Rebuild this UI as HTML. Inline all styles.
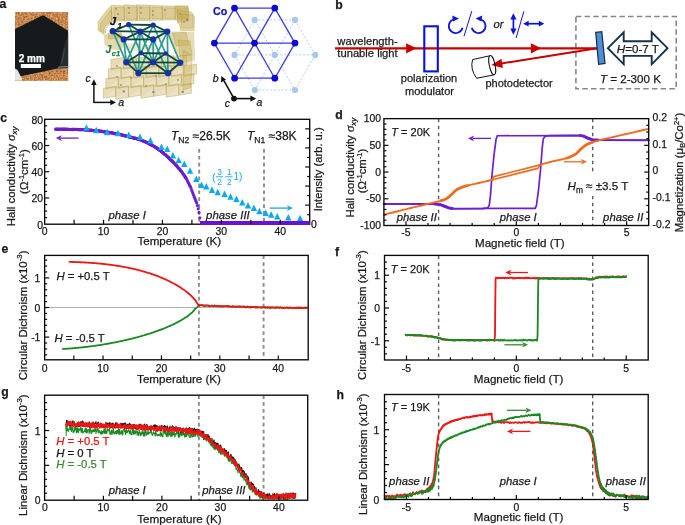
<!DOCTYPE html>
<html><head><meta charset="utf-8"><style>
html,body{margin:0;padding:0;background:#fff;}
svg{display:block;font-family:"Liberation Sans",sans-serif;will-change:transform;}
</style></head><body>
<svg width="685" height="525" viewBox="0 0 685 525">
<rect width="685" height="525" fill="#fff"/>
<text x="-0.60" y="8.40" font-size="12.2" text-anchor="start" font-weight="bold" font-style="normal" fill="#1a1a1a" stroke="#1a1a1a" stroke-width="0.25" >a</text>
<text x="335.30" y="8.80" font-size="12.2" text-anchor="start" font-weight="bold" font-style="normal" fill="#1a1a1a" stroke="#1a1a1a" stroke-width="0.25" >b</text>
<text x="0.20" y="121.70" font-size="12.2" text-anchor="start" font-weight="bold" font-style="normal" fill="#1a1a1a" stroke="#1a1a1a" stroke-width="0.25" >c</text>
<text x="335.20" y="118.60" font-size="12.2" text-anchor="start" font-weight="bold" font-style="normal" fill="#1a1a1a" stroke="#1a1a1a" stroke-width="0.25" >d</text>
<text x="1.60" y="253.20" font-size="12.2" text-anchor="start" font-weight="bold" font-style="normal" fill="#1a1a1a" stroke="#1a1a1a" stroke-width="0.25" >e</text>
<text x="334.90" y="255.60" font-size="12.2" text-anchor="start" font-weight="bold" font-style="normal" fill="#1a1a1a" stroke="#1a1a1a" stroke-width="0.25" >f</text>
<text x="1.20" y="396.10" font-size="12.2" text-anchor="start" font-weight="bold" font-style="normal" fill="#1a1a1a" stroke="#1a1a1a" stroke-width="0.25" >g</text>
<text x="336.50" y="398.80" font-size="12.2" text-anchor="start" font-weight="bold" font-style="normal" fill="#1a1a1a" stroke="#1a1a1a" stroke-width="0.25" >h</text>
<line x1="199.20" y1="149.00" x2="199.20" y2="224.20" stroke="#8c8c8c" stroke-width="1.9" stroke-dasharray="3.7,3.2"/>
<line x1="264.00" y1="149.00" x2="264.00" y2="224.20" stroke="#8c8c8c" stroke-width="1.9" stroke-dasharray="3.7,3.2"/>
<polyline points="55.80,129.30 56.19,129.30 56.64,129.30 57.16,129.31 57.73,129.31 58.35,129.31 59.01,129.31 59.71,129.32 60.45,129.32 61.21,129.32 62.00,129.33 62.81,129.33 63.62,129.33 64.45,129.34 65.28,129.34 66.10,129.35 66.92,129.36 67.72,129.37 68.51,129.38 69.27,129.39 70.00,129.40 70.72,129.41 71.44,129.42 72.16,129.44 72.88,129.45 73.60,129.46 74.33,129.48 75.06,129.49 75.78,129.50 76.51,129.52 77.24,129.54 77.96,129.56 78.69,129.58 79.41,129.60 80.13,129.62 80.85,129.64 81.57,129.67 82.28,129.70 82.99,129.73 83.70,129.76 84.40,129.80 85.10,129.84 85.80,129.88 86.50,129.92 87.20,129.97 87.89,130.01 88.59,130.06 89.28,130.11 89.97,130.16 90.66,130.21 91.35,130.27 92.03,130.33 92.71,130.38 93.39,130.44 94.06,130.50 94.73,130.57 95.40,130.63 96.05,130.70 96.71,130.76 97.36,130.83 98.00,130.90 98.64,130.97 99.28,131.04 99.91,131.12 100.54,131.20 101.17,131.28 101.80,131.36 102.42,131.44 103.04,131.53 103.65,131.61 104.26,131.70 104.86,131.79 105.46,131.88 106.05,131.97 106.63,132.06 107.21,132.15 107.79,132.24 108.35,132.33 108.91,132.42 109.46,132.51 110.00,132.60 110.53,132.69 111.05,132.78 111.56,132.87 112.06,132.96 112.55,133.05 113.03,133.14 113.51,133.23 113.98,133.33 114.45,133.42 114.91,133.51 115.36,133.61 115.82,133.70 116.27,133.80 116.73,133.89 117.18,133.99 117.64,134.09 118.10,134.19 118.56,134.29 119.03,134.40 119.50,134.50 119.97,134.61 120.45,134.71 120.92,134.82 121.40,134.93 121.87,135.04 122.35,135.15 122.82,135.27 123.30,135.38 123.77,135.50 124.24,135.61 124.72,135.73 125.19,135.85 125.67,135.96 126.14,136.08 126.62,136.20 127.09,136.32 127.57,136.44 128.05,136.56 128.52,136.68 129.00,136.80 129.48,136.92 129.96,137.04 130.44,137.15 130.92,137.27 131.40,137.38 131.88,137.49 132.36,137.61 132.84,137.72 133.32,137.84 133.80,137.96 134.28,138.08 134.76,138.20 135.24,138.32 135.72,138.45 136.20,138.58 136.68,138.71 137.16,138.85 137.64,139.00 138.12,139.15 138.60,139.30 139.08,139.46 139.55,139.62 140.03,139.78 140.51,139.95 140.98,140.11 141.46,140.28 141.93,140.46 142.41,140.64 142.88,140.82 143.36,141.00 143.83,141.19 144.30,141.38 144.78,141.58 145.25,141.78 145.73,141.99 146.20,142.20 146.68,142.41 147.15,142.64 147.63,142.87 148.10,143.10 148.57,143.34 149.05,143.58 149.53,143.83 150.00,144.09 150.47,144.35 150.95,144.61 151.42,144.88 151.90,145.15 152.38,145.43 152.85,145.71 153.32,146.00 153.80,146.29 154.28,146.59 154.75,146.89 155.22,147.20 155.70,147.51 156.17,147.82 156.65,148.14 157.12,148.47 157.60,148.80 158.07,149.13 158.55,149.47 159.02,149.82 159.50,150.17 159.97,150.52 160.45,150.88 160.92,151.24 161.40,151.61 161.87,151.98 162.34,152.36 162.82,152.74 163.29,153.12 163.77,153.52 164.24,153.91 164.72,154.31 165.19,154.72 165.67,155.13 166.15,155.55 166.62,155.97 167.10,156.40 167.58,156.83 168.06,157.28 168.55,157.73 169.05,158.19 169.54,158.66 170.04,159.14 170.53,159.62 171.03,160.10 171.52,160.59 172.02,161.08 172.51,161.58 173.00,162.07 173.48,162.57 173.96,163.06 174.44,163.56 174.91,164.05 175.37,164.55 175.82,165.04 176.27,165.52 176.70,166.00 177.13,166.48 177.55,166.95 177.97,167.42 178.38,167.89 178.79,168.36 179.19,168.83 179.58,169.29 179.98,169.76 180.36,170.23 180.74,170.69 181.12,171.16 181.49,171.63 181.86,172.11 182.22,172.58 182.58,173.06 182.93,173.54 183.28,174.02 183.63,174.51 183.97,175.00 184.30,175.50 184.63,176.00 184.96,176.51 185.28,177.03 185.59,177.55 185.90,178.08" fill="none" stroke="#6a1fd0" stroke-width="3.0" stroke-linejoin="round" stroke-linecap="round" />
<circle cx="55.80" cy="129.21" r="1.6" fill="#6a1fd0"/>
<circle cx="56.60" cy="129.13" r="1.6" fill="#6a1fd0"/>
<circle cx="57.40" cy="129.38" r="1.6" fill="#6a1fd0"/>
<circle cx="58.20" cy="129.10" r="1.6" fill="#6a1fd0"/>
<circle cx="59.00" cy="129.33" r="1.6" fill="#6a1fd0"/>
<circle cx="59.80" cy="129.25" r="1.6" fill="#6a1fd0"/>
<circle cx="60.60" cy="129.10" r="1.6" fill="#6a1fd0"/>
<circle cx="61.40" cy="129.33" r="1.6" fill="#6a1fd0"/>
<circle cx="62.20" cy="129.09" r="1.6" fill="#6a1fd0"/>
<circle cx="63.00" cy="129.30" r="1.6" fill="#6a1fd0"/>
<circle cx="63.80" cy="129.12" r="1.6" fill="#6a1fd0"/>
<circle cx="64.60" cy="129.14" r="1.6" fill="#6a1fd0"/>
<circle cx="65.40" cy="129.31" r="1.6" fill="#6a1fd0"/>
<circle cx="66.20" cy="129.52" r="1.6" fill="#6a1fd0"/>
<circle cx="67.00" cy="129.17" r="1.6" fill="#6a1fd0"/>
<circle cx="67.80" cy="129.23" r="1.6" fill="#6a1fd0"/>
<circle cx="68.60" cy="129.44" r="1.6" fill="#6a1fd0"/>
<circle cx="69.40" cy="129.61" r="1.6" fill="#6a1fd0"/>
<circle cx="70.20" cy="129.44" r="1.6" fill="#6a1fd0"/>
<circle cx="71.00" cy="129.37" r="1.6" fill="#6a1fd0"/>
<circle cx="71.80" cy="129.67" r="1.6" fill="#6a1fd0"/>
<circle cx="72.60" cy="129.22" r="1.6" fill="#6a1fd0"/>
<circle cx="73.40" cy="129.64" r="1.6" fill="#6a1fd0"/>
<circle cx="74.20" cy="129.37" r="1.6" fill="#6a1fd0"/>
<circle cx="75.00" cy="129.31" r="1.6" fill="#6a1fd0"/>
<circle cx="75.80" cy="129.31" r="1.6" fill="#6a1fd0"/>
<circle cx="76.60" cy="129.43" r="1.6" fill="#6a1fd0"/>
<circle cx="77.40" cy="129.70" r="1.6" fill="#6a1fd0"/>
<circle cx="78.20" cy="129.40" r="1.6" fill="#6a1fd0"/>
<circle cx="79.00" cy="129.63" r="1.6" fill="#6a1fd0"/>
<circle cx="79.80" cy="129.68" r="1.6" fill="#6a1fd0"/>
<circle cx="80.60" cy="129.57" r="1.6" fill="#6a1fd0"/>
<circle cx="81.40" cy="129.69" r="1.6" fill="#6a1fd0"/>
<circle cx="82.20" cy="129.48" r="1.6" fill="#6a1fd0"/>
<circle cx="83.00" cy="129.51" r="1.6" fill="#6a1fd0"/>
<circle cx="83.80" cy="129.62" r="1.6" fill="#6a1fd0"/>
<circle cx="84.60" cy="129.90" r="1.6" fill="#6a1fd0"/>
<circle cx="85.40" cy="129.82" r="1.6" fill="#6a1fd0"/>
<circle cx="86.20" cy="129.81" r="1.6" fill="#6a1fd0"/>
<circle cx="87.00" cy="130.00" r="1.6" fill="#6a1fd0"/>
<circle cx="87.80" cy="129.98" r="1.6" fill="#6a1fd0"/>
<circle cx="88.60" cy="129.96" r="1.6" fill="#6a1fd0"/>
<circle cx="89.40" cy="130.27" r="1.6" fill="#6a1fd0"/>
<circle cx="90.20" cy="130.28" r="1.6" fill="#6a1fd0"/>
<circle cx="91.00" cy="130.11" r="1.6" fill="#6a1fd0"/>
<circle cx="91.80" cy="130.34" r="1.6" fill="#6a1fd0"/>
<circle cx="92.60" cy="130.39" r="1.6" fill="#6a1fd0"/>
<circle cx="93.40" cy="130.63" r="1.6" fill="#6a1fd0"/>
<circle cx="94.20" cy="130.63" r="1.6" fill="#6a1fd0"/>
<circle cx="95.00" cy="130.49" r="1.6" fill="#6a1fd0"/>
<circle cx="95.80" cy="130.91" r="1.6" fill="#6a1fd0"/>
<circle cx="96.60" cy="130.56" r="1.6" fill="#6a1fd0"/>
<circle cx="97.40" cy="130.79" r="1.6" fill="#6a1fd0"/>
<circle cx="98.20" cy="131.05" r="1.6" fill="#6a1fd0"/>
<circle cx="99.00" cy="130.84" r="1.6" fill="#6a1fd0"/>
<circle cx="99.80" cy="131.10" r="1.6" fill="#6a1fd0"/>
<circle cx="100.60" cy="130.98" r="1.6" fill="#6a1fd0"/>
<circle cx="101.40" cy="131.39" r="1.6" fill="#6a1fd0"/>
<circle cx="102.20" cy="131.55" r="1.6" fill="#6a1fd0"/>
<circle cx="103.00" cy="131.56" r="1.6" fill="#6a1fd0"/>
<circle cx="103.80" cy="131.82" r="1.6" fill="#6a1fd0"/>
<circle cx="104.60" cy="131.66" r="1.6" fill="#6a1fd0"/>
<circle cx="105.40" cy="131.97" r="1.6" fill="#6a1fd0"/>
<circle cx="106.20" cy="132.04" r="1.6" fill="#6a1fd0"/>
<circle cx="107.00" cy="132.15" r="1.6" fill="#6a1fd0"/>
<circle cx="107.80" cy="132.22" r="1.6" fill="#6a1fd0"/>
<circle cx="108.60" cy="132.54" r="1.6" fill="#6a1fd0"/>
<circle cx="109.40" cy="132.72" r="1.6" fill="#6a1fd0"/>
<circle cx="110.20" cy="132.62" r="1.6" fill="#6a1fd0"/>
<circle cx="111.00" cy="132.85" r="1.6" fill="#6a1fd0"/>
<circle cx="111.80" cy="132.69" r="1.6" fill="#6a1fd0"/>
<circle cx="112.60" cy="133.16" r="1.6" fill="#6a1fd0"/>
<circle cx="113.40" cy="133.29" r="1.6" fill="#6a1fd0"/>
<circle cx="114.20" cy="133.62" r="1.6" fill="#6a1fd0"/>
<circle cx="115.00" cy="133.69" r="1.6" fill="#6a1fd0"/>
<circle cx="115.80" cy="133.59" r="1.6" fill="#6a1fd0"/>
<circle cx="116.60" cy="133.81" r="1.6" fill="#6a1fd0"/>
<circle cx="117.40" cy="134.12" r="1.6" fill="#6a1fd0"/>
<circle cx="118.20" cy="133.97" r="1.6" fill="#6a1fd0"/>
<circle cx="119.00" cy="134.37" r="1.6" fill="#6a1fd0"/>
<circle cx="119.80" cy="134.40" r="1.6" fill="#6a1fd0"/>
<circle cx="120.60" cy="134.56" r="1.6" fill="#6a1fd0"/>
<circle cx="121.40" cy="134.71" r="1.6" fill="#6a1fd0"/>
<circle cx="122.20" cy="135.25" r="1.6" fill="#6a1fd0"/>
<circle cx="123.00" cy="135.13" r="1.6" fill="#6a1fd0"/>
<circle cx="123.80" cy="135.38" r="1.6" fill="#6a1fd0"/>
<circle cx="124.60" cy="135.65" r="1.6" fill="#6a1fd0"/>
<circle cx="125.40" cy="136.08" r="1.6" fill="#6a1fd0"/>
<circle cx="126.20" cy="135.89" r="1.6" fill="#6a1fd0"/>
<circle cx="127.00" cy="136.27" r="1.6" fill="#6a1fd0"/>
<circle cx="127.80" cy="136.52" r="1.6" fill="#6a1fd0"/>
<circle cx="128.60" cy="136.89" r="1.6" fill="#6a1fd0"/>
<circle cx="129.40" cy="137.06" r="1.6" fill="#6a1fd0"/>
<circle cx="130.20" cy="137.28" r="1.6" fill="#6a1fd0"/>
<circle cx="131.00" cy="137.18" r="1.6" fill="#6a1fd0"/>
<circle cx="131.80" cy="137.43" r="1.6" fill="#6a1fd0"/>
<circle cx="132.60" cy="137.60" r="1.6" fill="#6a1fd0"/>
<circle cx="133.40" cy="138.05" r="1.6" fill="#6a1fd0"/>
<circle cx="134.20" cy="138.28" r="1.6" fill="#6a1fd0"/>
<circle cx="135.00" cy="138.08" r="1.6" fill="#6a1fd0"/>
<circle cx="135.80" cy="138.31" r="1.6" fill="#6a1fd0"/>
<circle cx="136.60" cy="138.56" r="1.6" fill="#6a1fd0"/>
<circle cx="137.40" cy="138.79" r="1.6" fill="#6a1fd0"/>
<circle cx="138.20" cy="139.16" r="1.6" fill="#6a1fd0"/>
<circle cx="139.00" cy="139.48" r="1.6" fill="#6a1fd0"/>
<circle cx="139.80" cy="139.58" r="1.6" fill="#6a1fd0"/>
<circle cx="140.60" cy="139.73" r="1.6" fill="#6a1fd0"/>
<circle cx="141.40" cy="140.22" r="1.6" fill="#6a1fd0"/>
<circle cx="142.20" cy="140.49" r="1.6" fill="#6a1fd0"/>
<circle cx="143.00" cy="140.89" r="1.6" fill="#6a1fd0"/>
<circle cx="143.80" cy="141.40" r="1.6" fill="#6a1fd0"/>
<circle cx="144.60" cy="141.60" r="1.6" fill="#6a1fd0"/>
<circle cx="145.40" cy="141.85" r="1.6" fill="#6a1fd0"/>
<circle cx="146.20" cy="142.26" r="1.6" fill="#6a1fd0"/>
<circle cx="147.00" cy="142.65" r="1.6" fill="#6a1fd0"/>
<circle cx="147.80" cy="142.73" r="1.6" fill="#6a1fd0"/>
<circle cx="148.60" cy="143.55" r="1.6" fill="#6a1fd0"/>
<circle cx="149.40" cy="143.91" r="1.6" fill="#6a1fd0"/>
<circle cx="150.20" cy="144.38" r="1.6" fill="#6a1fd0"/>
<circle cx="151.00" cy="144.79" r="1.6" fill="#6a1fd0"/>
<circle cx="151.80" cy="145.04" r="1.6" fill="#6a1fd0"/>
<circle cx="152.60" cy="145.51" r="1.6" fill="#6a1fd0"/>
<circle cx="153.40" cy="145.85" r="1.6" fill="#6a1fd0"/>
<circle cx="154.20" cy="146.61" r="1.6" fill="#6a1fd0"/>
<circle cx="155.00" cy="146.83" r="1.6" fill="#6a1fd0"/>
<circle cx="155.80" cy="147.36" r="1.6" fill="#6a1fd0"/>
<circle cx="156.60" cy="147.97" r="1.6" fill="#6a1fd0"/>
<circle cx="157.40" cy="148.49" r="1.6" fill="#6a1fd0"/>
<circle cx="158.20" cy="149.14" r="1.6" fill="#6a1fd0"/>
<circle cx="159.00" cy="149.58" r="1.6" fill="#6a1fd0"/>
<circle cx="159.80" cy="150.14" r="1.6" fill="#6a1fd0"/>
<circle cx="160.60" cy="150.82" r="1.6" fill="#6a1fd0"/>
<circle cx="161.40" cy="151.41" r="1.6" fill="#6a1fd0"/>
<circle cx="162.20" cy="152.17" r="1.6" fill="#6a1fd0"/>
<circle cx="163.00" cy="152.65" r="1.6" fill="#6a1fd0"/>
<circle cx="163.80" cy="153.73" r="1.6" fill="#6a1fd0"/>
<circle cx="164.60" cy="154.27" r="1.6" fill="#6a1fd0"/>
<circle cx="165.40" cy="154.72" r="1.6" fill="#6a1fd0"/>
<circle cx="166.20" cy="155.47" r="1.6" fill="#6a1fd0"/>
<circle cx="167.00" cy="156.23" r="1.6" fill="#6a1fd0"/>
<circle cx="167.80" cy="156.97" r="1.6" fill="#6a1fd0"/>
<circle cx="168.60" cy="157.59" r="1.6" fill="#6a1fd0"/>
<circle cx="169.40" cy="158.70" r="1.6" fill="#6a1fd0"/>
<circle cx="170.20" cy="159.54" r="1.6" fill="#6a1fd0"/>
<circle cx="171.00" cy="160.06" r="1.6" fill="#6a1fd0"/>
<circle cx="171.80" cy="160.86" r="1.6" fill="#6a1fd0"/>
<circle cx="172.60" cy="161.46" r="1.6" fill="#6a1fd0"/>
<circle cx="173.40" cy="162.28" r="1.6" fill="#6a1fd0"/>
<circle cx="174.20" cy="163.23" r="1.6" fill="#6a1fd0"/>
<circle cx="175.00" cy="164.04" r="1.6" fill="#6a1fd0"/>
<circle cx="175.80" cy="165.18" r="1.6" fill="#6a1fd0"/>
<circle cx="176.60" cy="165.72" r="1.6" fill="#6a1fd0"/>
<circle cx="177.40" cy="166.54" r="1.6" fill="#6a1fd0"/>
<circle cx="178.20" cy="167.91" r="1.6" fill="#6a1fd0"/>
<circle cx="179.00" cy="168.62" r="1.6" fill="#6a1fd0"/>
<circle cx="179.80" cy="169.37" r="1.6" fill="#6a1fd0"/>
<circle cx="180.60" cy="170.54" r="1.6" fill="#6a1fd0"/>
<circle cx="181.40" cy="171.28" r="1.6" fill="#6a1fd0"/>
<circle cx="182.20" cy="172.56" r="1.6" fill="#6a1fd0"/>
<circle cx="183.00" cy="173.87" r="1.6" fill="#6a1fd0"/>
<circle cx="183.80" cy="174.94" r="1.6" fill="#6a1fd0"/>
<circle cx="184.60" cy="176.06" r="1.6" fill="#6a1fd0"/>
<circle cx="185.40" cy="177.12" r="1.6" fill="#6a1fd0"/>
<circle cx="186.20" cy="178.52" r="1.6" fill="#6a1fd0"/>
<circle cx="187.00" cy="179.86" r="1.6" fill="#6a1fd0"/>
<circle cx="187.80" cy="181.67" r="1.6" fill="#6a1fd0"/>
<circle cx="188.60" cy="183.13" r="1.6" fill="#6a1fd0"/>
<circle cx="189.40" cy="184.89" r="1.6" fill="#6a1fd0"/>
<circle cx="190.20" cy="186.34" r="1.6" fill="#6a1fd0"/>
<circle cx="191.00" cy="188.10" r="1.6" fill="#6a1fd0"/>
<circle cx="191.80" cy="190.38" r="1.6" fill="#6a1fd0"/>
<circle cx="192.60" cy="192.57" r="1.6" fill="#6a1fd0"/>
<circle cx="193.40" cy="194.64" r="1.6" fill="#6a1fd0"/>
<circle cx="194.20" cy="196.66" r="1.6" fill="#6a1fd0"/>
<circle cx="195.00" cy="198.66" r="1.6" fill="#6a1fd0"/>
<circle cx="195.80" cy="200.65" r="1.6" fill="#6a1fd0"/>
<circle cx="196.60" cy="202.65" r="1.6" fill="#6a1fd0"/>
<circle cx="197.40" cy="205.54" r="1.6" fill="#6a1fd0"/>
<circle cx="198.20" cy="208.78" r="1.6" fill="#6a1fd0"/>
<circle cx="199.00" cy="212.72" r="1.6" fill="#6a1fd0"/>
<circle cx="199.80" cy="217.80" r="1.6" fill="#6a1fd0"/>
<polygon points="86.40,124.20 89.60,130.70 83.20,130.70" fill="#10a8ea" stroke="none" stroke-width="1.0" />
<polygon points="96.20,126.70 99.40,133.20 93.00,133.20" fill="#10a8ea" stroke="none" stroke-width="1.0" />
<polygon points="107.10,128.70 110.30,135.20 103.90,135.20" fill="#10a8ea" stroke="none" stroke-width="1.0" />
<polygon points="117.90,129.70 121.10,136.20 114.70,136.20" fill="#10a8ea" stroke="none" stroke-width="1.0" />
<polygon points="128.80,131.60 132.00,138.10 125.60,138.10" fill="#10a8ea" stroke="none" stroke-width="1.0" />
<polygon points="140.00,133.60 143.20,140.10 136.80,140.10" fill="#10a8ea" stroke="none" stroke-width="1.0" />
<polygon points="150.40,137.00 153.60,143.50 147.20,143.50" fill="#10a8ea" stroke="none" stroke-width="1.0" />
<polygon points="161.40,143.50 164.60,150.00 158.20,150.00" fill="#10a8ea" stroke="none" stroke-width="1.0" />
<polygon points="167.20,145.60 170.40,152.10 164.00,152.10" fill="#10a8ea" stroke="none" stroke-width="1.0" />
<polygon points="172.90,152.00 176.10,158.50 169.70,158.50" fill="#10a8ea" stroke="none" stroke-width="1.0" />
<polygon points="178.60,156.80 181.80,163.30 175.40,163.30" fill="#10a8ea" stroke="none" stroke-width="1.0" />
<polygon points="184.30,160.60 187.50,167.10 181.10,167.10" fill="#10a8ea" stroke="none" stroke-width="1.0" />
<polygon points="190.00,167.30 193.20,173.80 186.80,173.80" fill="#10a8ea" stroke="none" stroke-width="1.0" />
<polygon points="196.30,175.50 199.50,182.00 193.10,182.00" fill="#10a8ea" stroke="none" stroke-width="1.0" />
<polygon points="201.50,181.60 204.70,188.10 198.30,188.10" fill="#10a8ea" stroke="none" stroke-width="1.0" />
<polygon points="206.30,183.10 209.50,189.60 203.10,189.60" fill="#10a8ea" stroke="none" stroke-width="1.0" />
<polygon points="212.00,186.40 215.20,192.90 208.80,192.90" fill="#10a8ea" stroke="none" stroke-width="1.0" />
<polygon points="217.70,188.80 220.90,195.30 214.50,195.30" fill="#10a8ea" stroke="none" stroke-width="1.0" />
<polygon points="224.60,190.60 227.80,197.10 221.40,197.10" fill="#10a8ea" stroke="none" stroke-width="1.0" />
<polygon points="230.50,193.20 233.70,199.70 227.30,199.70" fill="#10a8ea" stroke="none" stroke-width="1.0" />
<polygon points="236.40,195.50 239.60,202.00 233.20,202.00" fill="#10a8ea" stroke="none" stroke-width="1.0" />
<polygon points="242.30,198.90 245.50,205.40 239.10,205.40" fill="#10a8ea" stroke="none" stroke-width="1.0" />
<polygon points="248.00,202.00 251.20,208.50 244.80,208.50" fill="#10a8ea" stroke="none" stroke-width="1.0" />
<polygon points="253.90,204.40 257.10,210.90 250.70,210.90" fill="#10a8ea" stroke="none" stroke-width="1.0" />
<polygon points="259.40,207.70 262.60,214.20 256.20,214.20" fill="#10a8ea" stroke="none" stroke-width="1.0" />
<polygon points="265.70,209.40 268.90,215.90 262.50,215.90" fill="#10a8ea" stroke="none" stroke-width="1.0" />
<polygon points="271.20,211.20 274.40,217.70 268.00,217.70" fill="#10a8ea" stroke="none" stroke-width="1.0" />
<polygon points="277.20,212.90 280.40,219.40 274.00,219.40" fill="#10a8ea" stroke="none" stroke-width="1.0" />
<polygon points="288.30,213.90 291.50,220.40 285.10,220.40" fill="#10a8ea" stroke="none" stroke-width="1.0" />
<polygon points="300.10,214.70 303.30,221.20 296.90,221.20" fill="#10a8ea" stroke="none" stroke-width="1.0" />
<rect x="44.65" y="119.30" width="265.05" height="104.90" fill="none" stroke="#0a0a0a" stroke-width="1.35"/>
<rect x="200.0" y="221.0" width="109.70" height="4.0" fill="#6a12d2"/>
<line x1="44.65" y1="197.97" x2="49.15" y2="197.97" stroke="#0a0a0a" stroke-width="1.2" />
<line x1="44.65" y1="171.75" x2="49.15" y2="171.75" stroke="#0a0a0a" stroke-width="1.2" />
<line x1="44.65" y1="145.53" x2="49.15" y2="145.53" stroke="#0a0a0a" stroke-width="1.2" />
<line x1="44.65" y1="217.64" x2="47.15" y2="217.64" stroke="#0a0a0a" stroke-width="1.2" />
<line x1="44.65" y1="211.09" x2="47.15" y2="211.09" stroke="#0a0a0a" stroke-width="1.2" />
<line x1="44.65" y1="204.53" x2="47.15" y2="204.53" stroke="#0a0a0a" stroke-width="1.2" />
<line x1="44.65" y1="191.42" x2="47.15" y2="191.42" stroke="#0a0a0a" stroke-width="1.2" />
<line x1="44.65" y1="184.86" x2="47.15" y2="184.86" stroke="#0a0a0a" stroke-width="1.2" />
<line x1="44.65" y1="178.31" x2="47.15" y2="178.31" stroke="#0a0a0a" stroke-width="1.2" />
<line x1="44.65" y1="165.19" x2="47.15" y2="165.19" stroke="#0a0a0a" stroke-width="1.2" />
<line x1="44.65" y1="158.64" x2="47.15" y2="158.64" stroke="#0a0a0a" stroke-width="1.2" />
<line x1="44.65" y1="152.08" x2="47.15" y2="152.08" stroke="#0a0a0a" stroke-width="1.2" />
<line x1="44.65" y1="138.97" x2="47.15" y2="138.97" stroke="#0a0a0a" stroke-width="1.2" />
<line x1="44.65" y1="132.41" x2="47.15" y2="132.41" stroke="#0a0a0a" stroke-width="1.2" />
<line x1="44.65" y1="125.86" x2="47.15" y2="125.86" stroke="#0a0a0a" stroke-width="1.2" />
<line x1="103.55" y1="224.20" x2="103.55" y2="219.80" stroke="#0a0a0a" stroke-width="1.2" />
<line x1="162.45" y1="224.20" x2="162.45" y2="219.80" stroke="#0a0a0a" stroke-width="1.2" />
<line x1="221.35" y1="224.20" x2="221.35" y2="219.80" stroke="#0a0a0a" stroke-width="1.2" />
<line x1="280.25" y1="224.20" x2="280.25" y2="219.80" stroke="#0a0a0a" stroke-width="1.2" />
<line x1="74.10" y1="224.20" x2="74.10" y2="219.80" stroke="#0a0a0a" stroke-width="1.2" />
<line x1="133.00" y1="224.20" x2="133.00" y2="219.80" stroke="#0a0a0a" stroke-width="1.2" />
<line x1="191.90" y1="224.20" x2="191.90" y2="219.80" stroke="#0a0a0a" stroke-width="1.2" />
<line x1="250.80" y1="224.20" x2="250.80" y2="219.80" stroke="#0a0a0a" stroke-width="1.2" />
<line x1="309.70" y1="205.13" x2="305.20" y2="205.13" stroke="#0a0a0a" stroke-width="1.2" />
<line x1="309.70" y1="186.05" x2="305.20" y2="186.05" stroke="#0a0a0a" stroke-width="1.2" />
<line x1="309.70" y1="166.98" x2="305.20" y2="166.98" stroke="#0a0a0a" stroke-width="1.2" />
<line x1="309.70" y1="147.91" x2="305.20" y2="147.91" stroke="#0a0a0a" stroke-width="1.2" />
<line x1="309.70" y1="128.84" x2="305.20" y2="128.84" stroke="#0a0a0a" stroke-width="1.2" />
<line x1="309.70" y1="214.66" x2="307.20" y2="214.66" stroke="#0a0a0a" stroke-width="1.2" />
<line x1="309.70" y1="195.59" x2="307.20" y2="195.59" stroke="#0a0a0a" stroke-width="1.2" />
<line x1="309.70" y1="176.52" x2="307.20" y2="176.52" stroke="#0a0a0a" stroke-width="1.2" />
<line x1="309.70" y1="157.45" x2="307.20" y2="157.45" stroke="#0a0a0a" stroke-width="1.2" />
<line x1="309.70" y1="138.37" x2="307.20" y2="138.37" stroke="#0a0a0a" stroke-width="1.2" />
<text x="43.00" y="228.50" font-size="10.4" text-anchor="end" font-weight="normal" font-style="normal" fill="#1a1a1a" stroke="#1a1a1a" stroke-width="0.25" >0</text>
<text x="43.00" y="202.28" font-size="10.4" text-anchor="end" font-weight="normal" font-style="normal" fill="#1a1a1a" stroke="#1a1a1a" stroke-width="0.25" >20</text>
<text x="43.00" y="176.05" font-size="10.4" text-anchor="end" font-weight="normal" font-style="normal" fill="#1a1a1a" stroke="#1a1a1a" stroke-width="0.25" >40</text>
<text x="43.00" y="149.83" font-size="10.4" text-anchor="end" font-weight="normal" font-style="normal" fill="#1a1a1a" stroke="#1a1a1a" stroke-width="0.25" >60</text>
<text x="43.00" y="123.60" font-size="10.4" text-anchor="end" font-weight="normal" font-style="normal" fill="#1a1a1a" stroke="#1a1a1a" stroke-width="0.25" >80</text>
<text x="44.65" y="234.60" font-size="10.4" text-anchor="middle" font-weight="normal" font-style="normal" fill="#1a1a1a" stroke="#1a1a1a" stroke-width="0.25" >0</text>
<text x="103.55" y="234.60" font-size="10.4" text-anchor="middle" font-weight="normal" font-style="normal" fill="#1a1a1a" stroke="#1a1a1a" stroke-width="0.25" >10</text>
<text x="162.45" y="234.60" font-size="10.4" text-anchor="middle" font-weight="normal" font-style="normal" fill="#1a1a1a" stroke="#1a1a1a" stroke-width="0.25" >20</text>
<text x="221.35" y="234.60" font-size="10.4" text-anchor="middle" font-weight="normal" font-style="normal" fill="#1a1a1a" stroke="#1a1a1a" stroke-width="0.25" >30</text>
<text x="280.25" y="234.60" font-size="10.4" text-anchor="middle" font-weight="normal" font-style="normal" fill="#1a1a1a" stroke="#1a1a1a" stroke-width="0.25" >40</text>
<text x="311.00" y="227.70" font-size="10.4" text-anchor="start" font-weight="normal" font-style="normal" fill="#1a1a1a" stroke="#1a1a1a" stroke-width="0.25" >0</text>
<text x="179.30" y="245.40" font-size="11.6" text-anchor="middle" font-weight="normal" font-style="normal" fill="#1a1a1a" stroke="#1a1a1a" stroke-width="0.25" >Temperature (K)</text>
<text transform="translate(14.70,176.40) rotate(-90)" font-size="11.4" text-anchor="middle" fill="#1a1a1a" stroke="#1a1a1a" stroke-width="0.25">Hall conductivity <tspan font-style="italic" font-family="Liberation Serif" font-size="13">σ</tspan><tspan font-style="italic" font-size="8" dy="2.5">xy</tspan></text>
<text transform="translate(27.50,171.60) rotate(-90)" font-size="11.4" text-anchor="middle" fill="#1a1a1a" stroke="#1a1a1a" stroke-width="0.25">(Ω<tspan font-size="7.5" dy="-4">-1</tspan><tspan dy="4">cm</tspan><tspan font-size="7.5" dy="-4">-1</tspan><tspan dy="4">)</tspan></text>
<text transform="translate(321.80,169.30) rotate(-90)" font-size="11.2" text-anchor="middle" fill="#1a1a1a" stroke="#1a1a1a" stroke-width="0.25">Intensity (arb. u.)</text>
<text x="127.20" y="218.60" font-size="11.4" text-anchor="middle" font-weight="normal" font-style="italic" fill="#1a1a1a" stroke="#1a1a1a" stroke-width="0.25" >phase I</text>
<text x="227.90" y="218.60" font-size="11.4" text-anchor="middle" font-weight="normal" font-style="italic" fill="#1a1a1a" stroke="#1a1a1a" stroke-width="0.25" >phase III</text>
<text x="171.00" y="140.20" font-size="12.0" text-anchor="start" font-weight="normal" font-style="normal" fill="#1a1a1a" stroke="#1a1a1a" stroke-width="0.25" ><tspan font-style="italic">T</tspan><tspan font-size="8.6" dy="2.6">N2</tspan><tspan dy="-2.6"> ≈26.5K</tspan></text>
<text x="247.00" y="140.20" font-size="12.0" text-anchor="start" font-weight="normal" font-style="normal" fill="#1a1a1a" stroke="#1a1a1a" stroke-width="0.25" ><tspan font-style="italic">T</tspan><tspan font-size="8.6" dy="2.6">N1</tspan><tspan dy="-2.6"> ≈38K</tspan></text>
<line x1="78.50" y1="138.10" x2="60.60" y2="138.10" stroke="#6a1fd0" stroke-width="1.3" />
<polygon points="55.80,138.10 61.80,135.30 60.30,138.10 61.80,140.90" fill="#6a1fd0" stroke="none" stroke-width="1.0" />
<line x1="269.70" y1="208.10" x2="288.10" y2="208.10" stroke="#1aa7e6" stroke-width="1.3" />
<polygon points="292.90,208.10 286.90,205.30 288.40,208.10 286.90,210.90" fill="#1aa7e6" stroke="none" stroke-width="1.0" />
<g fill="#1aa7e6" font-size="10"><text x="212.2" y="180.6">(</text><text x="217.2" y="175.3" font-size="8.4">3</text><text x="217.2" y="184.8" font-size="8.4">2</text><text x="226.9" y="175.3" font-size="8.4">1</text><text x="226.9" y="184.8" font-size="8.4">2</text><text x="233.4" y="180.4">1)</text></g>
<line x1="216.00" y1="176.80" x2="223.20" y2="176.80" stroke="#1aa7e6" stroke-width="0.9" />
<line x1="225.20" y1="176.80" x2="232.60" y2="176.80" stroke="#1aa7e6" stroke-width="0.9" />
<line x1="438.60" y1="118.65" x2="438.60" y2="225.50" stroke="#5c5c5c" stroke-width="1.4" stroke-dasharray="3.7,3.3"/>
<line x1="592.70" y1="118.65" x2="592.70" y2="225.50" stroke="#5c5c5c" stroke-width="1.4" stroke-dasharray="3.7,3.3"/>
<polyline points="384.00,203.80 436.00,203.90 440.00,204.60 444.00,206.40 448.00,207.80 452.00,208.40 460.00,208.50 535.30,208.40 536.50,205.00 538.50,190.00 540.50,170.00 542.20,148.00 543.30,139.00 545.00,136.20 550.00,135.60 578.00,135.30 583.00,136.30 587.00,138.40 591.50,139.60 600.00,140.00 648.70,140.20" fill="none" stroke="#6a1fd0" stroke-width="1.7" stroke-linejoin="round" stroke-linecap="round" />
<polyline points="648.60,140.34 596.60,140.24 592.60,139.54 588.60,137.74 584.60,136.34 580.60,135.74 572.60,135.64 497.30,135.74 496.10,139.14 494.10,154.14 492.10,174.14 490.40,196.14 489.30,205.14 487.60,207.94 482.60,208.54 454.60,208.84 449.60,207.84 445.60,205.74 441.10,204.54 432.60,204.14 383.90,203.94" fill="none" stroke="#6a1fd0" stroke-width="1.7" stroke-linejoin="round" stroke-linecap="round" />
<polyline points="434.00,203.90 440.00,204.50 444.00,206.30 448.00,207.80 452.00,208.50" fill="none" stroke="#6a1fd0" stroke-width="2.8" stroke-linejoin="round" stroke-linecap="round" />
<polyline points="580.00,135.30 584.00,136.20 588.00,138.30 592.00,139.60 598.00,140.00" fill="none" stroke="#6a1fd0" stroke-width="2.8" stroke-linejoin="round" stroke-linecap="round" />
<polyline points="384.00,214.70 385.69,214.28 388.00,213.70 390.75,213.01 393.78,212.25 396.92,211.47 400.00,210.70 403.12,209.93 406.43,209.12 409.84,208.28 413.30,207.44 416.71,206.60 420.00,205.80 423.30,205.00 426.70,204.19 430.05,203.39 433.23,202.62 436.09,201.92 438.50,201.30 440.38,200.81 441.81,200.43 442.92,200.12 443.86,199.81 444.74,199.46 445.70,199.00 446.70,198.44 447.62,197.82 448.49,197.16 449.33,196.46 450.16,195.73 451.00,195.00 451.85,194.22 452.69,193.38 453.52,192.51 454.34,191.67 455.17,190.88 456.00,190.20 456.83,189.63 457.66,189.14 458.48,188.71 459.31,188.32 460.15,187.96 461.00,187.60 461.77,187.28 462.43,187.02 463.11,186.79 463.90,186.54 464.93,186.26 466.30,185.90 468.11,185.45 470.29,184.94 472.69,184.38 475.20,183.81 477.68,183.24 480.00,182.70 482.31,182.15 484.75,181.57 487.16,181.00 489.37,180.47 491.24,180.02 492.60,179.70" fill="none" stroke="#f26b1d" stroke-width="1.9" stroke-linejoin="round" stroke-linecap="round" />
<polyline points="492.60,179.70 537.90,168.40 540.00,164.90" fill="none" stroke="#f26b1d" stroke-width="1.6" stroke-linejoin="round" stroke-linecap="round" />
<polyline points="492.60,179.70 493.70,176.60 540.00,164.90" fill="none" stroke="#f26b1d" stroke-width="1.6" stroke-linejoin="round" stroke-linecap="round" />
<polyline points="540.00,164.90 541.01,164.59 542.36,164.18 543.98,163.69 545.82,163.14 547.85,162.57 550.00,162.00 552.46,161.42 555.29,160.79 558.31,160.14 561.30,159.49 564.06,158.83 566.40,158.20 568.30,157.58 569.93,156.97 571.34,156.36 572.57,155.76 573.67,155.17 574.70,154.60 575.60,154.05 576.33,153.53 576.93,153.01 577.46,152.51 577.97,152.01 578.50,151.50 579.03,151.00 579.50,150.51 579.96,150.03 580.42,149.53 580.92,149.03 581.50,148.50 582.16,147.93 582.86,147.33 583.61,146.71 584.39,146.10 585.19,145.52 586.00,145.00 586.82,144.54 587.66,144.13 588.52,143.74 589.40,143.39 590.29,143.04 591.20,142.70 592.12,142.37 593.06,142.06 594.02,141.76 594.99,141.47 595.99,141.19 597.00,140.90 597.87,140.65 598.56,140.44 599.27,140.24 600.20,140.00 601.54,139.67 603.50,139.20 606.19,138.58 609.47,137.83 613.18,136.99 617.11,136.10 621.12,135.19 625.00,134.30 629.10,133.35 633.61,132.31 638.19,131.24 642.47,130.25 646.10,129.41 648.70,128.80" fill="none" stroke="#f26b1d" stroke-width="1.9" stroke-linejoin="round" stroke-linecap="round" />
<polyline points="441.14,200.61 442.11,200.35 442.92,200.12 443.64,199.89 444.30,199.64 444.97,199.35 445.70,199.00 446.46,198.59 447.17,198.14 447.84,197.66 448.49,197.16 449.12,196.63 449.74,196.10 450.36,195.55 451.00,195.00 451.64,194.42 452.27,193.80 452.90,193.16 453.52,192.51 454.14,191.87 454.76,191.26 455.38,190.70 456.00,190.20 456.62,189.76 457.24,189.37 457.86,189.02 458.48,188.71 459.10,188.41 459.73,188.14 460.36,187.87 461.00,187.60 461.59,187.35 462.11,187.15 462.60,186.96 463.11,186.79 463.68,186.61 464.38,186.41 465.23,186.18 466.30,185.90 467.62,185.57" fill="none" stroke="#f26b1d" stroke-width="2.7" stroke-linejoin="round" stroke-linecap="round" />
<polyline points="566.40,158.20 567.86,157.74 569.15,157.27 570.30,156.81 571.34,156.36 572.27,155.90 573.13,155.46 573.93,155.02 574.70,154.60 575.40,154.19 575.99,153.79 576.49,153.40 576.93,153.01 577.33,152.63 577.71,152.26 578.09,151.88 578.50,151.50 578.90,151.12 579.27,150.75 579.62,150.39 579.96,150.03 580.30,149.66 580.66,149.28 581.06,148.90 581.50,148.50 581.99,148.08 582.50,147.63 583.05,147.17 583.61,146.71 584.20,146.25 584.79,145.80 585.39,145.38 586.00,145.00 586.61,144.65 587.24,144.33 587.87,144.03 588.52,143.74 589.18,143.47 589.84,143.21 590.52,142.96 591.20,142.70 591.89,142.45 592.59,142.21" fill="none" stroke="#f26b1d" stroke-width="2.7" stroke-linejoin="round" stroke-linecap="round" />
<rect x="383.90" y="118.65" width="264.80" height="106.85" fill="none" stroke="#0a0a0a" stroke-width="1.35"/>
<line x1="383.90" y1="198.79" x2="388.40" y2="198.79" stroke="#0a0a0a" stroke-width="1.2" />
<line x1="383.90" y1="172.07" x2="388.40" y2="172.07" stroke="#0a0a0a" stroke-width="1.2" />
<line x1="383.90" y1="145.36" x2="388.40" y2="145.36" stroke="#0a0a0a" stroke-width="1.2" />
<line x1="383.90" y1="220.16" x2="386.40" y2="220.16" stroke="#0a0a0a" stroke-width="1.2" />
<line x1="383.90" y1="214.81" x2="386.40" y2="214.81" stroke="#0a0a0a" stroke-width="1.2" />
<line x1="383.90" y1="209.47" x2="386.40" y2="209.47" stroke="#0a0a0a" stroke-width="1.2" />
<line x1="383.90" y1="204.13" x2="386.40" y2="204.13" stroke="#0a0a0a" stroke-width="1.2" />
<line x1="383.90" y1="193.44" x2="386.40" y2="193.44" stroke="#0a0a0a" stroke-width="1.2" />
<line x1="383.90" y1="188.10" x2="386.40" y2="188.10" stroke="#0a0a0a" stroke-width="1.2" />
<line x1="383.90" y1="182.76" x2="386.40" y2="182.76" stroke="#0a0a0a" stroke-width="1.2" />
<line x1="383.90" y1="177.42" x2="386.40" y2="177.42" stroke="#0a0a0a" stroke-width="1.2" />
<line x1="383.90" y1="166.73" x2="386.40" y2="166.73" stroke="#0a0a0a" stroke-width="1.2" />
<line x1="383.90" y1="161.39" x2="386.40" y2="161.39" stroke="#0a0a0a" stroke-width="1.2" />
<line x1="383.90" y1="156.05" x2="386.40" y2="156.05" stroke="#0a0a0a" stroke-width="1.2" />
<line x1="383.90" y1="150.70" x2="386.40" y2="150.70" stroke="#0a0a0a" stroke-width="1.2" />
<line x1="383.90" y1="140.02" x2="386.40" y2="140.02" stroke="#0a0a0a" stroke-width="1.2" />
<line x1="383.90" y1="134.68" x2="386.40" y2="134.68" stroke="#0a0a0a" stroke-width="1.2" />
<line x1="383.90" y1="129.33" x2="386.40" y2="129.33" stroke="#0a0a0a" stroke-width="1.2" />
<line x1="383.90" y1="123.99" x2="386.40" y2="123.99" stroke="#0a0a0a" stroke-width="1.2" />
<line x1="648.70" y1="198.79" x2="644.20" y2="198.79" stroke="#0a0a0a" stroke-width="1.2" />
<line x1="648.70" y1="172.07" x2="644.20" y2="172.07" stroke="#0a0a0a" stroke-width="1.2" />
<line x1="648.70" y1="145.36" x2="644.20" y2="145.36" stroke="#0a0a0a" stroke-width="1.2" />
<line x1="648.70" y1="218.82" x2="646.20" y2="218.82" stroke="#0a0a0a" stroke-width="1.2" />
<line x1="648.70" y1="125.33" x2="646.20" y2="125.33" stroke="#0a0a0a" stroke-width="1.2" />
<line x1="648.70" y1="212.14" x2="646.20" y2="212.14" stroke="#0a0a0a" stroke-width="1.2" />
<line x1="648.70" y1="132.01" x2="646.20" y2="132.01" stroke="#0a0a0a" stroke-width="1.2" />
<line x1="648.70" y1="205.47" x2="646.20" y2="205.47" stroke="#0a0a0a" stroke-width="1.2" />
<line x1="648.70" y1="138.68" x2="646.20" y2="138.68" stroke="#0a0a0a" stroke-width="1.2" />
<line x1="648.70" y1="192.11" x2="646.20" y2="192.11" stroke="#0a0a0a" stroke-width="1.2" />
<line x1="648.70" y1="152.04" x2="646.20" y2="152.04" stroke="#0a0a0a" stroke-width="1.2" />
<line x1="648.70" y1="185.43" x2="646.20" y2="185.43" stroke="#0a0a0a" stroke-width="1.2" />
<line x1="648.70" y1="158.72" x2="646.20" y2="158.72" stroke="#0a0a0a" stroke-width="1.2" />
<line x1="648.70" y1="178.75" x2="646.20" y2="178.75" stroke="#0a0a0a" stroke-width="1.2" />
<line x1="648.70" y1="165.40" x2="646.20" y2="165.40" stroke="#0a0a0a" stroke-width="1.2" />
<line x1="405.97" y1="225.50" x2="405.97" y2="221.30" stroke="#0a0a0a" stroke-width="1.2" />
<line x1="516.30" y1="225.50" x2="516.30" y2="221.30" stroke="#0a0a0a" stroke-width="1.2" />
<line x1="626.63" y1="225.50" x2="626.63" y2="221.30" stroke="#0a0a0a" stroke-width="1.2" />
<line x1="428.03" y1="225.50" x2="428.03" y2="222.90" stroke="#0a0a0a" stroke-width="1.2" />
<line x1="450.10" y1="225.50" x2="450.10" y2="222.90" stroke="#0a0a0a" stroke-width="1.2" />
<line x1="472.17" y1="225.50" x2="472.17" y2="222.90" stroke="#0a0a0a" stroke-width="1.2" />
<line x1="494.23" y1="225.50" x2="494.23" y2="222.90" stroke="#0a0a0a" stroke-width="1.2" />
<line x1="538.37" y1="225.50" x2="538.37" y2="222.90" stroke="#0a0a0a" stroke-width="1.2" />
<line x1="560.43" y1="225.50" x2="560.43" y2="222.90" stroke="#0a0a0a" stroke-width="1.2" />
<line x1="582.50" y1="225.50" x2="582.50" y2="222.90" stroke="#0a0a0a" stroke-width="1.2" />
<line x1="604.57" y1="225.50" x2="604.57" y2="222.90" stroke="#0a0a0a" stroke-width="1.2" />
<text x="381.00" y="229.10" font-size="10.4" text-anchor="end" font-weight="normal" font-style="normal" fill="#1a1a1a" stroke="#1a1a1a" stroke-width="0.25" >-100</text>
<text x="381.00" y="202.39" font-size="10.4" text-anchor="end" font-weight="normal" font-style="normal" fill="#1a1a1a" stroke="#1a1a1a" stroke-width="0.25" >-50</text>
<text x="381.00" y="175.67" font-size="10.4" text-anchor="end" font-weight="normal" font-style="normal" fill="#1a1a1a" stroke="#1a1a1a" stroke-width="0.25" >0</text>
<text x="381.00" y="148.96" font-size="10.4" text-anchor="end" font-weight="normal" font-style="normal" fill="#1a1a1a" stroke="#1a1a1a" stroke-width="0.25" >50</text>
<text x="381.00" y="122.25" font-size="10.4" text-anchor="end" font-weight="normal" font-style="normal" fill="#1a1a1a" stroke="#1a1a1a" stroke-width="0.25" >100</text>
<text x="405.97" y="236.30" font-size="10.4" text-anchor="middle" font-weight="normal" font-style="normal" fill="#1a1a1a" stroke="#1a1a1a" stroke-width="0.25" >-5</text>
<text x="516.30" y="236.30" font-size="10.4" text-anchor="middle" font-weight="normal" font-style="normal" fill="#1a1a1a" stroke="#1a1a1a" stroke-width="0.25" >0</text>
<text x="626.63" y="236.30" font-size="10.4" text-anchor="middle" font-weight="normal" font-style="normal" fill="#1a1a1a" stroke="#1a1a1a" stroke-width="0.25" >5</text>
<text x="652.60" y="120.85" font-size="10.4" text-anchor="start" font-weight="normal" font-style="normal" fill="#1a1a1a" stroke="#1a1a1a" stroke-width="0.25" >0.2</text>
<text x="652.60" y="147.56" font-size="10.4" text-anchor="start" font-weight="normal" font-style="normal" fill="#1a1a1a" stroke="#1a1a1a" stroke-width="0.25" >0.1</text>
<text x="652.60" y="174.27" font-size="10.4" text-anchor="start" font-weight="normal" font-style="normal" fill="#1a1a1a" stroke="#1a1a1a" stroke-width="0.25" >0</text>
<text x="652.60" y="200.99" font-size="10.4" text-anchor="start" font-weight="normal" font-style="normal" fill="#1a1a1a" stroke="#1a1a1a" stroke-width="0.25" >-0.1</text>
<text x="652.60" y="227.70" font-size="10.4" text-anchor="start" font-weight="normal" font-style="normal" fill="#1a1a1a" stroke="#1a1a1a" stroke-width="0.25" >-0.2</text>
<text x="519.80" y="246.50" font-size="11.6" text-anchor="middle" font-weight="normal" font-style="normal" fill="#1a1a1a" stroke="#1a1a1a" stroke-width="0.25" >Magnetic field (T)</text>
<text transform="translate(353.90,167.60) rotate(-90)" font-size="11.4" text-anchor="middle" fill="#1a1a1a" stroke="#1a1a1a" stroke-width="0.25">Hall conductivity <tspan font-style="italic" font-family="Liberation Serif" font-size="13">σ</tspan><tspan font-style="italic" font-size="8" dy="2.5">xy</tspan></text>
<text transform="translate(366.00,171.00) rotate(-90)" font-size="11.4" text-anchor="middle" fill="#1a1a1a" stroke="#1a1a1a" stroke-width="0.25">(Ω<tspan font-size="7.5" dy="-4">-1</tspan><tspan dy="4">cm</tspan><tspan font-size="7.5" dy="-4">-1</tspan><tspan dy="4">)</tspan></text>
<text transform="translate(682.80,172.50) rotate(-90)" font-size="11.4" text-anchor="middle" fill="#1a1a1a" stroke="#1a1a1a" stroke-width="0.25">Magnetization (μ<tspan font-size="7.5" dy="2.5">B</tspan><tspan dy="-2.5">/Co</tspan><tspan font-size="7.5" dy="-4">2+</tspan><tspan dy="4">)</tspan></text>
<text x="391.30" y="135.80" font-size="11.0" text-anchor="start" font-weight="normal" font-style="normal" fill="#1a1a1a" stroke="#1a1a1a" stroke-width="0.25" ><tspan font-style="italic">T</tspan> = 20K</text>
<rect x="566" y="174" width="62" height="22" fill="#fff"/>
<text x="567.50" y="190.00" font-size="11.6" text-anchor="start" font-weight="normal" font-style="normal" fill="#1a1a1a" stroke="#1a1a1a" stroke-width="0.25" ><tspan font-style="italic">H</tspan><tspan font-size="8.4" dy="2.6">m</tspan><tspan dy="-2.6"> ≈ ±3.5 T</tspan></text>
<text x="416.80" y="220.90" font-size="11.3" text-anchor="middle" font-weight="normal" font-style="italic" fill="#1a1a1a" stroke="#1a1a1a" stroke-width="0.25" >phase II</text>
<text x="518.20" y="220.90" font-size="11.3" text-anchor="middle" font-weight="normal" font-style="italic" fill="#1a1a1a" stroke="#1a1a1a" stroke-width="0.25" >phase I</text>
<text x="623.20" y="220.90" font-size="11.3" text-anchor="middle" font-weight="normal" font-style="italic" fill="#1a1a1a" stroke="#1a1a1a" stroke-width="0.25" >phase II</text>
<line x1="491.00" y1="138.40" x2="472.80" y2="138.40" stroke="#6a1fd0" stroke-width="1.3" />
<polygon points="468.00,138.40 474.00,135.60 472.50,138.40 474.00,141.20" fill="#6a1fd0" stroke="none" stroke-width="1.0" />
<line x1="564.00" y1="161.80" x2="582.20" y2="161.80" stroke="#f26b1d" stroke-width="1.3" />
<polygon points="587.00,161.80 581.00,159.00 582.50,161.80 581.00,164.60" fill="#f26b1d" stroke="none" stroke-width="1.0" />
<line x1="44.65" y1="307.50" x2="308.20" y2="307.50" stroke="#9a9a9a" stroke-width="0.8" />
<line x1="198.90" y1="255.40" x2="198.90" y2="359.80" stroke="#8c8c8c" stroke-width="1.9" stroke-dasharray="3.7,3.2"/>
<line x1="263.60" y1="255.40" x2="263.60" y2="359.80" stroke="#8c8c8c" stroke-width="1.9" stroke-dasharray="3.7,3.2"/>
<polyline points="199.60,305.09 200.20,305.47 200.80,305.28 201.40,305.58 202.00,305.63 202.60,304.98 203.20,304.93 203.80,305.94 204.40,305.27 205.00,305.26 205.60,306.19 206.20,305.58 206.80,306.04 207.40,305.63 208.00,305.84 208.60,305.28 209.20,305.88 209.80,306.18 210.40,305.78 211.00,306.06 211.60,306.00 212.20,305.29 212.80,306.14 213.40,305.96 214.00,305.63 214.60,305.33 215.20,306.35 215.80,305.90 216.40,306.21 217.00,306.43 217.60,306.25 218.20,306.52 218.80,305.90 219.40,306.41 220.00,306.00 220.60,306.61 221.20,306.56 221.80,305.65 222.40,305.71 223.00,305.83 223.60,306.75 224.20,306.13 224.80,306.38 225.40,306.01 226.00,306.27 226.60,306.15 227.20,306.13 227.80,306.43 228.40,306.45 229.00,306.85 229.60,306.60 230.20,306.92 230.80,306.85 231.40,307.03 232.00,306.67 232.60,306.08 233.20,306.94 233.80,307.08 234.40,307.03 235.00,306.64 235.60,306.84 236.20,306.25 236.80,307.02 237.40,306.73 238.00,306.40 238.60,306.16 239.20,307.12 239.80,307.31 240.40,306.24 241.00,307.12 241.60,306.67 242.20,306.38 242.80,306.57 243.40,307.16 244.00,307.30 244.60,306.33 245.20,307.03 245.80,306.37 246.40,307.20 247.00,306.75 247.60,307.43 248.20,307.57 248.80,307.02 249.40,307.63 250.00,306.83 250.60,306.57 251.20,307.21 251.80,306.55 252.40,306.77 253.00,307.04 253.60,307.30 254.20,306.78 254.80,306.66 255.40,307.67 256.00,307.03 256.60,307.82 257.20,307.77 257.80,307.16 258.40,307.28 259.00,307.37 259.60,307.54 260.20,307.50 260.80,307.48 261.40,307.57 262.00,307.98 262.60,307.48 263.20,307.40 263.80,307.77 264.40,307.19 265.00,307.27 265.60,308.09 266.20,307.55 266.80,307.59 267.40,306.95 268.00,307.44 268.60,307.64 269.20,306.97 269.80,307.70 270.40,307.72 271.00,307.04 271.60,307.73 272.20,307.54 272.80,307.80 273.40,307.41 274.00,307.84 274.60,307.89 275.20,307.03 275.80,307.08 276.40,307.83 277.00,308.18 277.60,307.33 278.20,307.58 278.80,307.75 279.40,307.43 280.00,307.49 280.60,307.43 281.20,307.50 281.80,307.78 282.40,307.43 283.00,307.53 283.60,308.01 284.20,307.12 284.80,307.78 285.40,307.98 286.00,307.48 286.60,307.38 287.20,308.08 287.80,307.41 288.40,307.35 289.00,307.65 289.60,307.97 290.20,307.26 290.80,307.53 291.40,307.55 292.00,308.16 292.60,307.69 293.20,308.20 293.80,307.38 294.40,307.58 295.00,307.97 295.60,308.25 296.20,307.74 296.80,307.47 297.40,307.35 298.00,307.85 298.60,307.45 299.20,308.19 299.80,308.24 300.40,307.45 301.00,307.57 301.60,308.21 302.20,308.02 302.80,308.22 303.40,307.68 304.00,307.42 304.60,307.62 305.20,308.23 305.80,307.61 306.40,307.70 307.00,307.79" fill="none" stroke="#178a22" stroke-width="1.4" stroke-linejoin="round" stroke-linecap="round" />
<polyline points="62.90,348.96 63.60,348.92 64.30,348.88 65.00,348.83 65.70,348.79 66.40,348.74 67.10,348.69 67.80,348.64 68.50,348.59 69.20,348.54 69.90,348.49 70.60,348.44 71.30,348.38 72.00,348.32 72.70,348.27 73.40,348.21 74.10,348.15 74.80,348.08 75.50,348.02 76.20,347.96 76.90,347.89 77.60,347.83 78.30,347.76 79.00,347.69 79.70,347.62 80.40,347.55 81.10,347.47 81.80,347.40 82.50,347.32 83.20,347.25 83.90,347.17 84.60,347.09 85.30,347.01 86.00,346.93 86.70,346.84 87.40,346.76 88.10,346.67 88.80,346.59 89.50,346.50 90.20,346.41 90.90,346.32 91.60,346.22 92.30,346.13 93.00,346.04 93.70,345.94 94.40,345.84 95.10,345.74 95.80,345.64 96.50,345.54 97.20,345.44 97.90,345.34 98.60,345.23 99.30,345.13 100.00,345.02 100.70,344.91 101.40,344.80 102.10,344.69 102.80,344.57 103.50,344.46 104.20,344.34 104.90,344.23 105.60,344.11 106.30,343.99 107.00,343.87 107.70,343.75 108.40,343.62 109.10,343.50 109.80,343.37 110.50,343.24 111.20,343.11 111.90,342.98 112.60,342.85 113.30,342.72 114.00,342.58 114.70,342.45 115.40,342.31 116.10,342.17 116.80,342.03 117.50,341.89 118.20,341.74 118.90,341.60 119.60,341.45 120.30,341.30 121.00,341.15 121.70,341.00 122.40,340.85 123.10,340.69 123.80,340.54 124.50,340.38 125.20,340.22 125.90,340.06 126.60,339.90 127.30,339.74 128.00,339.57 128.70,339.40 129.40,339.23 130.10,339.06 130.80,338.89 131.50,338.72 132.20,338.54 132.90,338.37 133.60,338.19 134.30,338.01 135.00,337.82 135.70,337.64 136.40,337.45 137.10,337.27 137.80,337.08 138.50,336.89 139.20,336.69 139.90,336.50 140.60,336.30 141.30,336.10 142.00,335.90 142.70,335.70 143.40,335.49 144.10,335.29 144.80,335.08 145.50,334.87 146.20,334.65 146.90,334.44 147.60,334.22 148.30,334.00 149.00,333.78 149.70,333.55 150.40,333.33 151.10,333.10 151.80,332.87 152.50,332.63 153.20,332.40 153.90,332.16 154.60,331.92 155.30,331.67 156.00,331.43 156.70,331.18 157.40,330.93 158.10,330.67 158.80,330.42 159.50,330.16 160.20,329.90 160.90,329.63 161.60,329.36 162.30,329.09 163.00,328.81 163.70,328.54 164.40,328.25 165.10,327.97 165.80,327.68 166.50,327.39 167.20,327.09 167.90,326.79 168.60,326.49 169.30,326.18 170.00,325.87 170.70,325.56 171.40,325.24 172.10,324.91 172.80,324.58 173.50,324.25 174.20,323.91 174.90,323.57 175.60,323.22 176.30,322.87 177.00,322.51 177.70,322.14 178.40,321.77 179.10,321.39 179.80,321.00 180.50,320.61 181.20,320.21 181.90,319.80 182.60,319.38 183.30,318.95 184.00,318.52 184.70,318.07 185.40,317.61 186.10,317.14 186.80,316.66 187.50,316.16 188.20,315.65 188.90,315.12 189.60,314.57 190.30,314.00 191.00,313.41 191.70,312.78 192.40,312.12 193.10,311.42 193.80,310.66 194.50,309.83 195.20,308.90 197.00,307.30 198.20,306.00 199.50,305.50" fill="none" stroke="#178a22" stroke-width="1.8" stroke-linejoin="round" stroke-linecap="round" />
<polyline points="69.50,261.89 70.20,261.91 70.90,261.93 71.60,261.95 72.30,261.97 73.00,261.99 73.70,262.01 74.40,262.03 75.10,262.05 75.80,262.08 76.50,262.10 77.20,262.13 77.90,262.15 78.60,262.18 79.30,262.21 80.00,262.24 80.70,262.27 81.40,262.30 82.10,262.34 82.80,262.37 83.50,262.41 84.20,262.44 84.90,262.48 85.60,262.52 86.30,262.56 87.00,262.60 87.70,262.64 88.40,262.69 89.10,262.73 89.80,262.78 90.50,262.83 91.20,262.87 91.90,262.92 92.60,262.98 93.30,263.03 94.00,263.08 94.70,263.14 95.40,263.19 96.10,263.25 96.80,263.31 97.50,263.37 98.20,263.44 98.90,263.50 99.60,263.57 100.30,263.63 101.00,263.70 101.70,263.77 102.40,263.84 103.10,263.92 103.80,263.99 104.50,264.07 105.20,264.15 105.90,264.23 106.60,264.31 107.30,264.39 108.00,264.47 108.70,264.56 109.40,264.65 110.10,264.74 110.80,264.83 111.50,264.92 112.20,265.02 112.90,265.12 113.60,265.22 114.30,265.32 115.00,265.42 115.70,265.52 116.40,265.63 117.10,265.74 117.80,265.85 118.50,265.96 119.20,266.08 119.90,266.19 120.60,266.31 121.30,266.43 122.00,266.55 122.70,266.68 123.40,266.81 124.10,266.93 124.80,267.07 125.50,267.20 126.20,267.33 126.90,267.47 127.60,267.61 128.30,267.75 129.00,267.90 129.70,268.05 130.40,268.20 131.10,268.35 131.80,268.50 132.50,268.66 133.20,268.82 133.90,268.98 134.60,269.14 135.30,269.31 136.00,269.48 136.70,269.65 137.40,269.82 138.10,270.00 138.80,270.18 139.50,270.36 140.20,270.55 140.90,270.74 141.60,270.93 142.30,271.12 143.00,271.32 143.70,271.52 144.40,271.72 145.10,271.93 145.80,272.13 146.50,272.35 147.20,272.56 147.90,272.78 148.60,273.00 149.30,273.22 150.00,273.45 150.70,273.68 151.40,273.91 152.10,274.15 152.80,274.39 153.50,274.64 154.20,274.89 154.90,275.14 155.60,275.39 156.30,275.65 157.00,275.91 157.70,276.18 158.40,276.45 159.10,276.73 159.80,277.01 160.50,277.29 161.20,277.58 161.90,277.87 162.60,278.16 163.30,278.46 164.00,278.77 164.70,279.07 165.40,279.39 166.10,279.71 166.80,280.03 167.50,280.36 168.20,280.69 168.90,281.03 169.60,281.37 170.30,281.72 171.00,282.08 171.70,282.44 172.40,282.80 173.10,283.18 173.80,283.56 174.50,283.94 175.20,284.33 175.90,284.73 176.60,285.13 177.30,285.55 178.00,285.97 178.70,286.39 179.40,286.83 180.10,287.27 180.80,287.72 181.50,288.19 182.20,288.66 182.90,289.14 183.60,289.63 184.30,290.13 185.00,290.64 185.70,291.16 186.40,291.70 187.10,292.25 187.80,292.82 188.50,293.40 189.20,294.00 189.90,294.61 190.60,295.25 191.30,295.91 192.00,296.59 192.70,297.30 193.40,298.05 194.10,298.83 194.80,299.66 195.50,300.55 197.20,303.20 198.40,304.90 199.60,305.40" fill="none" stroke="#f01414" stroke-width="1.8" stroke-linejoin="round" stroke-linecap="round" />
<polyline points="199.60,305.11 200.20,304.98 200.80,305.33 201.40,305.08 202.00,305.00 202.60,305.39 203.20,305.98 203.80,305.87 204.40,305.85 205.00,305.27 205.60,305.64 206.20,305.37 206.80,305.28 207.40,305.22 208.00,305.36 208.60,306.17 209.20,306.08 209.80,306.07 210.40,306.08 211.00,305.44 211.60,305.58 212.20,305.95 212.80,306.09 213.40,306.24 214.00,306.29 214.60,305.44 215.20,306.03 215.80,306.12 216.40,305.96 217.00,305.62 217.60,305.96 218.20,305.56 218.80,306.51 219.40,306.45 220.00,306.12 220.60,305.87 221.20,306.56 221.80,306.21 222.40,306.57 223.00,306.55 223.60,306.20 224.20,306.11 224.80,306.34 225.40,306.17 226.00,305.89 226.60,306.07 227.20,306.65 227.80,305.82 228.40,305.85 229.00,306.50 229.60,306.14 230.20,306.44 230.80,306.39 231.40,306.27 232.00,307.01 232.60,306.15 233.20,306.41 233.80,306.20 234.40,306.69 235.00,306.32 235.60,306.42 236.20,306.87 236.80,306.42 237.40,306.70 238.00,307.10 238.60,306.24 239.20,306.22 239.80,306.42 240.40,307.03 241.00,306.89 241.60,306.49 242.20,306.61 242.80,306.46 243.40,306.79 244.00,306.35 244.60,307.09 245.20,307.33 245.80,307.42 246.40,307.19 247.00,307.46 247.60,306.45 248.20,306.76 248.80,307.53 249.40,307.34 250.00,306.96 250.60,307.56 251.20,307.23 251.80,307.46 252.40,306.91 253.00,306.81 253.60,307.11 254.20,306.79 254.80,307.08 255.40,307.74 256.00,307.07 256.60,306.73 257.20,306.79 257.80,306.95 258.40,307.64 259.00,307.20 259.60,307.14 260.20,306.95 260.80,307.94 261.40,307.34 262.00,307.13 262.60,306.98 263.20,307.00 263.80,307.14 264.40,307.70 265.00,307.13 265.60,307.01 266.20,307.51 266.80,307.25 267.40,308.08 268.00,307.12 268.60,307.58 269.20,307.85 269.80,307.46 270.40,308.10 271.00,307.54 271.60,307.29 272.20,307.48 272.80,307.07 273.40,307.50 274.00,307.32 274.60,308.03 275.20,307.97 275.80,307.61 276.40,307.10 277.00,307.35 277.60,307.34 278.20,307.31 278.80,307.34 279.40,308.05 280.00,307.25 280.60,307.16 281.20,308.13 281.80,307.74 282.40,308.21 283.00,307.57 283.60,308.12 284.20,307.86 284.80,308.01 285.40,307.97 286.00,307.70 286.60,307.26 287.20,307.40 287.80,308.13 288.40,308.17 289.00,308.20 289.60,307.56 290.20,307.91 290.80,308.08 291.40,307.91 292.00,308.10 292.60,307.79 293.20,307.94 293.80,307.98 294.40,307.53 295.00,308.25 295.60,308.29 296.20,307.33 296.80,308.32 297.40,308.32 298.00,308.00 298.60,307.32 299.20,308.26 299.80,307.42 300.40,308.35 301.00,308.02 301.60,307.36 302.20,307.48 302.80,308.01 303.40,307.94 304.00,308.14 304.60,308.34 305.20,307.57 305.80,307.34 306.40,308.35 307.00,307.36" fill="none" stroke="#f01414" stroke-width="1.6" stroke-linejoin="round" stroke-linecap="round" />
<rect x="44.65" y="255.40" width="263.55" height="104.40" fill="none" stroke="#0a0a0a" stroke-width="1.35"/>
<line x1="44.65" y1="337.10" x2="49.15" y2="337.10" stroke="#0a0a0a" stroke-width="1.2" />
<line x1="44.65" y1="307.50" x2="49.15" y2="307.50" stroke="#0a0a0a" stroke-width="1.2" />
<line x1="44.65" y1="277.90" x2="49.15" y2="277.90" stroke="#0a0a0a" stroke-width="1.2" />
<line x1="44.65" y1="354.86" x2="47.15" y2="354.86" stroke="#0a0a0a" stroke-width="1.2" />
<line x1="44.65" y1="348.94" x2="47.15" y2="348.94" stroke="#0a0a0a" stroke-width="1.2" />
<line x1="44.65" y1="343.02" x2="47.15" y2="343.02" stroke="#0a0a0a" stroke-width="1.2" />
<line x1="44.65" y1="331.18" x2="47.15" y2="331.18" stroke="#0a0a0a" stroke-width="1.2" />
<line x1="44.65" y1="325.26" x2="47.15" y2="325.26" stroke="#0a0a0a" stroke-width="1.2" />
<line x1="44.65" y1="319.34" x2="47.15" y2="319.34" stroke="#0a0a0a" stroke-width="1.2" />
<line x1="44.65" y1="313.42" x2="47.15" y2="313.42" stroke="#0a0a0a" stroke-width="1.2" />
<line x1="44.65" y1="301.58" x2="47.15" y2="301.58" stroke="#0a0a0a" stroke-width="1.2" />
<line x1="44.65" y1="295.66" x2="47.15" y2="295.66" stroke="#0a0a0a" stroke-width="1.2" />
<line x1="44.65" y1="289.74" x2="47.15" y2="289.74" stroke="#0a0a0a" stroke-width="1.2" />
<line x1="44.65" y1="283.82" x2="47.15" y2="283.82" stroke="#0a0a0a" stroke-width="1.2" />
<line x1="44.65" y1="271.98" x2="47.15" y2="271.98" stroke="#0a0a0a" stroke-width="1.2" />
<line x1="44.65" y1="266.06" x2="47.15" y2="266.06" stroke="#0a0a0a" stroke-width="1.2" />
<line x1="44.65" y1="260.14" x2="47.15" y2="260.14" stroke="#0a0a0a" stroke-width="1.2" />
<line x1="103.05" y1="359.80" x2="103.05" y2="355.40" stroke="#0a0a0a" stroke-width="1.2" />
<line x1="161.45" y1="359.80" x2="161.45" y2="355.40" stroke="#0a0a0a" stroke-width="1.2" />
<line x1="219.85" y1="359.80" x2="219.85" y2="355.40" stroke="#0a0a0a" stroke-width="1.2" />
<line x1="278.25" y1="359.80" x2="278.25" y2="355.40" stroke="#0a0a0a" stroke-width="1.2" />
<line x1="73.85" y1="359.80" x2="73.85" y2="355.40" stroke="#0a0a0a" stroke-width="1.2" />
<line x1="132.25" y1="359.80" x2="132.25" y2="355.40" stroke="#0a0a0a" stroke-width="1.2" />
<line x1="190.65" y1="359.80" x2="190.65" y2="355.40" stroke="#0a0a0a" stroke-width="1.2" />
<line x1="249.05" y1="359.80" x2="249.05" y2="355.40" stroke="#0a0a0a" stroke-width="1.2" />
<text x="40.40" y="282.00" font-size="10.4" text-anchor="end" font-weight="normal" font-style="normal" fill="#1a1a1a" stroke="#1a1a1a" stroke-width="0.25" >1</text>
<text x="40.40" y="311.60" font-size="10.4" text-anchor="end" font-weight="normal" font-style="normal" fill="#1a1a1a" stroke="#1a1a1a" stroke-width="0.25" >0</text>
<text x="40.40" y="341.20" font-size="10.4" text-anchor="end" font-weight="normal" font-style="normal" fill="#1a1a1a" stroke="#1a1a1a" stroke-width="0.25" >-1</text>
<text x="44.65" y="371.60" font-size="10.4" text-anchor="middle" font-weight="normal" font-style="normal" fill="#1a1a1a" stroke="#1a1a1a" stroke-width="0.25" >0</text>
<text x="103.05" y="371.60" font-size="10.4" text-anchor="middle" font-weight="normal" font-style="normal" fill="#1a1a1a" stroke="#1a1a1a" stroke-width="0.25" >10</text>
<text x="161.45" y="371.60" font-size="10.4" text-anchor="middle" font-weight="normal" font-style="normal" fill="#1a1a1a" stroke="#1a1a1a" stroke-width="0.25" >20</text>
<text x="219.85" y="371.60" font-size="10.4" text-anchor="middle" font-weight="normal" font-style="normal" fill="#1a1a1a" stroke="#1a1a1a" stroke-width="0.25" >30</text>
<text x="278.25" y="371.60" font-size="10.4" text-anchor="middle" font-weight="normal" font-style="normal" fill="#1a1a1a" stroke="#1a1a1a" stroke-width="0.25" >40</text>
<text x="179.00" y="382.70" font-size="11.6" text-anchor="middle" font-weight="normal" font-style="normal" fill="#1a1a1a" stroke="#1a1a1a" stroke-width="0.25" >Temperature (K)</text>
<text transform="translate(26.90,315.35) rotate(-90)" font-size="11.45" text-anchor="middle" fill="#1a1a1a" stroke="#1a1a1a" stroke-width="0.25">Circular Dichroism (x10<tspan font-size="7.8" dy="-5.4">-3</tspan><tspan dy="5.4">)</tspan></text>
<text x="56.40" y="279.90" font-size="11.3" text-anchor="start" font-weight="normal" font-style="normal" fill="#1a1a1a" stroke="#1a1a1a" stroke-width="0.25" ><tspan font-style="italic">H</tspan> = +0.5 T</text>
<text x="54.40" y="342.40" font-size="11.3" text-anchor="start" font-weight="normal" font-style="normal" fill="#1a1a1a" stroke="#1a1a1a" stroke-width="0.25" ><tspan font-style="italic">H</tspan> = -0.5 T</text>
<line x1="438.60" y1="255.40" x2="438.60" y2="360.00" stroke="#5c5c5c" stroke-width="1.4" stroke-dasharray="3.7,3.3"/>
<line x1="592.70" y1="255.40" x2="592.70" y2="360.00" stroke="#5c5c5c" stroke-width="1.4" stroke-dasharray="3.7,3.3"/>
<polyline points="405.70,334.78 406.30,335.18 406.90,335.20 407.50,335.36 408.10,334.78 408.70,334.84 409.30,334.78 409.90,334.87 410.50,335.34 411.10,334.82 411.70,335.20 412.30,334.93 412.90,335.02 413.50,335.16 414.10,335.54 414.70,335.35 415.30,334.83 415.90,335.08 416.50,334.98 417.10,335.65 417.70,335.61 418.30,335.63 418.90,335.66 419.50,335.61 420.10,335.81 420.70,335.72 421.30,335.29 421.90,335.87 422.50,335.59 423.10,335.88 423.70,335.76 424.30,335.69 424.90,335.68 425.50,335.79 426.10,335.73 426.70,335.61 427.30,336.29 427.90,336.32 428.50,336.54 429.10,336.37 429.70,336.35 430.30,336.62 430.90,336.16 431.50,336.75 432.10,336.64 432.70,336.50 433.30,336.62 433.90,337.00 434.50,336.88 435.10,337.18 435.70,337.43 436.30,337.37 436.90,337.25 437.50,337.69 438.10,337.59 438.70,337.77 439.30,337.92 439.90,338.25 440.50,338.17 441.10,338.87 441.70,339.32 442.30,338.96 442.90,339.38 443.50,339.69 444.10,339.01 444.70,339.22 445.30,339.94 445.90,340.03 446.50,339.89 447.10,339.49 447.70,339.76 448.30,340.20 448.90,340.26 449.50,340.22 450.10,339.72 450.70,340.34 451.30,339.94 451.90,340.29 452.50,339.78 453.10,340.53 453.70,340.20 454.30,340.31 454.90,339.85 455.50,340.22 456.10,340.19 456.70,340.20 457.30,340.00 457.90,340.33 458.50,339.98 459.10,339.95 459.70,339.83 460.30,340.30 460.90,339.79 461.50,339.89 462.10,339.75 462.70,340.27 463.30,340.20 463.90,340.19 464.50,339.74 465.10,340.10 465.70,340.02 466.30,339.79 466.90,339.71 467.50,340.61 468.10,339.83 468.70,339.99 469.30,339.96 469.90,340.26 470.50,339.80 471.10,340.15 471.70,340.06 472.30,340.49 472.90,339.74 473.50,340.04 474.10,340.19 474.70,340.62 475.30,340.21 475.90,340.18 476.50,340.35 477.10,340.02 477.70,339.78 478.30,340.20 478.90,340.57 479.50,340.41 480.10,339.98 480.70,340.37 481.30,340.51 481.90,339.98 482.50,340.28 483.10,340.07 483.70,339.97 484.30,340.01 484.90,339.93 485.50,340.07 486.10,339.78 486.70,340.11 487.30,339.83 487.90,340.43 488.50,340.29 489.10,339.75 489.70,340.45 490.30,339.92 490.90,340.18 491.50,340.25 492.10,340.05 492.70,340.01 493.30,340.14 493.90,339.87 494.50,340.53 495.00,335.00 495.30,300.00 495.60,278.50 496.00,277.55 496.60,278.09 497.20,278.05 497.80,278.31 498.40,277.71 499.00,277.70 499.60,278.14 500.20,278.07 500.80,277.76 501.40,278.11 502.00,277.85 502.60,278.20 503.20,277.61 503.80,277.71 504.40,278.32 505.00,277.84 505.60,277.75 506.20,278.25 506.80,278.09 507.40,277.66 508.00,278.03 508.60,278.14 509.20,277.69 509.80,278.13 510.40,277.66 511.00,277.86 511.60,277.63 512.20,277.75 512.80,278.45 513.40,277.93 514.00,278.47 514.60,277.97 515.20,278.13 515.80,278.37 516.40,278.21 517.00,277.70 517.60,278.13 518.20,278.17 518.80,277.77 519.40,277.70 520.00,278.40 520.60,278.08 521.20,277.80 521.80,278.03 522.40,277.83 523.00,278.35 523.60,278.09 524.20,277.74 524.80,278.38 525.40,277.73 526.00,277.91 526.60,277.68 527.20,278.33 527.80,277.77 528.40,278.14 529.00,277.76 529.60,278.11 530.20,278.30 530.80,278.17 531.40,278.10 532.00,278.13 532.60,278.09 533.20,278.24 533.80,277.79 534.40,278.14 535.00,277.93 535.60,278.50 536.20,278.57 536.80,277.79 537.40,277.86 538.00,278.37 538.60,278.25 539.20,277.76 539.80,278.38 540.40,278.60 541.00,278.14 541.60,278.07 542.20,278.28 542.80,278.61 543.40,278.01 544.00,278.05 544.60,277.95 545.20,278.35 545.80,278.21 546.40,278.02 547.00,278.15 547.60,277.83 548.20,278.09 548.80,278.69 549.40,278.34 550.00,278.07 550.60,278.66 551.20,278.15 551.80,278.06 552.40,277.86 553.00,277.97 553.60,278.02 554.20,278.05 554.80,278.63 555.40,278.09 556.00,278.08 556.60,278.40 557.20,278.69 557.80,278.13 558.40,278.56 559.00,278.21 559.60,278.39 560.20,278.42 560.80,278.74 561.40,278.57 562.00,278.35 562.60,278.66 563.20,278.23 563.80,278.25 564.40,278.78 565.00,278.41 565.60,278.62 566.20,278.21 566.80,278.75 567.40,278.48 568.00,278.16 568.60,278.78 569.20,278.37 569.80,278.25 570.40,278.19 571.00,278.05 571.60,278.14 572.20,278.59 572.80,278.10 573.40,278.21 574.00,278.38 574.60,278.47 575.20,278.33 575.80,278.70 576.40,278.22 577.00,278.33 577.60,278.38 578.20,278.12 578.80,278.21 579.40,278.14 580.00,278.67 580.60,278.15 581.20,278.63 581.80,278.23 582.40,278.61 583.00,278.63 583.60,278.36 584.20,278.88 584.80,278.64 585.40,278.59 586.00,278.19 586.60,278.58 587.20,278.51 587.80,278.75 588.40,279.23 589.00,279.23 589.60,278.57 590.20,279.16 590.80,279.39 591.40,279.04 592.00,278.64 592.60,279.33 593.20,278.85 593.80,279.09 594.40,278.73 595.00,278.43 595.60,278.26 596.20,277.27 596.80,277.80 597.40,277.24 598.00,276.97 598.60,277.07 599.20,277.14 599.80,276.49 600.40,276.85 601.00,277.14 601.60,276.86 602.20,276.88 602.80,276.66 603.40,277.26 604.00,276.59 604.60,276.97 605.20,276.93 605.80,276.33 606.40,277.22 607.00,276.52 607.60,277.19 608.20,277.12 608.80,277.08 609.40,277.03 610.00,276.61 610.60,276.65 611.20,276.55 611.80,277.08 612.40,276.26 613.00,276.36 613.60,277.09 614.20,276.95 614.80,276.86 615.40,277.09 616.00,276.69 616.60,276.96 617.20,276.61 617.80,277.01 618.40,276.26 619.00,276.59 619.60,276.71 620.20,276.90 620.80,276.57 621.40,276.79 622.00,277.05 622.60,276.55 623.20,276.35 623.80,276.19 624.40,276.94 625.00,276.59 625.60,276.51 626.20,276.62" fill="none" stroke="#f01414" stroke-width="1.8" stroke-linejoin="round" stroke-linecap="round" />
<polyline points="405.70,334.96 406.30,335.07 406.90,335.42 407.50,335.02 408.10,335.07 408.70,335.16 409.30,334.82 409.90,335.13 410.50,335.25 411.10,335.41 411.70,334.80 412.30,335.01 412.90,334.83 413.50,335.50 414.10,335.41 414.70,334.84 415.30,335.70 415.90,335.70 416.50,335.44 417.10,335.42 417.70,335.03 418.30,334.92 418.90,335.39 419.50,334.99 420.10,335.13 420.70,335.23 421.30,335.08 421.90,335.52 422.50,335.55 423.10,335.96 423.70,335.72 424.30,335.88 424.90,335.80 425.50,336.00 426.10,335.86 426.70,335.75 427.30,336.45 427.90,336.50 428.50,336.41 429.10,336.39 429.70,336.13 430.30,336.15 430.90,336.30 431.50,336.20 432.10,336.93 432.70,336.70 433.30,337.20 433.90,336.88 434.50,337.51 435.10,337.53 435.70,336.89 436.30,337.20 436.90,337.95 437.50,337.67 438.10,338.26 438.70,337.92 439.30,337.81 439.90,338.49 440.50,338.80 441.10,338.52 441.70,338.54 442.30,338.91 442.90,339.60 443.50,339.53 444.10,339.08 444.70,339.31 445.30,339.30 445.90,339.33 446.50,340.03 447.10,339.51 447.70,339.89 448.30,339.82 448.90,339.63 449.50,340.15 450.10,339.65 450.70,340.15 451.30,339.71 451.90,340.02 452.50,339.84 453.10,339.90 453.70,340.53 454.30,340.38 454.90,339.94 455.50,340.46 456.10,339.86 456.70,340.02 457.30,340.44 457.90,340.25 458.50,339.77 459.10,340.57 459.70,339.87 460.30,339.92 460.90,340.38 461.50,339.99 462.10,339.96 462.70,339.76 463.30,339.78 463.90,340.22 464.50,339.92 465.10,340.25 465.70,340.04 466.30,340.12 466.90,340.58 467.50,340.15 468.10,340.23 468.70,340.50 469.30,339.89 469.90,339.86 470.50,340.54 471.10,340.47 471.70,339.96 472.30,339.91 472.90,340.40 473.50,340.59 474.10,339.92 474.70,340.60 475.30,340.54 475.90,340.29 476.50,340.13 477.10,339.84 477.70,339.78 478.30,340.62 478.90,339.96 479.50,340.38 480.10,339.98 480.70,340.49 481.30,340.29 481.90,340.01 482.50,339.91 483.10,340.40 483.70,339.81 484.30,339.96 484.90,340.25 485.50,340.52 486.10,340.30 486.70,340.00 487.30,340.58 487.90,339.93 488.50,339.76 489.10,339.99 489.70,340.15 490.30,339.80 490.90,339.91 491.50,340.08 492.10,340.26 492.70,339.87 493.30,340.08 493.90,340.55 494.50,340.63 495.10,340.34 495.70,340.37 496.30,340.28 496.90,339.88 497.50,339.78 498.10,339.77 498.70,340.57 499.30,340.38 499.90,340.62 500.50,339.77 501.10,340.32 501.70,340.18 502.30,340.41 502.90,340.04 503.50,340.65 504.10,339.82 504.70,340.24 505.30,340.41 505.90,340.56 506.50,340.41 507.10,340.38 507.70,340.46 508.30,340.57 508.90,340.07 509.50,340.37 510.10,340.56 510.70,340.53 511.30,340.13 511.90,340.46 512.50,340.53 513.10,340.27 513.70,340.31 514.30,340.09 514.90,340.27 515.50,340.30 516.10,339.82 516.70,340.33 517.30,340.64 517.90,340.54 518.50,340.41 519.10,340.10 519.70,340.41 520.30,340.27 520.90,340.15 521.50,340.50 522.10,339.83 522.70,340.43 523.30,339.78 523.90,340.29 524.50,340.18 525.10,339.96 525.70,340.38 526.30,340.20 526.90,340.30 527.50,340.58 528.10,339.98 528.70,339.76 529.30,340.02 529.90,340.36 530.50,339.93 531.10,339.90 531.70,340.57 532.30,340.34 532.90,340.15 533.50,340.55 534.10,340.04 534.70,340.35 535.30,339.93 535.90,340.14 536.50,340.48 537.10,340.57 537.60,335.00 538.00,300.00 538.30,279.00 538.60,278.57 539.20,278.74 539.80,278.75 540.40,278.28 541.00,278.17 541.60,278.50 542.20,278.41 542.80,278.90 543.40,278.79 544.00,278.72 544.60,278.68 545.20,278.78 545.80,278.32 546.40,278.59 547.00,278.34 547.60,279.02 548.20,278.26 548.80,278.95 549.40,278.28 550.00,278.83 550.60,278.52 551.20,278.59 551.80,278.99 552.40,278.25 553.00,278.29 553.60,279.06 554.20,278.70 554.80,278.33 555.40,279.14 556.00,279.11 556.60,278.36 557.20,278.65 557.80,278.39 558.40,278.55 559.00,278.84 559.60,278.43 560.20,278.91 560.80,278.33 561.40,278.45 562.00,279.03 562.60,278.66 563.20,278.68 563.80,278.85 564.40,278.74 565.00,278.66 565.60,278.35 566.20,278.98 566.80,279.20 567.40,279.21 568.00,278.93 568.60,278.66 569.20,278.67 569.80,278.97 570.40,278.96 571.00,278.46 571.60,278.57 572.20,278.69 572.80,278.83 573.40,279.10 574.00,278.83 574.60,278.41 575.20,279.12 575.80,278.78 576.40,278.86 577.00,278.60 577.60,278.79 578.20,278.75 578.80,279.10 579.40,278.51 580.00,278.91 580.60,278.58 581.20,279.05 581.80,278.46 582.40,278.68 583.00,278.75 583.60,279.01 584.20,278.49 584.80,278.86 585.40,278.68 586.00,278.80 586.60,279.04 587.20,279.53 587.80,279.16 588.40,279.65 589.00,279.00 589.60,279.74 590.20,279.28 590.80,279.12 591.40,279.62 592.00,279.77 592.60,278.96 593.20,279.10 593.80,279.30 594.40,278.65 595.00,278.30 595.60,277.83 596.20,277.65 596.80,278.05 597.40,278.26 598.00,278.15 598.60,277.58 599.20,277.03 599.80,277.18 600.40,277.55 601.00,277.58 601.60,277.39 602.20,277.01 602.80,277.27 603.40,277.21 604.00,277.33 604.60,276.99 605.20,277.60 605.80,277.54 606.40,276.87 607.00,276.97 607.60,277.48 608.20,276.94 608.80,277.52 609.40,277.13 610.00,277.28 610.60,277.28 611.20,276.84 611.80,276.90 612.40,276.87 613.00,277.25 613.60,277.25 614.20,276.74 614.80,277.42 615.40,277.00 616.00,276.83 616.60,277.00 617.20,277.49 617.80,277.11 618.40,277.16 619.00,277.42 619.60,277.46 620.20,277.27 620.80,276.96 621.40,277.11 622.00,277.39 622.60,277.28 623.20,277.09 623.80,276.88 624.40,276.90 625.00,277.22 625.60,277.06 626.20,276.57" fill="none" stroke="#178a22" stroke-width="1.8" stroke-linejoin="round" stroke-linecap="round" />
<rect x="384.50" y="255.40" width="263.70" height="104.60" fill="none" stroke="#0a0a0a" stroke-width="1.35"/>
<line x1="384.50" y1="340.75" x2="389.00" y2="340.75" stroke="#0a0a0a" stroke-width="1.2" />
<line x1="384.50" y1="308.00" x2="389.00" y2="308.00" stroke="#0a0a0a" stroke-width="1.2" />
<line x1="384.50" y1="275.25" x2="389.00" y2="275.25" stroke="#0a0a0a" stroke-width="1.2" />
<line x1="384.50" y1="353.85" x2="387.00" y2="353.85" stroke="#0a0a0a" stroke-width="1.2" />
<line x1="384.50" y1="347.30" x2="387.00" y2="347.30" stroke="#0a0a0a" stroke-width="1.2" />
<line x1="384.50" y1="334.20" x2="387.00" y2="334.20" stroke="#0a0a0a" stroke-width="1.2" />
<line x1="384.50" y1="327.65" x2="387.00" y2="327.65" stroke="#0a0a0a" stroke-width="1.2" />
<line x1="384.50" y1="321.10" x2="387.00" y2="321.10" stroke="#0a0a0a" stroke-width="1.2" />
<line x1="384.50" y1="314.55" x2="387.00" y2="314.55" stroke="#0a0a0a" stroke-width="1.2" />
<line x1="384.50" y1="301.45" x2="387.00" y2="301.45" stroke="#0a0a0a" stroke-width="1.2" />
<line x1="384.50" y1="294.90" x2="387.00" y2="294.90" stroke="#0a0a0a" stroke-width="1.2" />
<line x1="384.50" y1="288.35" x2="387.00" y2="288.35" stroke="#0a0a0a" stroke-width="1.2" />
<line x1="384.50" y1="281.80" x2="387.00" y2="281.80" stroke="#0a0a0a" stroke-width="1.2" />
<line x1="384.50" y1="268.70" x2="387.00" y2="268.70" stroke="#0a0a0a" stroke-width="1.2" />
<line x1="384.50" y1="262.15" x2="387.00" y2="262.15" stroke="#0a0a0a" stroke-width="1.2" />
<line x1="406.48" y1="360.00" x2="406.48" y2="355.60" stroke="#0a0a0a" stroke-width="1.2" />
<line x1="516.35" y1="360.00" x2="516.35" y2="355.60" stroke="#0a0a0a" stroke-width="1.2" />
<line x1="626.23" y1="360.00" x2="626.23" y2="355.60" stroke="#0a0a0a" stroke-width="1.2" />
<line x1="428.45" y1="360.00" x2="428.45" y2="357.40" stroke="#0a0a0a" stroke-width="1.2" />
<line x1="450.43" y1="360.00" x2="450.43" y2="357.40" stroke="#0a0a0a" stroke-width="1.2" />
<line x1="472.40" y1="360.00" x2="472.40" y2="357.40" stroke="#0a0a0a" stroke-width="1.2" />
<line x1="494.38" y1="360.00" x2="494.38" y2="357.40" stroke="#0a0a0a" stroke-width="1.2" />
<line x1="538.33" y1="360.00" x2="538.33" y2="357.40" stroke="#0a0a0a" stroke-width="1.2" />
<line x1="560.30" y1="360.00" x2="560.30" y2="357.40" stroke="#0a0a0a" stroke-width="1.2" />
<line x1="582.28" y1="360.00" x2="582.28" y2="357.40" stroke="#0a0a0a" stroke-width="1.2" />
<line x1="604.25" y1="360.00" x2="604.25" y2="357.40" stroke="#0a0a0a" stroke-width="1.2" />
<text x="380.00" y="279.35" font-size="10.4" text-anchor="end" font-weight="normal" font-style="normal" fill="#1a1a1a" stroke="#1a1a1a" stroke-width="0.25" >1</text>
<text x="380.00" y="312.10" font-size="10.4" text-anchor="end" font-weight="normal" font-style="normal" fill="#1a1a1a" stroke="#1a1a1a" stroke-width="0.25" >0</text>
<text x="380.00" y="344.85" font-size="10.4" text-anchor="end" font-weight="normal" font-style="normal" fill="#1a1a1a" stroke="#1a1a1a" stroke-width="0.25" >-1</text>
<text x="406.48" y="371.60" font-size="10.4" text-anchor="middle" font-weight="normal" font-style="normal" fill="#1a1a1a" stroke="#1a1a1a" stroke-width="0.25" >-5</text>
<text x="516.35" y="371.60" font-size="10.4" text-anchor="middle" font-weight="normal" font-style="normal" fill="#1a1a1a" stroke="#1a1a1a" stroke-width="0.25" >0</text>
<text x="626.23" y="371.60" font-size="10.4" text-anchor="middle" font-weight="normal" font-style="normal" fill="#1a1a1a" stroke="#1a1a1a" stroke-width="0.25" >5</text>
<text x="518.60" y="382.70" font-size="11.6" text-anchor="middle" font-weight="normal" font-style="normal" fill="#1a1a1a" stroke="#1a1a1a" stroke-width="0.25" >Magnetic field (T)</text>
<text transform="translate(366.40,315.10) rotate(-90)" font-size="11.45" text-anchor="middle" fill="#1a1a1a" stroke="#1a1a1a" stroke-width="0.25">Circular Dichroism (x10<tspan font-size="7.8" dy="-5.4">-3</tspan><tspan dy="5.4">)</tspan></text>
<text x="390.80" y="272.90" font-size="11.0" text-anchor="start" font-weight="normal" font-style="normal" fill="#1a1a1a" stroke="#1a1a1a" stroke-width="0.25" ><tspan font-style="italic">T</tspan> = 20K</text>
<line x1="528.10" y1="272.50" x2="510.10" y2="272.50" stroke="#f01414" stroke-width="1.3" />
<polygon points="505.30,272.50 511.30,269.70 509.80,272.50 511.30,275.30" fill="#f01414" stroke="none" stroke-width="1.0" />
<line x1="504.40" y1="344.80" x2="523.30" y2="344.80" stroke="#3d8a30" stroke-width="1.3" />
<polygon points="528.10,344.80 522.10,342.00 523.60,344.80 522.10,347.60" fill="#3d8a30" stroke="none" stroke-width="1.0" />
<line x1="198.90" y1="395.20" x2="198.90" y2="500.20" stroke="#8c8c8c" stroke-width="1.9" stroke-dasharray="3.7,3.2"/>
<line x1="263.60" y1="395.20" x2="263.60" y2="500.20" stroke="#8c8c8c" stroke-width="1.9" stroke-dasharray="3.7,3.2"/>
<polyline points="66.00,427.39 66.40,430.56 66.80,430.25 67.20,429.33 67.60,427.77 68.00,431.25 68.40,431.36 68.80,429.61 69.20,429.58 69.60,427.99 70.00,426.61 70.40,428.83 70.80,430.14 71.20,427.06 71.60,431.43 72.00,428.08 72.40,428.10 72.80,426.97 73.20,432.72 73.60,431.19 74.00,432.03 74.40,430.49 74.80,427.02 75.20,428.81 75.60,429.84 76.00,427.57 76.40,432.60 76.80,429.12 77.20,427.86 77.60,431.85 78.00,427.71 78.40,432.55 78.80,429.72 79.20,430.33 79.60,429.10 80.00,429.97 80.40,428.20 80.80,427.32 81.20,432.31 81.60,428.54 82.00,431.83 82.40,428.42 82.80,433.00 83.20,432.57 83.60,431.76 84.00,431.82 84.40,430.75 84.80,431.66 85.20,428.04 85.60,430.18 86.00,432.30 86.40,428.57 86.80,432.92 87.20,432.72 87.60,429.87 88.00,429.63 88.40,430.16 88.80,429.79 89.20,433.46 89.60,429.83 90.00,427.69 90.40,428.11 90.80,431.88 91.20,433.54 91.60,430.58 92.00,430.57 92.40,430.94 92.80,432.15 93.20,429.01 93.60,431.35 94.00,431.06 94.40,431.47 94.80,428.84 95.20,428.79 95.60,429.88 96.00,433.37 96.40,429.91 96.80,431.43 97.20,429.71 97.60,428.51 98.00,428.30 98.40,432.81 98.80,432.61 99.20,430.21 99.60,432.08 100.00,432.06 100.40,433.41 100.80,433.79 101.20,430.50 101.60,434.01 102.00,433.87 102.40,431.66 102.80,433.43 103.20,431.10 103.60,430.43 104.00,429.68 104.40,433.47 104.80,429.21 105.20,428.67 105.60,433.10 106.00,432.93 106.40,431.21 106.80,433.35 107.20,428.66 107.60,429.91 108.00,430.13 108.40,430.92 108.80,429.45 109.20,428.86 109.60,430.49 110.00,433.88 110.40,434.40 110.80,433.00 111.20,431.41 111.60,430.07 112.00,434.33 112.40,431.75 112.80,432.99 113.20,428.81 113.60,429.93 114.00,433.71 114.40,433.47 114.80,434.00 115.20,432.34 115.60,431.31 116.00,432.26 116.40,433.89 116.80,430.66 117.20,432.04 117.60,430.51 118.00,433.48 118.40,428.95 118.80,433.02 119.20,434.65 119.60,429.09 120.00,432.53 120.40,432.85 120.80,434.11 121.20,432.53 121.60,430.59 122.00,431.50 122.40,434.83 122.80,434.53 123.20,429.92 123.60,429.71 124.00,429.72 124.40,429.33 124.80,431.88 125.20,430.06 125.60,434.44 126.00,433.19 126.40,430.03 126.80,432.53 127.20,431.26 127.60,432.30 128.00,430.67 128.40,430.37 128.80,430.49 129.20,431.68 129.60,433.69 130.00,432.75 130.40,429.74 130.80,433.75 131.20,434.75 131.60,434.17 132.00,434.29 132.40,429.61 132.80,432.37 133.20,429.98 133.60,434.21 134.00,430.69 134.40,433.93 134.80,431.20 135.20,433.88 135.60,431.60 136.00,429.99 136.40,432.09 136.80,431.63 137.20,435.20 137.60,431.59 138.00,432.85 138.40,433.15 138.80,435.56 139.20,430.48 139.60,433.52 140.00,432.98 140.40,434.36 140.80,435.77 141.20,431.85 141.60,434.20 142.00,433.18 142.40,433.41 142.80,430.45 143.20,434.97 143.60,435.95 144.00,432.23 144.40,432.02 144.80,436.09 145.20,430.79 145.60,430.61 146.00,430.61 146.40,435.07 146.80,434.75 147.20,432.90 147.60,433.95 148.00,430.35 148.40,434.12 148.80,432.92 149.20,433.38 149.60,432.63 150.00,432.71 150.40,431.67 150.80,430.62 151.20,432.95 151.60,431.84 152.00,434.60 152.40,435.29 152.80,434.74 153.20,433.15 153.60,431.84 154.00,432.75 154.40,433.37 154.80,434.26 155.20,436.26 155.60,431.01 156.00,433.38 156.40,433.47 156.80,434.84 157.20,435.89 157.60,435.24 158.00,434.34 158.40,435.14 158.80,434.61 159.20,435.77 159.60,434.82 160.00,434.74 160.40,432.13 160.80,436.17 161.20,433.00 161.60,434.38 162.00,435.66 162.40,436.51 162.80,436.67 163.20,430.79 163.60,432.64 164.00,432.65 164.40,433.14 164.80,431.68 165.20,434.14 165.60,431.31 166.00,432.66 166.40,436.52 166.80,435.33 167.20,433.66 167.60,431.55 168.00,436.65 168.40,435.15 168.80,432.18 169.20,432.97 169.60,434.82 170.00,435.07 170.40,432.57 170.80,436.73 171.20,432.97 171.60,432.59 172.00,436.15 172.40,432.02 172.80,435.21 173.20,432.34 173.60,434.75 174.00,432.85 174.40,433.48 174.80,436.87 175.20,434.05 175.60,433.89 176.00,434.99 176.40,432.99 176.80,432.37 177.20,433.66 177.60,433.00 178.00,432.52 178.40,437.17 178.80,431.64 179.20,436.31 179.60,437.08 180.00,435.72 180.40,431.62 180.80,434.54 181.20,431.79 181.60,435.22 182.00,435.79 182.40,433.05 182.80,431.68 183.20,434.92 183.60,432.24 184.00,433.55 184.40,434.44 184.80,437.10 185.20,433.98 185.60,432.59 186.00,436.55 186.40,436.75 186.80,435.01 187.20,432.15 187.60,433.00 188.00,434.32 188.40,435.23 188.80,433.29 189.20,436.77 189.60,437.04 190.00,437.55 190.40,437.26 190.80,432.03 191.20,435.38 191.60,432.34 192.00,437.22 192.40,436.26 192.80,436.30 193.20,432.84 193.60,432.03 194.00,436.53 194.40,435.24 194.80,435.29 195.20,434.35 195.60,436.29 196.00,433.48 196.40,433.04 196.80,433.50 197.20,433.13 197.60,435.07 198.00,436.61 198.40,431.66 198.80,431.61 199.20,434.42 199.60,435.56 200.00,433.08 200.40,433.81 200.80,432.79 201.20,432.91 201.60,435.90 202.00,437.26 202.40,437.35 202.80,434.62 203.20,434.55 203.60,439.76 204.00,437.65 204.40,437.12 204.80,439.06 205.20,439.53 205.60,438.56 206.00,436.16 206.40,441.01 206.80,437.69 207.20,437.01 207.60,439.24 208.00,440.68 208.40,441.61 208.80,439.25 209.20,442.82 209.60,441.88 210.00,440.25 210.40,444.75 210.80,444.84 211.20,445.80 211.60,444.79 212.00,442.38 212.40,446.10 212.80,447.21 213.20,445.35 213.60,447.96 214.00,448.69 214.40,445.57 214.80,449.23 215.20,449.52 215.60,448.99 216.00,444.61 216.40,446.98 216.80,448.87 217.20,449.15 217.60,450.37 218.00,450.04 218.40,447.45 218.80,452.38 219.20,450.34 219.60,452.73 220.00,449.01 220.40,454.07 220.80,451.74 221.20,453.38 221.60,453.49 222.00,454.67 222.40,451.87 222.80,450.51 223.20,452.77 223.60,451.77 224.00,454.33 224.40,456.38 224.80,454.06 225.20,453.07 225.60,452.84 226.00,455.61 226.40,456.95 226.80,454.02 227.20,458.25 227.60,455.92 228.00,455.69 228.40,461.01 228.80,458.98 229.20,461.60 229.60,459.71 230.00,457.76 230.40,458.86 230.80,460.36 231.20,462.06 231.60,463.23 232.00,463.51 232.40,463.36 232.80,461.49 233.20,463.08 233.60,463.28 234.00,464.47 234.40,463.64 234.80,465.80 235.20,465.84 235.60,463.82 236.00,469.06 236.40,468.16 236.80,469.98 237.20,470.10 237.60,470.58 238.00,472.67 238.40,469.49 238.80,470.11 239.20,468.29 239.60,472.77 240.00,472.79 240.40,473.28 240.80,476.33 241.20,472.09 241.60,472.87 242.00,476.52 242.40,477.60 242.80,476.23 243.20,474.27 243.60,476.77 244.00,480.11 244.40,478.76 244.80,479.13 245.20,479.31 245.60,481.35 246.00,481.78 246.40,482.95 246.80,484.59 247.20,484.51 247.60,482.86 248.00,482.72 248.40,486.52 248.80,487.19 249.20,488.61 249.60,484.84 250.00,489.23 250.40,489.94 250.80,485.52 251.20,487.36 251.60,489.77 252.00,487.30 252.40,491.87 252.80,488.92 253.20,491.89 253.60,490.02 254.00,490.01 254.40,490.40 254.80,492.60 255.20,494.35 255.60,491.73 256.00,494.78 256.40,492.91 256.80,495.04 257.20,493.59 257.60,492.78 258.00,492.71 258.40,492.45 258.80,496.52 259.20,495.06 259.60,493.56 260.00,498.34 260.40,497.23 260.80,493.52 261.20,497.83 261.60,497.14 262.00,496.32 262.40,496.75 262.80,499.61 263.20,496.17 263.60,497.84 264.00,497.92 264.40,496.39 264.80,496.28 265.20,498.73 265.60,498.01 266.00,496.94 266.40,497.28 266.80,495.54 267.20,498.94 267.60,494.32 268.00,498.06 268.40,496.93 268.80,495.53 269.20,497.72 269.60,497.70 270.00,494.72 270.40,497.14 270.80,495.19 271.20,498.99 271.60,496.16 272.00,496.17 272.40,495.49 272.80,494.49 273.20,495.32 273.60,495.11 274.00,497.95 274.40,499.28 274.80,495.53 275.20,494.87 275.60,497.41 276.00,494.89 276.40,496.63 276.80,498.77 277.20,495.42 277.60,498.40 278.00,497.43 278.40,494.71 278.80,495.65 279.20,497.78 279.60,494.75 280.00,495.38 280.40,497.61 280.80,499.05 281.20,497.25 281.60,498.10 282.00,494.16 282.40,495.92 282.80,496.00 283.20,499.56 283.60,496.22 284.00,498.77 284.40,494.26 284.80,497.03 285.20,499.38 285.60,498.65 286.00,497.49 286.40,495.09 286.80,499.55 287.20,494.46 287.60,499.76 288.00,498.62 288.40,498.27 288.80,497.12 289.20,494.91 289.60,495.97 290.00,497.89 290.40,497.84 290.80,496.23 291.20,498.69 291.60,494.19 292.00,495.58 292.40,494.39 292.80,495.79 293.20,498.59 293.60,498.34 294.00,494.71 294.40,495.65 294.80,494.47 295.20,497.77 295.60,496.46" fill="none" stroke="#178a22" stroke-width="1.15" stroke-linejoin="round" stroke-linecap="round" />
<polyline points="66.00,425.95 66.40,421.06 66.80,420.38 67.20,426.25 67.60,421.38 68.00,421.02 68.40,424.22 68.80,422.41 69.20,425.69 69.60,421.76 70.00,426.15 70.40,422.32 70.80,424.03 71.20,426.04 71.60,424.58 72.00,426.03 72.40,424.75 72.80,420.81 73.20,425.83 73.60,424.09 74.00,422.44 74.40,421.74 74.80,425.71 75.20,424.13 75.60,426.28 76.00,425.31 76.40,426.46 76.80,424.11 77.20,424.92 77.60,424.42 78.00,422.32 78.40,426.52 78.80,422.68 79.20,425.51 79.60,426.57 80.00,424.76 80.40,421.73 80.80,425.85 81.20,424.92 81.60,422.04 82.00,421.25 82.40,424.16 82.80,421.18 83.20,426.56 83.60,424.07 84.00,424.15 84.40,423.52 84.80,425.05 85.20,426.60 85.60,422.97 86.00,423.38 86.40,424.66 86.80,422.96 87.20,424.77 87.60,424.48 88.00,423.84 88.40,425.29 88.80,424.44 89.20,421.82 89.60,427.29 90.00,423.46 90.40,423.94 90.80,423.78 91.20,426.96 91.60,427.12 92.00,424.50 92.40,423.85 92.80,422.04 93.20,426.85 93.60,422.53 94.00,424.80 94.40,423.63 94.80,423.53 95.20,423.72 95.60,422.74 96.00,421.83 96.40,424.84 96.80,426.42 97.20,425.55 97.60,422.90 98.00,425.87 98.40,422.04 98.80,424.21 99.20,426.73 99.60,427.31 100.00,424.56 100.40,426.90 100.80,424.83 101.20,425.00 101.60,425.38 102.00,427.84 102.40,426.38 102.80,424.77 103.20,426.32 103.60,425.83 104.00,424.12 104.40,426.72 104.80,426.95 105.20,425.70 105.60,427.73 106.00,422.20 106.40,425.11 106.80,425.94 107.20,424.19 107.60,423.20 108.00,426.34 108.40,424.81 108.80,423.84 109.20,422.50 109.60,428.07 110.00,424.40 110.40,423.01 110.80,423.62 111.20,423.87 111.60,427.56 112.00,423.46 112.40,424.06 112.80,423.00 113.20,425.26 113.60,423.70 114.00,424.54 114.40,426.90 114.80,428.06 115.20,427.54 115.60,422.78 116.00,424.84 116.40,427.69 116.80,422.81 117.20,423.85 117.60,425.59 118.00,424.96 118.40,427.19 118.80,427.02 119.20,425.51 119.60,424.24 120.00,424.15 120.40,424.38 120.80,423.20 121.20,426.82 121.60,423.79 122.00,428.20 122.40,426.76 122.80,423.24 123.20,425.91 123.60,426.56 124.00,423.21 124.40,425.90 124.80,423.18 125.20,427.61 125.60,423.06 126.00,426.85 126.40,428.99 126.80,428.17 127.20,424.51 127.60,426.34 128.00,423.99 128.40,425.22 128.80,428.37 129.20,428.12 129.60,423.28 130.00,425.53 130.40,427.11 130.80,424.34 131.20,428.12 131.60,428.68 132.00,426.65 132.40,425.54 132.80,428.47 133.20,426.48 133.60,424.55 134.00,425.11 134.40,424.42 134.80,428.51 135.20,426.56 135.60,427.70 136.00,428.44 136.40,429.40 136.80,424.72 137.20,426.03 137.60,428.86 138.00,428.20 138.40,425.97 138.80,427.61 139.20,424.86 139.60,424.68 140.00,424.03 140.40,426.03 140.80,425.19 141.20,426.90 141.60,429.63 142.00,424.74 142.40,427.19 142.80,429.05 143.20,427.48 143.60,427.07 144.00,428.54 144.40,424.09 144.80,429.68 145.20,428.13 145.60,428.88 146.00,429.02 146.40,424.69 146.80,424.52 147.20,425.22 147.60,427.21 148.00,429.84 148.40,429.69 148.80,426.73 149.20,428.02 149.60,428.75 150.00,426.34 150.40,430.19 150.80,430.05 151.20,428.78 151.60,429.86 152.00,429.28 152.40,428.42 152.80,426.46 153.20,426.25 153.60,426.02 154.00,424.96 154.40,430.20 154.80,426.46 155.20,424.84 155.60,426.62 156.00,425.37 156.40,427.45 156.80,426.80 157.20,425.88 157.60,427.72 158.00,427.37 158.40,427.04 158.80,429.82 159.20,426.81 159.60,428.24 160.00,430.29 160.40,430.80 160.80,427.32 161.20,425.35 161.60,430.83 162.00,428.24 162.40,426.49 162.80,425.98 163.20,426.67 163.60,427.13 164.00,426.12 164.40,425.61 164.80,431.31 165.20,430.30 165.60,426.08 166.00,428.31 166.40,430.26 166.80,428.51 167.20,425.93 167.60,427.57 168.00,427.85 168.40,431.08 168.80,429.12 169.20,428.40 169.60,429.46 170.00,425.99 170.40,429.85 170.80,430.62 171.20,429.83 171.60,428.00 172.00,427.59 172.40,425.96 172.80,426.43 173.20,426.90 173.60,428.73 174.00,430.71 174.40,427.38 174.80,428.94 175.20,429.96 175.60,429.95 176.00,426.33 176.40,431.77 176.80,429.79 177.20,428.13 177.60,427.78 178.00,430.51 178.40,432.01 178.80,428.47 179.20,428.87 179.60,429.86 180.00,427.60 180.40,429.02 180.80,432.12 181.20,429.99 181.60,431.62 182.00,428.29 182.40,431.97 182.80,431.48 183.20,428.17 183.60,430.04 184.00,430.98 184.40,430.36 184.80,430.57 185.20,428.43 185.60,430.35 186.00,429.19 186.40,431.88 186.80,429.36 187.20,433.04 187.60,430.68 188.00,428.60 188.40,429.76 188.80,428.07 189.20,431.75 189.60,427.64 190.00,431.03 190.40,429.31 190.80,432.19 191.20,428.35 191.60,431.74 192.00,432.00 192.40,429.18 192.80,428.63 193.20,430.14 193.60,431.87 194.00,429.60 194.40,428.15 194.80,430.81 195.20,433.08 195.60,429.24 196.00,434.00 196.40,431.47 196.80,429.45 197.20,429.15 197.60,430.83 198.00,431.53 198.40,429.79 198.80,429.30 199.20,432.06 199.60,430.82 200.00,431.91 200.40,432.20 200.80,433.93 201.20,433.46 201.60,431.61 202.00,431.57 202.40,435.89 202.80,431.29 203.20,431.97 203.60,431.90 204.00,436.69 204.40,435.23 204.80,437.77 205.20,436.23 205.60,434.74 206.00,435.56 206.40,437.61 206.80,434.86 207.20,438.54 207.60,436.41 208.00,434.47 208.40,436.55 208.80,438.21 209.20,436.09 209.60,441.00 210.00,441.48 210.40,439.35 210.80,442.07 211.20,441.14 211.60,440.59 212.00,438.67 212.40,443.80 212.80,443.96 213.20,441.51 213.60,441.47 214.00,439.96 214.40,443.59 214.80,445.36 215.20,442.93 215.60,442.69 216.00,444.99 216.40,446.43 216.80,443.05 217.20,444.07 217.60,446.56 218.00,443.27 218.40,448.25 218.80,445.56 219.20,448.98 219.60,447.04 220.00,445.63 220.40,445.07 220.80,445.96 221.20,447.16 221.60,450.47 222.00,451.01 222.40,450.35 222.80,448.73 223.20,451.19 223.60,451.92 224.00,450.06 224.40,448.66 224.80,451.31 225.20,450.15 225.60,450.27 226.00,451.84 226.40,450.34 226.80,455.68 227.20,452.37 227.60,456.47 228.00,455.90 228.40,451.94 228.80,457.66 229.20,457.52 229.60,456.21 230.00,458.76 230.40,456.72 230.80,454.39 231.20,455.54 231.60,456.90 232.00,460.58 232.40,460.80 232.80,456.93 233.20,458.72 233.60,457.68 234.00,458.78 234.40,459.92 234.80,460.75 235.20,459.68 235.60,463.24 236.00,461.27 236.40,465.67 236.80,463.74 237.20,463.95 237.60,466.48 238.00,464.47 238.40,464.46 238.80,464.18 239.20,465.73 239.60,465.88 240.00,469.41 240.40,467.64 240.80,470.27 241.20,468.20 241.60,467.49 242.00,469.42 242.40,470.46 242.80,474.08 243.20,470.34 243.60,470.97 244.00,471.25 244.40,472.44 244.80,477.29 245.20,477.72 245.60,474.10 246.00,473.64 246.40,476.87 246.80,478.07 247.20,475.84 247.60,478.28 248.00,480.99 248.40,476.99 248.80,481.90 249.20,482.31 249.60,483.53 250.00,482.33 250.40,482.80 250.80,483.74 251.20,482.05 251.60,484.92 252.00,483.89 252.40,484.87 252.80,483.67 253.20,484.81 253.60,484.64 254.00,488.01 254.40,486.64 254.80,489.01 255.20,489.16 255.60,487.99 256.00,487.81 256.40,491.08 256.80,492.02 257.20,492.56 257.60,491.92 258.00,492.70 258.40,489.61 258.80,491.54 259.20,494.74 259.60,492.44 260.00,491.04 260.40,493.19 260.80,495.90 261.20,491.73 261.60,492.05 262.00,494.61 262.40,497.09 262.80,494.44 263.20,493.68 263.60,496.89 264.00,492.94 264.40,494.23 264.80,496.14 265.20,497.74 265.60,497.90 266.00,494.77 266.40,494.51 266.80,495.18 267.20,493.73 267.60,494.64 268.00,497.60 268.40,498.87 268.80,494.62 269.20,493.43 269.60,497.44 270.00,498.80 270.40,497.76 270.80,495.48 271.20,497.46 271.60,497.56 272.00,497.46 272.40,495.96 272.80,498.99 273.20,497.68 273.60,494.41 274.00,495.58 274.40,493.53 274.80,495.25 275.20,497.90 275.60,495.92 276.00,496.15 276.40,497.67 276.80,493.52 277.20,495.12 277.60,495.90 278.00,495.96 278.40,497.11 278.80,498.62 279.20,497.81 279.60,496.27 280.00,497.10 280.40,496.23 280.80,498.92 281.20,496.57 281.60,496.54 282.00,495.35 282.40,495.48 282.80,497.53 283.20,495.18 283.60,498.35 284.00,497.29 284.40,498.64 284.80,497.14 285.20,496.31 285.60,495.08 286.00,492.98 286.40,496.83 286.80,497.36 287.20,497.18 287.60,497.38 288.00,493.03 288.40,496.91 288.80,494.48 289.20,495.12 289.60,497.99 290.00,495.20 290.40,495.56 290.80,493.05 291.20,493.83 291.60,493.99 292.00,494.01 292.40,495.85 292.80,492.99 293.20,493.22 293.60,493.20 294.00,497.07 294.40,498.48 294.80,497.15 295.20,495.73 295.60,493.41" fill="none" stroke="#151515" stroke-width="1.15" stroke-linejoin="round" stroke-linecap="round" />
<polyline points="66.00,426.35 66.40,426.51 66.80,426.19 67.20,421.36 67.60,424.43 68.00,423.44 68.40,424.09 68.80,421.71 69.20,422.10 69.60,423.64 70.00,422.31 70.40,423.74 70.80,421.17 71.20,421.56 71.60,425.32 72.00,423.61 72.40,424.18 72.80,425.53 73.20,423.29 73.60,421.50 74.00,425.88 74.40,424.73 74.80,425.16 75.20,424.96 75.60,427.08 76.00,423.45 76.40,425.85 76.80,423.52 77.20,424.76 77.60,425.31 78.00,423.25 78.40,421.90 78.80,424.25 79.20,425.73 79.60,424.98 80.00,424.14 80.40,425.33 80.80,422.59 81.20,422.59 81.60,423.47 82.00,426.45 82.40,422.75 82.80,422.28 83.20,422.20 83.60,421.86 84.00,423.30 84.40,425.10 84.80,426.61 85.20,423.69 85.60,423.94 86.00,423.47 86.40,423.59 86.80,426.44 87.20,425.09 87.60,423.37 88.00,422.48 88.40,426.56 88.80,426.12 89.20,426.86 89.60,423.34 90.00,425.20 90.40,427.46 90.80,425.52 91.20,427.66 91.60,423.01 92.00,427.87 92.40,422.38 92.80,424.56 93.20,422.22 93.60,426.96 94.00,426.24 94.40,427.98 94.80,426.99 95.20,427.87 95.60,425.42 96.00,428.14 96.40,426.72 96.80,424.33 97.20,428.11 97.60,424.55 98.00,423.47 98.40,422.78 98.80,425.14 99.20,423.54 99.60,427.98 100.00,428.10 100.40,423.72 100.80,423.06 101.20,425.63 101.60,423.50 102.00,425.76 102.40,427.39 102.80,424.05 103.20,425.08 103.60,427.98 104.00,425.26 104.40,424.67 104.80,427.99 105.20,427.53 105.60,428.04 106.00,426.82 106.40,425.18 106.80,426.89 107.20,427.73 107.60,426.60 108.00,424.22 108.40,424.58 108.80,425.28 109.20,427.47 109.60,426.21 110.00,426.18 110.40,427.86 110.80,423.57 111.20,426.73 111.60,424.96 112.00,426.34 112.40,428.01 112.80,424.51 113.20,428.75 113.60,423.53 114.00,426.45 114.40,426.35 114.80,424.52 115.20,426.50 115.60,425.98 116.00,425.87 116.40,427.50 116.80,423.23 117.20,425.49 117.60,427.96 118.00,424.12 118.40,428.49 118.80,424.53 119.20,427.41 119.60,424.39 120.00,426.06 120.40,425.92 120.80,423.89 121.20,427.62 121.60,426.32 122.00,427.60 122.40,426.72 122.80,426.84 123.20,426.68 123.60,425.33 124.00,428.95 124.40,424.10 124.80,428.86 125.20,428.80 125.60,426.62 126.00,428.32 126.40,427.71 126.80,427.32 127.20,425.46 127.60,425.65 128.00,425.85 128.40,425.58 128.80,429.55 129.20,425.86 129.60,426.15 130.00,426.37 130.40,428.77 130.80,426.75 131.20,427.23 131.60,425.46 132.00,425.61 132.40,424.50 132.80,425.29 133.20,425.59 133.60,429.14 134.00,427.06 134.40,424.72 134.80,426.86 135.20,424.82 135.60,427.51 136.00,426.79 136.40,429.31 136.80,425.73 137.20,429.30 137.60,425.70 138.00,430.13 138.40,428.06 138.80,424.53 139.20,429.14 139.60,425.97 140.00,426.50 140.40,425.23 140.80,429.39 141.20,424.93 141.60,428.84 142.00,426.80 142.40,428.52 142.80,426.22 143.20,424.96 143.60,430.00 144.00,428.46 144.40,425.58 144.80,430.45 145.20,430.09 145.60,425.74 146.00,424.78 146.40,428.36 146.80,425.56 147.20,429.14 147.60,427.59 148.00,429.06 148.40,428.25 148.80,429.48 149.20,429.82 149.60,428.53 150.00,428.49 150.40,426.93 150.80,425.80 151.20,425.58 151.60,430.19 152.00,426.31 152.40,427.66 152.80,427.03 153.20,428.88 153.60,428.39 154.00,430.37 154.40,427.86 154.80,427.44 155.20,429.20 155.60,429.79 156.00,430.90 156.40,427.25 156.80,430.72 157.20,431.32 157.60,431.35 158.00,426.26 158.40,427.79 158.80,430.18 159.20,430.55 159.60,425.83 160.00,427.99 160.40,429.99 160.80,430.22 161.20,428.91 161.60,426.99 162.00,428.20 162.40,426.14 162.80,427.71 163.20,428.40 163.60,430.80 164.00,429.43 164.40,428.41 164.80,427.42 165.20,427.87 165.60,430.03 166.00,428.70 166.40,427.09 166.80,431.01 167.20,429.56 167.60,431.94 168.00,429.38 168.40,429.93 168.80,428.78 169.20,429.90 169.60,431.79 170.00,432.19 170.40,430.30 170.80,428.95 171.20,426.78 171.60,431.48 172.00,428.82 172.40,428.80 172.80,426.88 173.20,426.78 173.60,428.95 174.00,432.49 174.40,431.12 174.80,430.96 175.20,430.75 175.60,428.41 176.00,427.82 176.40,430.46 176.80,427.26 177.20,430.44 177.60,430.03 178.00,430.23 178.40,427.74 178.80,427.45 179.20,429.92 179.60,427.99 180.00,431.00 180.40,429.04 180.80,430.94 181.20,431.75 181.60,430.92 182.00,430.51 182.40,428.54 182.80,429.47 183.20,433.29 183.60,429.07 184.00,429.20 184.40,430.48 184.80,430.83 185.20,432.34 185.60,429.40 186.00,433.44 186.40,427.83 186.80,432.47 187.20,431.18 187.60,433.20 188.00,428.75 188.40,432.00 188.80,433.58 189.20,431.93 189.60,428.64 190.00,433.53 190.40,433.88 190.80,428.79 191.20,433.15 191.60,428.73 192.00,428.81 192.40,433.15 192.80,432.76 193.20,434.25 193.60,432.36 194.00,431.71 194.40,430.33 194.80,432.20 195.20,434.78 195.60,432.77 196.00,434.21 196.40,430.20 196.80,433.49 197.20,433.54 197.60,429.63 198.00,434.19 198.40,430.39 198.80,430.70 199.20,430.02 199.60,433.87 200.00,431.00 200.40,436.25 200.80,430.64 201.20,435.75 201.60,435.69 202.00,434.80 202.40,435.07 202.80,436.67 203.20,435.95 203.60,433.22 204.00,437.41 204.40,435.00 204.80,436.63 205.20,436.45 205.60,439.04 206.00,436.36 206.40,439.24 206.80,434.86 207.20,436.57 207.60,438.91 208.00,438.92 208.40,440.60 208.80,437.21 209.20,441.15 209.60,441.46 210.00,437.90 210.40,438.24 210.80,441.26 211.20,443.98 211.60,442.16 212.00,441.41 212.40,442.24 212.80,444.42 213.20,443.05 213.60,443.50 214.00,444.19 214.40,446.59 214.80,446.16 215.20,446.75 215.60,443.67 216.00,446.03 216.40,447.72 216.80,447.41 217.20,449.14 217.60,449.24 218.00,444.83 218.40,447.44 218.80,446.86 219.20,446.26 219.60,448.36 220.00,451.58 220.40,450.61 220.80,446.92 221.20,448.13 221.60,449.18 222.00,452.60 222.40,450.37 222.80,448.89 223.20,451.55 223.60,450.06 224.00,449.13 224.40,452.77 224.80,455.48 225.20,454.55 225.60,454.71 226.00,451.60 226.40,454.45 226.80,455.30 227.20,456.43 227.60,454.95 228.00,452.99 228.40,458.63 228.80,455.05 229.20,458.28 229.60,457.03 230.00,459.32 230.40,457.07 230.80,455.99 231.20,458.40 231.60,459.11 232.00,461.38 232.40,459.44 232.80,461.41 233.20,460.06 233.60,462.60 234.00,459.70 234.40,464.46 234.80,465.36 235.20,460.36 235.60,465.88 236.00,465.92 236.40,465.93 236.80,462.92 237.20,467.20 237.60,467.95 238.00,467.60 238.40,470.14 238.80,470.56 239.20,469.20 239.60,471.46 240.00,467.29 240.40,468.74 240.80,470.65 241.20,471.12 241.60,474.22 242.00,472.84 242.40,473.27 242.80,473.83 243.20,476.38 243.60,473.72 244.00,476.36 244.40,476.13 244.80,475.55 245.20,475.78 245.60,475.27 246.00,475.02 246.40,477.58 246.80,477.97 247.20,477.27 247.60,480.30 248.00,480.10 248.40,484.16 248.80,483.89 249.20,483.80 249.60,485.50 250.00,482.68 250.40,482.33 250.80,485.90 251.20,484.21 251.60,489.25 252.00,486.35 252.40,489.57 252.80,486.19 253.20,485.73 253.60,489.38 254.00,490.24 254.40,488.07 254.80,492.55 255.20,493.29 255.60,492.03 256.00,494.25 256.40,494.71 256.80,490.16 257.20,494.00 257.60,494.34 258.00,494.49 258.40,492.38 258.80,493.84 259.20,494.35 259.60,496.16 260.00,491.61 260.40,493.79 260.80,493.67 261.20,496.77 261.60,492.96 262.00,492.87 262.40,493.28 262.80,493.38 263.20,495.38 263.60,498.05 264.00,495.08 264.40,493.65 264.80,497.15 265.20,495.22 265.60,496.74 266.00,497.89 266.40,496.14 266.80,497.80 267.20,497.12 267.60,498.51 268.00,497.97 268.40,498.81 268.80,497.88 269.20,495.09 269.60,496.43 270.00,498.03 270.40,498.11 270.80,497.78 271.20,498.46 271.60,498.35 272.00,496.65 272.40,497.24 272.80,493.66 273.20,496.26 273.60,497.76 274.00,498.88 274.40,498.49 274.80,496.04 275.20,494.78 275.60,498.71 276.00,497.34 276.40,494.55 276.80,493.63 277.20,498.67 277.60,496.86 278.00,494.06 278.40,499.34 278.80,496.92 279.20,497.95 279.60,498.24 280.00,494.94 280.40,496.52 280.80,494.41 281.20,497.04 281.60,495.97 282.00,498.09 282.40,494.03 282.80,494.56 283.20,495.64 283.60,493.32 284.00,495.74 284.40,499.07 284.80,498.47 285.20,494.35 285.60,498.25 286.00,494.60 286.40,494.68 286.80,497.06 287.20,494.98 287.60,494.42 288.00,493.71 288.40,494.25 288.80,494.33 289.20,498.64 289.60,493.41 290.00,496.39 290.40,494.41 290.80,497.45 291.20,493.14 291.60,495.34 292.00,497.53 292.40,493.25 292.80,495.55 293.20,495.03 293.60,495.97 294.00,496.82 294.40,493.52 294.80,498.23 295.20,494.64 295.60,497.64" fill="none" stroke="#f01414" stroke-width="1.15" stroke-linejoin="round" stroke-linecap="round" />
<polyline points="66.00,424.73 66.55,425.32 67.10,422.46 67.65,426.07 68.20,422.56 68.75,424.68 69.30,422.16 69.85,425.12 70.40,422.47 70.95,424.94 71.50,425.05 72.05,425.25 72.60,423.85 73.15,425.75 73.70,426.31 74.25,422.50 74.80,424.29 75.35,426.26 75.90,425.32 76.45,424.05 77.00,423.46 77.55,426.34 78.10,422.54 78.65,425.54 79.20,425.93 79.75,422.94 80.30,423.71 80.85,423.64 81.40,424.71 81.95,423.97 82.50,426.31 83.05,426.47 83.60,423.82 84.15,426.39 84.70,422.79 85.25,422.93 85.80,425.46 86.35,426.07 86.90,426.19 87.45,426.97 88.00,426.42 88.55,423.83 89.10,425.96 89.65,426.78 90.20,423.15 90.75,424.94 91.30,423.47 91.85,423.45 92.40,424.95 92.95,425.82 93.50,427.18 94.05,423.50 94.60,425.17 95.15,427.36 95.70,426.36 96.25,425.36 96.80,424.12 97.35,425.85 97.90,424.25 98.45,425.96 99.00,426.01 99.55,424.90 100.10,426.70 100.65,425.01 101.20,425.32 101.75,426.94 102.30,424.41 102.85,424.15 103.40,425.89 103.95,425.30 104.50,427.26 105.05,424.54 105.60,425.10 106.15,423.75 106.70,425.51 107.25,424.93 107.80,425.55 108.35,426.96 108.90,423.79 109.45,428.01 110.00,426.81 110.55,427.28 111.10,426.11 111.65,426.30 112.20,425.59 112.75,425.56 113.30,424.81 113.85,425.20 114.40,425.19 114.95,425.40 115.50,427.94 116.05,427.49 116.60,426.82 117.15,424.10 117.70,425.21 118.25,426.47 118.80,427.15 119.35,425.98 119.90,426.94 120.45,428.17 121.00,425.39 121.55,425.92 122.10,427.61 122.65,425.70 123.20,427.49 123.75,426.09 124.30,424.46 124.85,426.44 125.40,424.73 125.95,427.91 126.50,428.20 127.05,426.84 127.60,428.49 128.15,425.50 128.70,426.55 129.25,425.38 129.80,424.85 130.35,428.29 130.90,424.92 131.45,428.83 132.00,427.19 132.55,427.85 133.10,425.02 133.65,428.82 134.20,428.34 134.75,425.33 135.30,425.71 135.85,425.55 136.40,427.18 136.95,425.33 137.50,428.52 138.05,427.22 138.60,428.16 139.15,426.21 139.70,427.99 140.25,427.14 140.80,428.02 141.35,427.00 141.90,429.58 142.45,428.97 143.00,428.94 143.55,426.80 144.10,426.18 144.65,426.05 145.20,425.99 145.75,429.71 146.30,426.73 146.85,429.36 147.40,426.59 147.95,428.33 148.50,426.74 149.05,427.03 149.60,429.00 150.15,428.43 150.70,429.95 151.25,426.87 151.80,427.05 152.35,426.18 152.90,426.88 153.45,430.29 154.00,428.49 154.55,428.14 155.10,427.59 155.65,429.47 156.20,429.20 156.75,426.88 157.30,426.44 157.85,427.04 158.40,429.91 158.95,429.57 159.50,427.38 160.05,427.45 160.60,427.81 161.15,429.49 161.70,429.83 162.25,427.62 162.80,428.06 163.35,427.69 163.90,430.85 164.45,429.15 165.00,430.90 165.55,427.86 166.10,429.62 166.65,429.38 167.20,431.01 167.75,428.55 168.30,427.99 168.85,430.62 169.40,431.25 169.95,429.34 170.50,428.61 171.05,427.56 171.60,429.19 172.15,431.35 172.70,428.90 173.25,429.35 173.80,429.91 174.35,428.52 174.90,427.99 175.45,429.85 176.00,431.87 176.55,431.49 177.10,429.03 177.65,431.20 178.20,431.46 178.75,430.41 179.30,429.47 179.85,428.80 180.40,431.08 180.95,431.05 181.50,429.02 182.05,428.75 182.60,428.67 183.15,431.86 183.70,432.16 184.25,430.59 184.80,431.05 185.35,431.52 185.90,429.14 186.45,430.78 187.00,430.52 187.55,432.42 188.10,429.36 188.65,432.41 189.20,429.36 189.75,431.47 190.30,432.77 190.85,429.27 191.40,431.15 191.95,429.13 192.50,431.44 193.05,431.42 193.60,433.60 194.15,431.60 194.70,433.55 195.25,432.84 195.80,433.43 196.35,431.35 196.90,430.32 197.45,432.79 198.00,430.57 198.55,432.92 199.10,431.17 199.65,433.39 200.20,434.44 200.75,435.64 201.30,432.64 201.85,432.86 202.40,434.29 202.95,437.06 203.50,434.24 204.05,435.55 204.60,435.48 205.15,434.41 205.70,436.86 206.25,436.17 206.80,437.23 207.35,438.76 207.90,438.89 208.45,437.53 209.00,439.80 209.55,439.80 210.10,441.30 210.65,438.44 211.20,440.16 211.75,442.38 212.30,442.36 212.85,442.62 213.40,443.22 213.95,444.11 214.50,445.12 215.05,446.05 215.60,446.30 216.15,447.35 216.70,446.35 217.25,445.02 217.80,446.33 218.35,448.94 218.90,448.99 219.45,448.76 220.00,447.04 220.55,447.63 221.10,450.25 221.65,449.66 222.20,449.07 222.75,452.96 223.30,450.15 223.85,453.65 224.40,452.75 224.95,454.66 225.50,454.40 226.05,452.42 226.60,453.08 227.15,456.42 227.70,455.08 228.25,455.93 228.80,457.55 229.35,457.45 229.90,458.51 230.45,458.18 231.00,457.64 231.55,460.15 232.10,458.08 232.65,461.25 233.20,462.11 233.75,459.78 234.30,459.86 234.85,464.58 235.40,462.09 235.95,464.33 236.50,463.97 237.05,464.01 237.60,465.26 238.15,465.16 238.70,469.27 239.25,469.65 239.80,470.42 240.35,468.33 240.90,469.82 241.45,469.54 242.00,473.56 242.55,474.83 243.10,475.53 243.65,475.90 244.20,475.73 244.75,476.05 245.30,475.20 245.85,475.67 246.40,479.09 246.95,481.43 247.50,482.35 248.05,480.71 248.60,482.00 249.15,484.42 249.70,482.62 250.25,485.44 250.80,485.68 251.35,485.77 251.90,486.20 252.45,485.81 253.00,486.38 253.55,487.67 254.10,491.34 254.65,491.22 255.20,488.29 255.75,492.20 256.30,490.12 256.85,492.66 257.40,494.59 257.95,494.85 258.50,495.10 259.05,495.90 259.60,494.64 260.15,492.33 260.70,493.64 261.25,495.79 261.80,495.80 262.35,497.39 262.90,494.25 263.45,497.53 264.00,496.29 264.55,496.48 265.10,494.53 265.65,495.69 266.20,496.46 266.75,497.52 267.30,497.19 267.85,497.02 268.40,497.33 268.95,495.75 269.50,495.68 270.05,498.50 270.60,497.15 271.15,496.66 271.70,498.45 272.25,498.01 272.80,497.37 273.35,498.51 273.90,495.89 274.45,498.27 275.00,496.74 275.55,496.07 276.10,495.97 276.65,494.42 277.20,498.10 277.75,498.48 278.30,495.86 278.85,498.37 279.40,494.77 279.95,496.23 280.50,498.56 281.05,496.96 281.60,494.85 282.15,496.94 282.70,494.25 283.25,497.29 283.80,496.69 284.35,496.93 284.90,497.05 285.45,494.49 286.00,497.93 286.55,497.40 287.10,497.95 287.65,495.02 288.20,495.00 288.75,497.16 289.30,498.03 289.85,496.46 290.40,495.01 290.95,495.87 291.50,494.97 292.05,496.02 292.60,498.10 293.15,496.86 293.70,494.75 294.25,497.87 294.80,497.69 295.35,495.59 295.90,493.81" fill="none" stroke="#f01414" stroke-width="1.15" stroke-linejoin="round" stroke-linecap="round" />
<line x1="66.20" y1="426.00" x2="66.20" y2="436.00" stroke="#178a22" stroke-width="1.0" />
<rect x="44.60" y="395.20" width="263.10" height="105.00" fill="none" stroke="#0a0a0a" stroke-width="1.35"/>
<line x1="44.60" y1="465.35" x2="49.10" y2="465.35" stroke="#0a0a0a" stroke-width="1.2" />
<line x1="44.60" y1="430.50" x2="49.10" y2="430.50" stroke="#0a0a0a" stroke-width="1.2" />
<line x1="44.60" y1="493.23" x2="47.10" y2="493.23" stroke="#0a0a0a" stroke-width="1.2" />
<line x1="44.60" y1="486.26" x2="47.10" y2="486.26" stroke="#0a0a0a" stroke-width="1.2" />
<line x1="44.60" y1="479.29" x2="47.10" y2="479.29" stroke="#0a0a0a" stroke-width="1.2" />
<line x1="44.60" y1="472.32" x2="47.10" y2="472.32" stroke="#0a0a0a" stroke-width="1.2" />
<line x1="44.60" y1="458.38" x2="47.10" y2="458.38" stroke="#0a0a0a" stroke-width="1.2" />
<line x1="44.60" y1="451.41" x2="47.10" y2="451.41" stroke="#0a0a0a" stroke-width="1.2" />
<line x1="44.60" y1="444.44" x2="47.10" y2="444.44" stroke="#0a0a0a" stroke-width="1.2" />
<line x1="44.60" y1="437.47" x2="47.10" y2="437.47" stroke="#0a0a0a" stroke-width="1.2" />
<line x1="44.60" y1="423.53" x2="47.10" y2="423.53" stroke="#0a0a0a" stroke-width="1.2" />
<line x1="44.60" y1="416.56" x2="47.10" y2="416.56" stroke="#0a0a0a" stroke-width="1.2" />
<line x1="44.60" y1="409.59" x2="47.10" y2="409.59" stroke="#0a0a0a" stroke-width="1.2" />
<line x1="44.60" y1="402.62" x2="47.10" y2="402.62" stroke="#0a0a0a" stroke-width="1.2" />
<line x1="103.40" y1="500.20" x2="103.40" y2="495.80" stroke="#0a0a0a" stroke-width="1.2" />
<line x1="161.90" y1="500.20" x2="161.90" y2="495.80" stroke="#0a0a0a" stroke-width="1.2" />
<line x1="220.40" y1="500.20" x2="220.40" y2="495.80" stroke="#0a0a0a" stroke-width="1.2" />
<line x1="278.90" y1="500.20" x2="278.90" y2="495.80" stroke="#0a0a0a" stroke-width="1.2" />
<line x1="74.15" y1="500.20" x2="74.15" y2="495.80" stroke="#0a0a0a" stroke-width="1.2" />
<line x1="132.65" y1="500.20" x2="132.65" y2="495.80" stroke="#0a0a0a" stroke-width="1.2" />
<line x1="191.15" y1="500.20" x2="191.15" y2="495.80" stroke="#0a0a0a" stroke-width="1.2" />
<line x1="249.65" y1="500.20" x2="249.65" y2="495.80" stroke="#0a0a0a" stroke-width="1.2" />
<text x="40.60" y="434.60" font-size="10.4" text-anchor="end" font-weight="normal" font-style="normal" fill="#1a1a1a" stroke="#1a1a1a" stroke-width="0.25" >1</text>
<text x="40.60" y="504.30" font-size="10.4" text-anchor="end" font-weight="normal" font-style="normal" fill="#1a1a1a" stroke="#1a1a1a" stroke-width="0.25" >0</text>
<text x="44.90" y="511.00" font-size="10.4" text-anchor="middle" font-weight="normal" font-style="normal" fill="#1a1a1a" stroke="#1a1a1a" stroke-width="0.25" >0</text>
<text x="103.40" y="511.00" font-size="10.4" text-anchor="middle" font-weight="normal" font-style="normal" fill="#1a1a1a" stroke="#1a1a1a" stroke-width="0.25" >10</text>
<text x="161.90" y="511.00" font-size="10.4" text-anchor="middle" font-weight="normal" font-style="normal" fill="#1a1a1a" stroke="#1a1a1a" stroke-width="0.25" >20</text>
<text x="220.40" y="511.00" font-size="10.4" text-anchor="middle" font-weight="normal" font-style="normal" fill="#1a1a1a" stroke="#1a1a1a" stroke-width="0.25" >30</text>
<text x="278.90" y="511.00" font-size="10.4" text-anchor="middle" font-weight="normal" font-style="normal" fill="#1a1a1a" stroke="#1a1a1a" stroke-width="0.25" >40</text>
<text x="179.40" y="522.90" font-size="11.7" text-anchor="middle" font-weight="normal" font-style="normal" fill="#1a1a1a" stroke="#1a1a1a" stroke-width="0.25" >Temperature (K)</text>
<text transform="translate(27.40,455.20) rotate(-90)" font-size="11.4" text-anchor="middle" fill="#1a1a1a" stroke="#1a1a1a" stroke-width="0.25">Linear Dichroism (x10<tspan font-size="7.8" dy="-5.4">-3</tspan><tspan dy="5.4">)</tspan></text>
<text x="56.30" y="445.30" font-size="11.3" text-anchor="start" font-weight="normal" font-style="normal" fill="#f01414" stroke="#f01414" stroke-width="0.25" ><tspan font-style="italic">H</tspan> = +0.5 T</text>
<text x="56.30" y="456.60" font-size="11.3" text-anchor="start" font-weight="normal" font-style="normal" fill="#151515" stroke="#151515" stroke-width="0.25" ><tspan font-style="italic">H</tspan> = 0 T</text>
<text x="56.30" y="467.70" font-size="11.3" text-anchor="start" font-weight="normal" font-style="normal" fill="#3d8a30" stroke="#3d8a30" stroke-width="0.25" ><tspan font-style="italic">H</tspan> = -0.5 T</text>
<text x="127.20" y="493.90" font-size="11.3" text-anchor="middle" font-weight="normal" font-style="italic" fill="#1a1a1a" stroke="#1a1a1a" stroke-width="0.25" >phase I</text>
<text x="223.80" y="493.90" font-size="11.3" text-anchor="middle" font-weight="normal" font-style="italic" fill="#1a1a1a" stroke="#1a1a1a" stroke-width="0.25" >phase III</text>
<line x1="438.60" y1="394.50" x2="438.60" y2="499.50" stroke="#5c5c5c" stroke-width="1.4" stroke-dasharray="3.7,3.3"/>
<line x1="592.70" y1="394.50" x2="592.70" y2="499.50" stroke="#5c5c5c" stroke-width="1.4" stroke-dasharray="3.7,3.3"/>
<polyline points="384.50,495.74 384.94,495.99 385.44,496.79 386.00,497.61 386.62,495.92 387.28,495.79 387.99,496.08 388.75,497.60 389.54,495.70 390.36,497.41 391.22,497.10 392.10,495.44 393.00,496.56 393.92,496.21 394.85,496.01 395.79,497.67 396.74,494.87 397.69,494.55 398.63,497.21 399.57,495.49 400.50,494.77 401.41,495.05 402.30,495.04 403.16,496.69 404.00,494.33 404.84,494.22 405.70,495.19 406.58,494.93 407.48,496.00 408.39,495.49 409.32,493.88 410.25,493.25 411.19,494.98 412.12,495.26 413.06,492.20 413.99,494.13 414.91,494.35 415.81,493.51 416.70,492.03 417.58,493.58 418.43,493.20 419.25,491.41 420.04,492.58 420.80,491.14 421.53,490.44 422.21,491.16 422.86,491.00 423.45,491.03 424.00,491.64 424.50,492.07 424.95,492.32 425.36,492.24 425.72,492.18 426.06,491.45 426.35,489.89 426.62,489.40 426.85,490.64 427.06,490.31 427.25,490.60 427.41,488.76 427.56,488.96 427.70,491.05 427.82,489.99 427.93,490.17 428.04,488.27 428.14,489.08 428.24,490.50 428.35,489.61 428.46,490.51 428.57,488.01 428.70,488.65 428.84,489.55 429.00,488.33 429.16,489.22 429.32,488.38 429.48,486.90 429.63,486.69 429.77,489.19 429.91,486.44 430.05,486.51 430.19,486.77 430.32,487.74 430.44,487.99 430.57,486.68 430.69,486.58 430.81,487.27 430.92,485.55 431.04,485.64 431.15,486.16 431.26,486.03 431.37,484.03 431.47,484.03 431.58,483.89 431.69,485.42 431.79,485.08 431.90,485.68 432.00,484.27 432.10,483.49 432.20,483.73 432.30,483.67 432.40,482.75 432.50,482.12 432.59,482.19 432.69,481.80 432.78,481.38 432.87,480.93 432.95,480.69 433.04,481.10 433.12,479.96 433.21,480.18 433.29,479.43 433.37,479.07 433.44,479.34 433.52,478.46 433.59,477.98 433.67,477.88 433.74,477.74 433.80,477.19 433.87,477.14 433.94,476.30 434.00,476.02 434.06,475.82 434.12,475.15 434.17,474.98 434.22,474.30 434.27,473.52 434.32,473.06 434.36,473.26 434.41,472.76 434.45,472.49 434.49,471.77 434.53,471.18 434.56,470.29 434.60,470.50 434.63,469.28 434.67,469.11 434.70,468.34 434.74,468.11 434.77,467.56 434.81,467.20 434.84,467.02 434.88,466.39 434.92,465.63 434.96,465.72 435.00,465.24 435.04,464.89 435.08,463.66 435.12,463.82 435.17,463.67 435.21,462.61 435.25,462.13 435.29,462.32 435.33,461.46 435.38,461.08 435.42,461.08 435.46,460.23 435.50,459.64 435.54,459.24 435.58,458.96 435.62,458.90 435.67,458.16 435.71,458.16 435.75,457.04 435.79,456.82 435.83,456.78 435.88,456.22 435.92,455.83 435.96,455.85 436.00,454.78 436.04,454.26 436.08,453.69 436.12,453.72 436.17,453.11 436.21,452.86 436.25,451.96 436.29,451.52 436.33,451.47 436.38,451.42 436.42,450.53 436.46,450.72 436.50,449.95 436.54,449.35 436.58,449.30 436.62,448.34 436.67,448.29 436.71,448.12 436.75,447.40 436.79,446.77 436.83,446.15 436.88,446.23 436.92,445.45 436.96,445.25 437.00,445.04 437.04,445.07 437.08,444.43 437.12,443.91 437.16,443.88 437.20,442.97 437.24,442.69 437.28,442.62 437.31,442.15 437.35,441.47 437.39,441.31 437.43,441.38 437.47,440.46 437.51,440.59 437.55,439.60 437.59,440.18 437.63,439.59 437.67,438.91 437.71,439.26 437.76,438.77 437.80,437.73 437.85,437.61 437.90,437.56 437.95,437.78 438.00,436.64 438.05,436.27 438.10,436.26 438.16,435.73 438.21,435.83 438.26,435.70 438.32,435.35 438.37,434.81 438.43,434.45 438.48,434.99 438.54,434.40 438.60,434.21 438.66,433.98 438.72,433.96 438.78,433.96 438.84,433.67 438.91,433.36 438.97,432.76 439.04,432.38 439.11,432.09 439.19,432.66 439.26,431.66 439.34,431.97 439.42,432.11 439.50,431.32 439.59,431.19 439.67,431.03 439.77,431.36 439.86,430.91 439.96,430.88 440.07,429.89 440.17,430.40 440.28,429.94 440.39,429.72 440.50,429.96 440.61,429.70 440.72,429.71 440.83,429.37 440.94,429.38 441.06,428.74 441.17,428.71 441.28,428.78 441.39,428.30 441.49,427.83 441.60,428.14 441.70,428.28 441.81,428.14 441.90,427.26 442.00,427.38 442.09,427.10 442.17,427.09 442.25,427.59 442.33,426.94 442.40,426.73 442.46,426.59 442.53,426.66 442.59,426.79 442.65,426.37 442.72,426.13 442.78,426.08 442.84,426.03 442.91,426.59 442.98,425.77 443.05,426.27 443.13,425.54 443.21,426.13 443.30,425.53 443.40,425.96 443.50,425.52 443.61,425.07 443.73,424.99 443.86,425.60 444.00,425.24 444.15,425.08 444.31,424.84 444.48,425.07 444.66,424.75 444.85,424.21 445.04,424.64 445.24,424.23 445.44,424.65 445.66,424.23 445.87,424.34 446.09,423.56 446.31,424.03 446.54,423.82 446.76,423.94 446.99,423.86 447.22,423.41 447.45,423.33 447.68,423.40 447.91,422.78 448.13,422.95 448.35,423.09 448.57,422.79 448.79,422.64 449.00,422.86 449.20,422.88 449.40,422.07 449.59,421.80 449.78,422.26 449.96,421.71 450.13,422.45 450.31,421.88 450.48,421.87 450.66,422.08 450.83,422.06 451.01,421.26 451.19,421.50 451.37,421.15 451.56,421.36 451.76,420.96 451.96,421.63 452.18,421.04 452.40,420.99 452.63,421.43 452.88,421.27 453.14,420.70 453.41,420.78 453.70,420.86 454.00,420.29 454.32,420.14 454.66,420.76 455.01,419.97 455.38,420.41 455.76,420.33 456.15,420.07 456.55,419.71 456.96,420.11 457.38,419.93 457.81,419.10 458.25,419.81 458.69,419.43 459.13,418.97 459.58,418.73 460.03,418.55 460.48,419.14 460.93,419.07 461.38,418.46 461.83,418.18 462.28,417.97 462.72,418.21 463.15,417.99 463.58,417.65 464.00,417.80 464.42,418.23 464.83,417.39 465.25,417.64 465.67,417.66 466.08,417.23 466.50,417.02 466.92,416.98 467.33,416.97 467.75,417.72 468.17,417.53 468.58,417.30 469.00,417.42 469.42,416.78 469.83,416.63 470.25,417.18 470.67,416.85 471.08,417.10 471.50,416.46 471.92,416.45 472.33,416.69 472.75,416.78 473.17,416.00 473.58,416.03 474.00,415.71 474.42,416.19 474.84,416.49 475.27,416.07 475.71,415.59 476.14,416.06 476.58,415.96 477.02,415.35 477.46,416.10 477.90,415.78 478.34,415.55 478.78,415.34 479.22,415.10 479.65,415.35 480.08,415.19 480.51,415.00 480.93,415.35 481.34,415.31 481.75,415.55 482.15,415.51 482.54,414.96 482.92,415.16 483.29,414.77 483.65,414.78 484.00,414.87 484.34,415.24 484.68,414.25 485.02,414.63 485.35,414.46 485.68,414.89 486.00,414.99 486.32,414.47 486.63,414.04 486.94,414.52 487.23,414.47 487.53,414.53 487.81,414.59 488.09,414.24 488.36,414.30 488.62,414.48 488.87,413.71 489.11,413.90 489.34,414.32 489.57,414.58 489.78,414.52 489.97,413.84 490.16,414.51 490.34,413.80 490.50,413.95 490.65,413.64 490.78,414.07 490.90,413.85 491.00,414.14 491.08,414.40 491.16,413.57 491.22,414.10 491.28,414.04 491.32,413.72 491.36,413.48 491.39,414.39 491.41,414.15 491.42,414.08 491.43,413.56 491.44,414.36 491.44,413.87 491.45,413.94 491.45,414.04 491.45,413.93 491.45,414.44 491.46,413.96 491.47,414.17 491.48,414.27 491.50,414.43" fill="none" stroke="#f01414" stroke-width="1.8" stroke-linejoin="round" stroke-linecap="round" />
<polyline points="491.50,414.00 492.50,421.60" fill="none" stroke="#f01414" stroke-width="1.8" stroke-linejoin="round" stroke-linecap="round" />
<polyline points="492.50,421.18 492.76,421.33 493.04,421.45 493.36,422.08 493.70,421.70 494.07,421.96 494.46,421.38 494.88,421.83 495.31,422.21 495.77,421.93 496.25,422.40 496.74,422.38 497.25,421.91 497.77,421.59 498.31,422.39 498.85,421.81 499.41,421.74 499.97,422.50 500.54,422.65 501.11,422.69 501.69,422.84 502.27,422.12 502.85,422.03 503.43,422.10 504.00,422.98 504.58,422.13 505.17,422.20 505.77,422.07 506.38,422.12 506.99,422.12 507.62,422.44 508.26,422.26 508.90,422.41 509.56,423.04 510.22,422.28 510.88,422.93 511.56,422.86 512.24,422.69 512.92,422.70 513.61,422.89 514.31,422.71 515.01,422.35 515.71,422.44 516.42,422.36 517.13,422.51 517.84,423.09 518.56,422.53 519.28,422.17 520.00,422.58 520.73,422.91 521.48,422.54 522.24,422.78 523.02,422.16 523.81,422.12 524.61,422.71 525.42,422.08 526.24,422.32 527.06,422.39 527.88,422.18 528.71,422.01 529.53,421.96 530.35,422.89 531.16,422.62 531.97,422.87 532.77,422.40 533.56,422.85 534.33,422.75 535.09,422.50 535.83,422.40 536.56,422.39 537.26,422.11 537.94,422.27 538.60,422.62 539.23,422.11 539.82,422.78 540.38,422.45 540.92,422.57 541.43,422.80 541.93,422.65 542.40,422.16 542.87,422.30 543.32,422.08 543.76,422.13 544.20,423.08 544.64,422.76 545.08,423.16 545.52,423.01 545.97,422.58 546.43,423.27 546.91,423.27 547.40,422.85 547.92,422.52 548.45,422.80 549.02,422.70 549.61,422.95 550.24,422.73 550.90,423.41 551.60,423.74 552.34,423.03 553.12,423.67 553.92,423.54 554.76,423.51 555.62,424.00 556.50,423.55 557.40,424.07 558.31,423.36 559.24,424.37 560.17,423.67 561.10,423.57 562.03,424.54 562.96,424.46 563.89,424.51 564.80,424.69 565.70,424.39 566.58,424.22 567.44,424.52 568.27,425.25 569.08,425.38 569.86,424.73 570.60,425.04 571.30,425.15 571.97,425.71 572.64,424.92 573.29,425.85 573.92,425.39 574.54,425.80 575.15,425.50 575.75,425.58 576.33,426.50 576.90,426.25 577.45,426.84 577.99,426.86 578.51,426.88 579.02,426.33 579.52,426.97 580.00,427.50 580.46,427.14 580.91,426.83 581.34,427.07 581.76,428.00 582.16,428.11 582.54,427.50 582.91,427.69 583.26,428.20 583.60,428.11 583.91,427.89 584.20,428.80 584.46,428.54 584.69,428.39 584.90,428.14 585.10,428.73 585.27,429.07 585.43,428.59 585.57,428.60 585.69,429.33 585.81,429.62 585.91,429.17 586.01,429.36 586.10,429.62 586.18,429.60 586.26,429.30 586.34,429.55 586.42,429.58 586.50,429.67 586.59,429.66 586.68,430.07 586.78,430.00 586.88,430.74 587.00,430.32 587.12,431.08 587.24,431.03 587.36,430.60 587.47,430.60 587.59,431.12 587.70,431.13 587.81,431.31 587.92,431.00 588.03,431.52 588.13,431.87 588.23,431.67 588.34,431.59 588.44,432.38 588.54,431.87 588.64,432.70 588.74,432.52 588.83,431.96 588.93,432.54 589.03,432.38 589.12,433.16 589.22,432.95 589.31,432.76 589.41,433.79 589.50,433.80 589.59,433.78 589.69,433.91 589.78,433.59 589.87,434.68 589.96,434.19 590.05,434.60 590.13,434.76 590.22,434.94 590.31,434.68 590.39,435.76 590.48,435.56 590.56,435.67 590.65,436.35 590.73,436.57 590.81,436.65 590.89,437.06 590.97,436.72 591.05,436.70 591.12,437.17 591.20,437.66 591.28,438.08 591.35,438.26 591.43,438.39 591.50,438.60 591.57,438.91 591.64,439.05 591.71,438.73 591.78,439.50 591.85,439.47 591.92,439.51 591.98,440.29 592.05,440.77 592.11,440.46 592.18,441.09 592.24,441.30 592.30,441.62 592.36,442.07 592.42,442.16 592.48,441.82 592.54,442.64 592.60,442.65 592.66,443.01 592.72,443.57 592.77,443.37 592.83,444.14 592.89,444.77 592.94,444.24 593.00,445.35 593.06,445.56 593.11,445.61 593.16,446.35 593.22,446.04 593.27,446.52 593.32,447.75 593.37,447.78 593.42,447.74 593.47,448.12 593.52,448.87 593.57,449.39 593.62,450.27 593.67,449.90 593.72,450.79 593.76,451.04 593.81,451.59 593.86,452.42 593.91,452.04 593.96,453.19 594.00,453.52 594.05,453.49 594.10,453.78 594.15,454.83 594.20,455.35 594.25,455.26 594.30,455.47 594.35,456.31 594.40,456.85 594.45,456.96 594.50,457.43 594.55,457.55 594.60,458.01 594.65,458.52 594.70,459.48 594.75,459.26 594.80,459.76 594.85,460.45 594.90,460.61 594.95,461.06 595.00,461.98 595.05,461.89 595.10,462.63 595.15,462.57 595.20,463.41 595.25,464.00 595.30,464.15 595.35,464.29 595.40,464.53 595.45,465.17 595.50,465.70 595.55,465.79 595.59,466.51 595.64,466.99 595.69,466.94 595.73,467.93 595.78,468.61 595.83,468.75 595.87,468.88 595.92,469.65 595.97,470.14 596.02,470.53 596.06,470.91 596.11,471.10 596.16,471.64 596.21,471.83 596.26,471.75 596.32,471.92 596.37,472.63 596.43,473.19 596.48,473.10 596.54,473.53 596.60,473.58 596.66,473.87 596.72,474.41 596.79,475.31 596.85,474.83 596.91,475.23 596.98,475.78 597.04,476.65 597.11,476.19 597.18,476.30 597.25,476.59 597.32,477.17 597.39,477.11 597.46,478.05 597.53,477.72 597.60,478.12 597.68,478.27 597.75,478.73 597.83,478.82 597.90,479.16 597.98,479.45 598.06,479.75 598.14,480.41 598.22,480.41 598.30,480.51 598.38,480.57 598.46,481.69 598.55,481.93 598.63,482.29 598.72,482.31 598.81,482.29 598.90,482.44 598.99,482.56 599.08,483.06 599.17,483.28 599.26,484.05 599.35,483.56 599.44,484.70 599.54,485.03 599.63,485.05 599.73,485.14 599.82,483.66 599.92,484.20 600.01,485.53 600.11,486.00 600.21,487.29 600.30,486.96 600.40,485.46 600.50,485.44 600.60,487.51 600.69,485.40 600.79,488.28 600.88,485.98 600.98,487.68 601.07,488.58 601.16,486.46 601.26,486.66 601.35,488.40 601.44,488.81 601.54,486.82 601.64,488.34 601.74,489.45 601.84,489.53 601.94,488.52 602.04,487.49 602.15,489.45 602.26,489.34 602.38,489.12 602.49,489.77 602.61,489.86 602.74,489.68 602.87,490.02 603.00,490.18 603.14,490.95 603.28,491.13 603.42,488.95 603.57,491.37 603.71,489.87 603.87,490.53 604.02,490.04 604.18,490.44 604.34,490.83 604.50,491.12 604.66,490.19 604.83,490.88 605.00,491.48 605.17,491.38 605.35,491.93 605.52,490.66 605.70,492.24 605.88,493.39 606.06,493.00 606.25,492.56 606.43,493.41 606.62,492.24 606.81,491.73 607.00,493.14 607.18,492.13 607.34,492.32 607.49,493.90 607.62,493.21 607.74,492.30 607.86,492.51 607.97,494.15 608.08,493.98 608.19,494.81 608.31,494.42 608.44,493.14 608.57,494.47 608.73,495.09 608.90,495.17 609.08,495.34 609.30,493.11 609.53,493.50 609.80,493.35 610.10,495.36 610.44,495.07 610.81,494.74 611.23,493.73 611.69,494.46 612.20,495.37 612.76,493.48 613.38,496.13 614.06,495.65 614.78,496.31 615.54,496.55 616.34,495.33 617.18,494.77 618.05,495.09 618.95,495.50 619.87,495.93 620.80,495.02 621.75,495.14 622.71,495.89 623.67,496.65 624.63,494.55 625.59,497.29 626.54,496.60 627.48,496.23 628.40,496.46 629.30,497.33 630.18,496.21 631.02,495.96 631.83,495.32 632.60,496.10 633.35,495.34 634.12,495.97 634.89,497.18 635.66,496.37 636.43,498.08 637.20,496.80 637.97,497.94 638.73,496.09 639.49,498.44 640.23,498.10 640.96,498.29 641.68,498.03 642.37,497.20 643.05,496.14 643.70,498.23 644.33,498.60 644.94,497.13 645.51,498.08 646.05,497.68 646.56,498.14 647.03,498.57 647.46,497.81 647.85,496.32 648.20,497.21" fill="none" stroke="#f01414" stroke-width="1.8" stroke-linejoin="round" stroke-linecap="round" />
<polyline points="384.50,498.81 384.94,498.95 385.44,499.45 386.00,497.77 386.62,498.83 387.28,499.47 387.99,499.45 388.75,497.21 389.54,498.52 390.36,498.33 391.22,497.90 392.10,499.20 393.00,497.78 393.92,497.44 394.85,498.83 395.79,497.79 396.74,496.68 397.69,496.59 398.63,497.04 399.57,495.59 400.50,497.13 401.41,497.39 402.30,496.34 403.16,497.47 404.00,497.58 404.84,496.33 405.69,496.57 406.57,494.72 407.47,494.39 408.37,497.00 409.29,494.74 410.22,494.36 411.15,496.24 412.08,495.62 413.01,493.56 413.93,493.98 414.84,493.56 415.75,493.47 416.63,492.49 417.50,493.86 418.35,493.02 419.18,493.11 419.97,492.31 420.74,491.91 421.47,491.52 422.17,493.87 422.82,493.34 423.43,492.62 424.00,491.17 424.52,491.11 425.00,490.89 425.44,491.35 425.84,490.44 426.22,490.98 426.55,490.64 426.86,490.50 427.15,491.76 427.41,491.07 427.64,491.00 427.86,490.55 428.06,490.99 428.25,491.62 428.42,490.08 428.58,489.26 428.74,490.38 428.89,489.97 429.04,491.06 429.19,488.94 429.34,491.11 429.49,488.42 429.65,489.88 429.82,489.46 430.00,488.95 430.18,490.54 430.36,489.85 430.53,488.10 430.69,488.97 430.84,489.20 430.99,487.33 431.13,487.37 431.27,488.78 431.40,489.04 431.52,488.11 431.64,487.85 431.76,487.97 431.88,487.09 431.99,488.80 432.09,488.91 432.20,487.32 432.30,485.79 432.40,486.76 432.50,487.81 432.60,486.21 432.70,485.38 432.80,485.44 432.90,486.83 433.00,486.37 433.10,485.16 433.19,485.96 433.29,486.17 433.38,486.57 433.46,485.94 433.55,484.52 433.63,485.42 433.71,485.54 433.79,485.13 433.87,484.03 433.94,483.62 434.01,483.29 434.08,483.38 434.15,482.89 434.22,482.73 434.29,481.97 434.36,481.56 434.42,481.47 434.48,481.51 434.55,481.22 434.61,480.56 434.67,480.27 434.74,480.74 434.80,479.57 434.86,480.13 434.92,479.68 434.98,479.18 435.03,479.30 435.09,478.68 435.14,477.69 435.19,478.31 435.24,477.47 435.29,477.65 435.34,477.22 435.39,476.22 435.44,475.79 435.48,475.44 435.53,475.86 435.58,475.53 435.62,474.62 435.67,474.15 435.71,474.05 435.76,474.13 435.81,473.71 435.85,473.48 435.90,473.21 435.95,472.63 436.00,472.34 436.05,471.14 436.10,470.74 436.15,471.20 436.20,470.56 436.25,469.86 436.30,469.25 436.35,469.03 436.40,468.62 436.45,468.35 436.50,467.87 436.55,467.20 436.60,466.64 436.65,466.33 436.70,465.83 436.75,465.36 436.80,465.25 436.85,464.53 436.90,464.78 436.95,464.10 437.00,463.59 437.05,463.35 437.10,462.54 437.15,461.92 437.20,461.58 437.25,461.44 437.30,461.07 437.35,460.56 437.40,460.21 437.44,460.34 437.49,459.12 437.54,459.16 437.59,458.70 437.63,458.20 437.68,458.25 437.73,457.36 437.77,456.79 437.82,456.53 437.87,456.97 437.92,455.96 437.97,455.36 438.02,455.85 438.07,455.16 438.12,455.12 438.18,454.15 438.23,454.28 438.29,453.18 438.34,453.05 438.40,453.29 438.46,452.71 438.52,452.68 438.58,451.98 438.64,452.17 438.70,451.09 438.76,451.35 438.83,450.64 438.89,450.38 438.95,450.80 439.02,450.09 439.08,450.22 439.15,449.44 439.22,449.64 439.28,449.58 439.35,449.06 439.42,448.44 439.49,448.64 439.56,448.70 439.63,448.34 439.71,447.76 439.78,447.51 439.85,447.00 439.93,447.47 440.00,446.66 440.08,446.52 440.15,446.15 440.23,446.10 440.31,446.14 440.39,446.06 440.47,445.59 440.55,445.68 440.64,445.85 440.72,445.04 440.80,444.92 440.89,445.16 440.98,445.40 441.06,445.28 441.15,444.79 441.23,444.18 441.32,444.84 441.40,444.83 441.49,444.61 441.58,444.12 441.66,443.85 441.75,443.94 441.83,444.02 441.92,444.11 442.00,443.49 442.08,443.40 442.16,443.09 442.23,443.23 442.30,443.14 442.37,442.79 442.43,442.88 442.49,443.25 442.56,442.50 442.62,442.44 442.68,442.42 442.75,442.90 442.81,442.27 442.88,442.73 442.95,442.76 443.03,442.63 443.11,442.49 443.20,441.81 443.29,441.99 443.39,442.28 443.49,441.62 443.61,441.89 443.73,442.07 443.86,442.03 444.00,441.35 444.15,441.01 444.31,440.81 444.48,440.98 444.66,441.10 444.85,440.71 445.04,441.13 445.24,440.83 445.44,440.67 445.66,440.74 445.87,440.11 446.09,440.30 446.31,439.87 446.54,439.67 446.76,439.37 446.99,439.91 447.22,439.89 447.45,438.89 447.68,439.44 447.91,438.66 448.13,438.89 448.35,438.66 448.57,439.13 448.79,438.55 449.00,438.51 449.20,438.25 449.40,438.04 449.59,437.93 449.78,437.66 449.96,437.52 450.13,437.97 450.31,438.07 450.48,437.91 450.66,437.42 450.83,438.07 451.01,437.07 451.19,437.34 451.37,437.16 451.56,436.92 451.76,437.62 451.96,437.28 452.18,436.61 452.40,436.56 452.63,437.09 452.88,436.55 453.14,436.37 453.41,436.25 453.70,436.15 454.00,436.29 454.32,435.88 454.66,436.02 455.01,435.34 455.38,435.66 455.76,435.55 456.15,435.13 456.55,435.51 456.96,435.40 457.38,434.96 457.81,434.54 458.25,434.11 458.69,434.39 459.13,433.88 459.58,433.58 460.03,433.76 460.48,433.25 460.93,433.51 461.38,433.46 461.83,432.54 462.28,432.98 462.72,432.37 463.15,432.35 463.58,432.58 464.00,432.67 464.42,431.86 464.83,432.15 465.25,431.59 465.67,432.04 466.08,431.12 466.50,431.47 466.92,430.74 467.33,431.07 467.75,431.12 468.17,431.14 468.58,430.86 469.00,430.50 469.42,430.21 469.83,430.30 470.25,430.18 470.67,430.01 471.08,429.97 471.50,429.87 471.92,429.92 472.33,429.47 472.75,429.59 473.17,429.31 473.58,428.82 474.00,429.10 474.42,428.53 474.83,428.85 475.25,428.77 475.67,428.65 476.08,428.53 476.50,428.17 476.92,427.84 477.33,427.50 477.75,427.72 478.17,427.83 478.58,427.17 479.00,426.89 479.42,427.30 479.83,427.32 480.25,426.48 480.67,426.28 481.08,426.12 481.50,426.43 481.92,426.58 482.33,425.87 482.75,426.28 483.17,425.41 483.58,425.44 484.00,425.65 484.42,425.73 484.83,425.34 485.25,425.40 485.67,424.94 486.08,424.83 486.50,424.85 486.92,424.20 487.33,424.27 487.75,424.29 488.17,424.47 488.58,423.89 489.00,423.81 489.42,424.43 489.83,423.96 490.25,423.60 490.67,423.85 491.08,423.65 491.50,423.63 491.92,423.25 492.33,423.19 492.75,422.55 493.17,422.76 493.58,422.61 494.00,422.36 494.42,422.35 494.83,422.76 495.24,421.98 495.64,421.76 496.05,421.87 496.45,421.60 496.86,421.34 497.26,422.12 497.66,421.65 498.07,421.03 498.47,421.42 498.88,420.96 499.28,421.17 499.69,421.52 500.10,421.45 500.52,420.76 500.94,421.04 501.36,420.65 501.79,420.13 502.22,420.34 502.65,420.64 503.10,420.50 503.55,420.33 504.00,420.49 504.46,419.77 504.92,419.97 505.39,419.97 505.86,419.96 506.33,419.79 506.80,419.67 507.28,419.01 507.76,418.93 508.25,419.05 508.74,418.43 509.23,418.49 509.72,418.43 510.22,418.15 510.73,418.01 511.24,418.35 511.75,417.89 512.26,417.52 512.78,418.15 513.31,418.18 513.84,417.35 514.37,417.70 514.91,416.99 515.45,417.02 516.00,416.86 516.56,417.24 517.14,417.06 517.73,417.22 518.33,416.96 518.95,416.96 519.58,416.99 520.21,416.60 520.85,416.15 521.50,415.99 522.14,416.60 522.79,416.47 523.44,416.21 524.08,416.43 524.72,416.20 525.35,415.72 525.97,415.42 526.58,415.58 527.18,416.00 527.76,415.90 528.33,414.95 528.88,414.88 529.41,415.26 529.92,415.67 530.40,415.58 530.87,415.48 531.32,414.67 531.77,414.76 532.21,415.29 532.64,414.91 533.05,414.76 533.46,415.37 533.86,414.39 534.25,414.83 534.62,415.20 534.98,415.00 535.34,415.16 535.68,414.53 536.01,414.80 536.32,415.20 536.63,414.34 536.92,414.62 537.20,415.17 537.47,414.32 537.72,414.92 537.96,414.89 538.19,414.38 538.40,415.10 538.60,414.88 538.78,414.22 538.94,415.07 539.08,414.95 539.19,414.54 539.30,414.09 539.38,414.84 539.45,414.64 539.50,414.80 539.55,414.14 539.58,414.54 539.60,414.87 539.61,414.79 539.62,414.24 539.62,414.40 539.61,414.53 539.61,414.54 539.60,415.07 539.59,415.02 539.58,414.09 539.57,414.71 539.57,414.23 539.57,414.96 539.58,414.63 539.60,415.00" fill="none" stroke="#178a22" stroke-width="1.8" stroke-linejoin="round" stroke-linecap="round" />
<polyline points="539.60,414.60 540.40,422.40" fill="none" stroke="#178a22" stroke-width="1.8" stroke-linejoin="round" stroke-linecap="round" />
<polyline points="540.40,422.43 540.63,422.50 540.88,422.77 541.14,422.84 541.43,422.83 541.73,422.33 542.05,422.92 542.40,422.41 542.76,422.31 543.13,422.11 543.53,422.55 543.94,422.21 544.37,422.35 544.82,422.71 545.29,422.90 545.78,422.90 546.28,422.26 546.80,422.27 547.33,422.49 547.89,422.83 548.46,423.15 549.04,423.15 549.64,423.33 550.26,423.04 550.90,423.14 551.57,422.85 552.28,422.93 553.03,422.88 553.82,423.28 554.64,423.42 555.49,423.45 556.37,423.35 557.27,423.45 558.18,423.36 559.11,424.00 560.05,423.85 560.99,424.10 561.93,424.25 562.87,423.81 563.81,423.74 564.73,424.00 565.64,424.72 566.54,424.70 567.41,424.41 568.25,424.87 569.07,424.54 569.85,425.16 570.60,424.49 571.30,425.24 571.97,425.58 572.63,425.13 573.28,425.28 573.91,425.07 574.53,425.33 575.13,425.41 575.72,425.59 576.29,425.49 576.85,425.84 577.40,425.77 577.93,426.32 578.45,426.33 578.95,426.28 579.45,427.12 579.92,426.62 580.39,426.97 580.83,427.46 581.27,427.45 581.69,427.78 582.10,427.54 582.50,427.93 582.88,427.24 583.25,428.02 583.60,427.74 583.94,427.83 584.25,428.39 584.54,428.46 584.81,428.17 585.07,428.29 585.30,428.31 585.52,429.06 585.72,428.84 585.91,428.58 586.09,428.95 586.26,428.57 586.41,428.88 586.56,429.21 586.70,429.78 586.84,429.76 586.97,429.54 587.09,429.86 587.22,429.44 587.34,429.98 587.47,430.38 587.59,429.64 587.73,430.52 587.86,430.68 588.00,430.17 588.14,430.72 588.28,431.00 588.41,430.26 588.53,430.68 588.65,430.91 588.77,431.21 588.88,430.78 588.99,431.36 589.10,431.42 589.20,431.67 589.30,431.65 589.40,431.88 589.50,431.73 589.59,431.78 589.68,431.80 589.77,431.86 589.86,432.03 589.95,432.18 590.04,432.21 590.13,432.09 590.22,432.47 590.32,433.16 590.41,432.66 590.50,433.48 590.59,433.48 590.69,433.26 590.78,433.18 590.87,434.00 590.96,434.24 591.05,433.76 591.13,434.29 591.22,434.55 591.31,434.59 591.39,434.27 591.48,434.56 591.56,435.23 591.65,435.34 591.73,435.56 591.81,435.37 591.89,436.16 591.97,436.26 592.05,436.18 592.12,436.76 592.20,436.42 592.28,436.86 592.35,437.07 592.43,437.74 592.50,437.94 592.57,437.57 592.64,438.25 592.71,438.00 592.78,438.83 592.85,439.09 592.92,439.13 592.98,438.74 593.05,439.27 593.11,439.40 593.18,440.00 593.24,439.80 593.30,440.09 593.36,440.41 593.42,441.45 593.48,441.47 593.54,442.01 593.60,442.38 593.66,442.29 593.72,442.86 593.77,442.74 593.83,443.21 593.89,443.07 593.94,443.64 594.00,443.60 594.06,444.27 594.11,445.07 594.16,445.41 594.22,445.48 594.27,445.10 594.32,446.36 594.37,446.22 594.42,446.69 594.47,446.75 594.52,447.45 594.57,447.32 594.62,447.45 594.67,448.14 594.72,448.21 594.76,448.59 594.81,448.90 594.86,449.75 594.91,450.08 594.96,449.96 595.00,450.78 595.05,450.47 595.10,451.74 595.15,451.38 595.20,452.01 595.25,452.23 595.30,453.07 595.35,453.02 595.40,453.11 595.45,454.17 595.50,454.26 595.55,454.32 595.60,455.14 595.65,455.70 595.70,455.92 595.75,456.35 595.80,456.29 595.85,456.55 595.90,456.75 595.95,457.98 596.00,457.70 596.05,458.21 596.10,459.03 596.15,458.72 596.20,459.92 596.25,459.93 596.30,459.92 596.35,460.93 596.40,461.17 596.45,460.94 596.50,461.74 596.55,462.34 596.60,462.28 596.65,462.73 596.70,463.63 596.74,463.30 596.79,463.79 596.84,464.04 596.89,464.79 596.94,465.13 596.99,465.34 597.04,465.54 597.09,465.95 597.14,466.95 597.19,467.15 597.24,467.75 597.29,467.43 597.34,468.64 597.39,468.75 597.44,469.00 597.49,469.61 597.55,469.22 597.60,470.11 597.65,470.16 597.71,470.24 597.76,471.32 597.82,470.95 597.88,472.01 597.93,471.90 597.99,472.83 598.05,472.39 598.11,473.16 598.16,474.01 598.22,473.91 598.28,474.34 598.34,474.58 598.40,474.99 598.46,475.13 598.52,475.32 598.58,475.68 598.64,476.54 598.70,476.34 598.76,477.02 598.82,477.56 598.88,477.85 598.94,478.06 599.00,478.40 599.06,478.43 599.12,478.59 599.18,478.42 599.24,478.65 599.30,479.13 599.36,479.56 599.42,479.81 599.47,479.57 599.53,480.37 599.59,480.37 599.65,480.64 599.71,480.56 599.77,481.47 599.83,481.71 599.90,481.87 599.96,481.45 600.02,481.56 600.09,482.71 600.15,482.58 600.22,483.12 600.29,482.79 600.36,483.38 600.43,482.91 600.50,483.08 600.57,483.89 600.64,484.08 600.72,483.69 600.79,484.42 600.86,484.90 600.93,483.91 601.00,483.43 601.07,485.00 601.15,484.61 601.22,486.87 601.30,484.74 601.38,485.96 601.45,485.22 601.54,486.01 601.62,485.53 601.70,485.78 601.79,487.51 601.88,487.70 601.98,487.62 602.07,488.80 602.17,488.86 602.28,487.73 602.39,488.96 602.50,488.53 602.61,489.00 602.73,487.58 602.85,489.80 602.97,489.24 603.08,487.68 603.21,487.48 603.33,488.72 603.46,489.74 603.58,488.92 603.72,489.21 603.85,490.49 603.99,489.13 604.13,488.65 604.27,489.95 604.42,489.87 604.58,490.92 604.74,489.42 604.90,491.80 605.07,492.34 605.24,491.78 605.42,491.22 605.61,490.44 605.80,490.10 606.00,492.13 606.19,493.07 606.38,491.31 606.55,493.00 606.71,493.56 606.87,493.28 607.03,492.52 607.18,493.23 607.34,492.23 607.50,492.87 607.67,492.17 607.85,494.05 608.04,492.57 608.25,494.46 608.47,494.27 608.72,492.89 608.98,492.63 609.27,494.52 609.59,493.65 609.93,494.58 610.31,495.47 610.73,493.83 611.18,493.53 611.67,494.93 612.20,495.40 612.78,495.06 613.42,493.57 614.10,494.97 614.83,495.57 615.61,496.53 616.41,494.69 617.26,494.96 618.13,495.13 619.02,496.28 619.94,495.06 620.87,496.59 621.81,495.98 622.76,496.26 623.72,494.78 624.68,497.16 625.63,496.03 626.57,496.02 627.50,495.91 628.42,497.59 629.31,497.66 630.18,497.28 631.02,497.91 631.83,496.13 632.60,498.05 633.35,497.40 634.12,497.53 634.89,497.92 635.66,495.87 636.43,495.47 637.20,495.85 637.97,498.31 638.73,497.05 639.49,495.58 640.23,497.60 640.96,498.08 641.68,496.41 642.37,497.25 643.05,496.54 643.70,497.38 644.33,496.76 644.94,496.90 645.51,497.83 646.05,498.18 646.56,499.00 647.03,496.81 647.46,498.99 647.85,497.15 648.20,497.38" fill="none" stroke="#178a22" stroke-width="1.8" stroke-linejoin="round" stroke-linecap="round" />
<rect x="384.50" y="394.50" width="263.70" height="105.00" fill="none" stroke="#0a0a0a" stroke-width="1.35"/>
<line x1="384.50" y1="464.60" x2="389.00" y2="464.60" stroke="#0a0a0a" stroke-width="1.2" />
<line x1="384.50" y1="429.70" x2="389.00" y2="429.70" stroke="#0a0a0a" stroke-width="1.2" />
<line x1="384.50" y1="492.52" x2="387.00" y2="492.52" stroke="#0a0a0a" stroke-width="1.2" />
<line x1="384.50" y1="485.54" x2="387.00" y2="485.54" stroke="#0a0a0a" stroke-width="1.2" />
<line x1="384.50" y1="478.56" x2="387.00" y2="478.56" stroke="#0a0a0a" stroke-width="1.2" />
<line x1="384.50" y1="471.58" x2="387.00" y2="471.58" stroke="#0a0a0a" stroke-width="1.2" />
<line x1="384.50" y1="457.62" x2="387.00" y2="457.62" stroke="#0a0a0a" stroke-width="1.2" />
<line x1="384.50" y1="450.64" x2="387.00" y2="450.64" stroke="#0a0a0a" stroke-width="1.2" />
<line x1="384.50" y1="443.66" x2="387.00" y2="443.66" stroke="#0a0a0a" stroke-width="1.2" />
<line x1="384.50" y1="436.68" x2="387.00" y2="436.68" stroke="#0a0a0a" stroke-width="1.2" />
<line x1="384.50" y1="422.72" x2="387.00" y2="422.72" stroke="#0a0a0a" stroke-width="1.2" />
<line x1="384.50" y1="415.74" x2="387.00" y2="415.74" stroke="#0a0a0a" stroke-width="1.2" />
<line x1="384.50" y1="408.76" x2="387.00" y2="408.76" stroke="#0a0a0a" stroke-width="1.2" />
<line x1="384.50" y1="401.78" x2="387.00" y2="401.78" stroke="#0a0a0a" stroke-width="1.2" />
<line x1="406.48" y1="499.50" x2="406.48" y2="495.10" stroke="#0a0a0a" stroke-width="1.2" />
<line x1="516.35" y1="499.50" x2="516.35" y2="495.10" stroke="#0a0a0a" stroke-width="1.2" />
<line x1="626.23" y1="499.50" x2="626.23" y2="495.10" stroke="#0a0a0a" stroke-width="1.2" />
<line x1="428.45" y1="499.50" x2="428.45" y2="496.90" stroke="#0a0a0a" stroke-width="1.2" />
<line x1="450.43" y1="499.50" x2="450.43" y2="496.90" stroke="#0a0a0a" stroke-width="1.2" />
<line x1="472.40" y1="499.50" x2="472.40" y2="496.90" stroke="#0a0a0a" stroke-width="1.2" />
<line x1="494.38" y1="499.50" x2="494.38" y2="496.90" stroke="#0a0a0a" stroke-width="1.2" />
<line x1="538.33" y1="499.50" x2="538.33" y2="496.90" stroke="#0a0a0a" stroke-width="1.2" />
<line x1="560.30" y1="499.50" x2="560.30" y2="496.90" stroke="#0a0a0a" stroke-width="1.2" />
<line x1="582.28" y1="499.50" x2="582.28" y2="496.90" stroke="#0a0a0a" stroke-width="1.2" />
<line x1="604.25" y1="499.50" x2="604.25" y2="496.90" stroke="#0a0a0a" stroke-width="1.2" />
<text x="379.40" y="433.80" font-size="10.4" text-anchor="end" font-weight="normal" font-style="normal" fill="#1a1a1a" stroke="#1a1a1a" stroke-width="0.25" >1</text>
<text x="379.40" y="503.60" font-size="10.4" text-anchor="end" font-weight="normal" font-style="normal" fill="#1a1a1a" stroke="#1a1a1a" stroke-width="0.25" >0</text>
<text x="406.48" y="510.50" font-size="10.4" text-anchor="middle" font-weight="normal" font-style="normal" fill="#1a1a1a" stroke="#1a1a1a" stroke-width="0.25" >-5</text>
<text x="516.35" y="510.50" font-size="10.4" text-anchor="middle" font-weight="normal" font-style="normal" fill="#1a1a1a" stroke="#1a1a1a" stroke-width="0.25" >0</text>
<text x="626.23" y="510.50" font-size="10.4" text-anchor="middle" font-weight="normal" font-style="normal" fill="#1a1a1a" stroke="#1a1a1a" stroke-width="0.25" >5</text>
<text x="518.60" y="521.20" font-size="11.6" text-anchor="middle" font-weight="normal" font-style="normal" fill="#1a1a1a" stroke="#1a1a1a" stroke-width="0.25" >Magnetic field (T)</text>
<text transform="translate(367.40,454.20) rotate(-90)" font-size="11.4" text-anchor="middle" fill="#1a1a1a" stroke="#1a1a1a" stroke-width="0.25">Linear Dichroism (x10<tspan font-size="7.8" dy="-5.4">-3</tspan><tspan dy="5.4">)</tspan></text>
<text x="391.00" y="410.50" font-size="11.0" text-anchor="start" font-weight="normal" font-style="normal" fill="#1a1a1a" stroke="#1a1a1a" stroke-width="0.25" ><tspan font-style="italic">T</tspan> = 19K</text>
<text x="409.20" y="484.70" font-size="11.3" text-anchor="middle" font-weight="normal" font-style="italic" fill="#1a1a1a" stroke="#1a1a1a" stroke-width="0.25" >phase II</text>
<text x="518.20" y="484.70" font-size="11.3" text-anchor="middle" font-weight="normal" font-style="italic" fill="#1a1a1a" stroke="#1a1a1a" stroke-width="0.25" >phase I</text>
<text x="625.80" y="484.70" font-size="11.3" text-anchor="middle" font-weight="normal" font-style="italic" fill="#1a1a1a" stroke="#1a1a1a" stroke-width="0.25" >phase II</text>
<line x1="507.00" y1="410.30" x2="526.70" y2="410.30" stroke="#3d8a30" stroke-width="1.3" />
<polygon points="531.50,410.30 525.50,407.50 527.00,410.30 525.50,413.10" fill="#3d8a30" stroke="none" stroke-width="1.0" />
<line x1="530.40" y1="431.40" x2="511.80" y2="431.40" stroke="#f01414" stroke-width="1.3" />
<polygon points="507.00,431.40 513.00,428.60 511.50,431.40 513.00,434.20" fill="#f01414" stroke="none" stroke-width="1.0" />
<rect x="575.9" y="16.5" width="100.3" height="72.3" fill="none" stroke="#888" stroke-width="1.6" stroke-dasharray="5.5,3.2"/>
<line x1="335.00" y1="48.30" x2="597.00" y2="48.30" stroke="#c80000" stroke-width="2.3" />
<polygon points="416.40,48.30 406.10,43.20 406.10,53.40" fill="#c80000" stroke="none" stroke-width="1.0" />
<polygon points="541.20,48.30 530.90,43.20 530.90,53.40" fill="#c80000" stroke="none" stroke-width="1.0" />
<line x1="597.00" y1="48.20" x2="500.00" y2="63.70" stroke="#c80000" stroke-width="2.0" />
<polygon points="491.30,65.10 501.44,58.82 502.89,67.91" fill="#c80000" stroke="none" stroke-width="1.0" />
<rect x="424.3" y="26.3" width="13.5" height="45.1" fill="none" stroke="#0a14d8" stroke-width="2.1"/>
<path d="M490.1,55.7 L472.6,59.6 Q469.8,69 476.7,78.3 L494.2,74.8" fill="none" stroke="#111" stroke-width="1.0"/>
<ellipse cx="492.2" cy="65.2" rx="2.9" ry="9.8" transform="rotate(-12 492.2 65.2)" fill="none" stroke="#111" stroke-width="1.0"/>
<polygon points="595.70,32.40 601.80,31.70 605.00,63.40 598.60,64.30" fill="#4a8fdc" stroke="#1b2a3a" stroke-width="1.2" />
<polygon points="607.90,48.20 623.70,32.40 623.70,41.20 651.70,41.20 651.70,32.40 667.50,48.20 651.70,64.30 651.70,55.90 623.70,55.90 623.70,64.30" fill="#fff" stroke="#14324a" stroke-width="1.9" stroke-linejoin="miter"/>
<text x="616.80" y="52.90" font-size="11.6" text-anchor="start" font-weight="normal" font-style="normal" fill="#1a1a1a" stroke="#1a1a1a" stroke-width="0.25" ><tspan font-style="italic">H</tspan>=0-7 T</text>
<text x="600.00" y="83.20" font-size="11.6" text-anchor="start" font-weight="normal" font-style="normal" fill="#1a1a1a" stroke="#1a1a1a" stroke-width="0.25" ><tspan font-style="italic">T</tspan> = 2-300 K</text>
<text x="367.50" y="44.50" font-size="11.2" text-anchor="middle" font-weight="normal" font-style="normal" fill="#1a1a1a" stroke="#1a1a1a" stroke-width="0.25" >wavelength-</text>
<text x="367.50" y="57.40" font-size="11.2" text-anchor="middle" font-weight="normal" font-style="normal" fill="#1a1a1a" stroke="#1a1a1a" stroke-width="0.25" >tunable light</text>
<text x="429.00" y="82.00" font-size="11.0" text-anchor="middle" font-weight="normal" font-style="normal" fill="#1a1a1a" stroke="#1a1a1a" stroke-width="0.25" >polarization</text>
<text x="429.50" y="95.30" font-size="11.0" text-anchor="middle" font-weight="normal" font-style="normal" fill="#1a1a1a" stroke="#1a1a1a" stroke-width="0.25" >modulator</text>
<text x="485.40" y="87.00" font-size="11.0" text-anchor="start" font-weight="normal" font-style="normal" fill="#1a1a1a" stroke="#1a1a1a" stroke-width="0.25" >photodetector</text>
<text x="493.60" y="28.40" font-size="11.2" text-anchor="start" font-weight="normal" font-style="italic" fill="#1a1a1a" stroke="#1a1a1a" stroke-width="0.25" >or</text>
<path d="M453.18,19.51 A7.0,7.0 0 1 0 462.56,27.81" fill="none" stroke="#0a14d8" stroke-width="1.7"/>
<polygon points="458.90,18.60 452.20,15.60 453.20,21.60" fill="#0a14d8" stroke="none" stroke-width="1.0" />
<path d="M481.12,19.51 A7.0,7.0 0 1 1 471.74,27.81" fill="none" stroke="#0a14d8" stroke-width="1.7"/>
<polygon points="475.60,18.60 482.30,15.60 481.30,21.60" fill="#0a14d8" stroke="none" stroke-width="1.0" />
<line x1="464.00" y1="36.30" x2="471.80" y2="11.10" stroke="#0a14d8" stroke-width="1.0" />
<line x1="513.40" y1="17.50" x2="513.40" y2="30.50" stroke="#0a14d8" stroke-width="1.7" />
<polygon points="513.40,13.20 510.30,19.60 516.50,19.60" fill="#0a14d8" stroke="none" stroke-width="1.0" />
<polygon points="513.40,34.80 510.30,28.40 516.50,28.40" fill="#0a14d8" stroke="none" stroke-width="1.0" />
<line x1="516.10" y1="37.90" x2="523.90" y2="11.40" stroke="#0a14d8" stroke-width="1.0" />
<line x1="527.50" y1="23.70" x2="540.00" y2="23.70" stroke="#0a14d8" stroke-width="1.7" />
<polygon points="523.10,23.70 528.60,20.80 528.60,26.60" fill="#0a14d8" stroke="none" stroke-width="1.0" />
<polygon points="544.30,23.70 538.80,20.80 538.80,26.60" fill="#0a14d8" stroke="none" stroke-width="1.0" />
<filter id="tex" x="0" y="0" width="1" height="1" color-interpolation-filters="sRGB"><feTurbulence type="fractalNoise" baseFrequency="0.55" numOctaves="2" seed="4"/><feColorMatrix type="matrix" values="0.5 0 0 0 0.52  0.55 0 0 0 0.25  0.5 0 0 0 0.06  0 0 0 0 1"/></filter>
<clipPath id="ph"><rect x="15.0" y="12.0" width="53.2" height="68.7"/></clipPath>
<g clip-path="url(#ph)">
<rect x="15.0" y="12.0" width="53.2" height="68.7" fill="#c08450"/>
<rect x="15.0" y="12.0" width="53.2" height="68.7" filter="url(#tex)"/>
<polygon points="15.00,29.00 42.30,15.40 44.30,15.70 68.30,31.00 68.30,68.00 57.50,68.40 20.80,76.30 15.00,77.50" fill="#161a1c" stroke="none" stroke-width="1.0" />
<polygon points="59.50,67.50 63.00,50.00 68.30,33.00 68.30,68.00" fill="#262d31" stroke="none" stroke-width="1.0" />
<polygon points="60.50,65.00 63.80,50.00 65.50,47.00 62.50,63.00" fill="#3c464c" stroke="none" stroke-width="1.0" />
<line x1="58.00" y1="67.20" x2="68.30" y2="66.60" stroke="#8f9aa0" stroke-width="1.0" />
<polygon points="15.00,68.50 17.50,70.00 20.80,76.50 22.50,80.70 15.00,80.70" fill="#e6e4e0" stroke="none" stroke-width="1.0" />
</g>
<text x="18.70" y="61.80" font-size="10.0" text-anchor="start" font-weight="bold" font-style="normal" fill="#fff" stroke="#fff" stroke-width="0.25" >2 mm</text>
<rect x="20.8" y="64.0" width="20.1" height="4.0" fill="#fff"/>
<polygon points="104.00,34.50 122.00,33.50 125.00,42.00 121.00,50.00 112.00,49.50 104.50,45.00" fill="#c4a84a" stroke="none" stroke-width="1.0" fill-opacity="0.45"/>
<polygon points="169.00,33.00 194.20,31.50 195.00,60.00 184.00,63.00 176.00,52.00 170.00,42.00" fill="#c4a84a" stroke="none" stroke-width="1.0" fill-opacity="0.4"/>
<polygon points="125.00,43.00 140.00,44.00 152.00,45.00 156.00,50.00 140.00,51.00 126.00,50.00" fill="#c4a84a" stroke="none" stroke-width="1.0" fill-opacity="0.25"/>
<polygon points="98.10,21.50 108.60,7.90 111.50,6.00 111.50,21.00 104.40,27.20 103.90,34.60 98.10,30.50" fill="#c4a84a" stroke="#a99a40" stroke-width="0.5" fill-opacity="0.48" stroke-opacity="0.7"/>
<polygon points="100.50,24.00 110.00,11.00 112.00,10.00 112.00,23.00 106.00,28.00 105.50,33.00 100.50,31.00" fill="#c4a84a" stroke="#a99a40" stroke-width="0.5" fill-opacity="0.28" stroke-opacity="0.7"/>
<polygon points="111.50,5.30 124.20,5.80 124.20,21.00 111.50,21.30" fill="#c4a84a" stroke="#a99a40" stroke-width="0.5" fill-opacity="0.44" stroke-opacity="0.7"/>
<polygon points="114.00,7.30 125.00,7.80 125.00,19.50 114.00,19.80" fill="#c4a84a" stroke="#a99a40" stroke-width="0.5" fill-opacity="0.28" stroke-opacity="0.7"/>
<polygon points="124.20,4.80 136.90,5.30 136.90,20.70 124.20,21.00" fill="#c4a84a" stroke="#a99a40" stroke-width="0.5" fill-opacity="0.44" stroke-opacity="0.7"/>
<polygon points="126.70,6.80 137.70,7.30 137.70,19.20 126.70,19.50" fill="#c4a84a" stroke="#a99a40" stroke-width="0.5" fill-opacity="0.28" stroke-opacity="0.7"/>
<polygon points="136.90,4.75 149.60,5.25 149.60,20.40 136.90,20.70" fill="#c4a84a" stroke="#a99a40" stroke-width="0.5" fill-opacity="0.44" stroke-opacity="0.7"/>
<polygon points="139.40,6.75 150.40,7.25 150.40,18.90 139.40,19.20" fill="#c4a84a" stroke="#a99a40" stroke-width="0.5" fill-opacity="0.28" stroke-opacity="0.7"/>
<polygon points="149.60,5.22 162.30,5.72 162.30,20.10 149.60,20.40" fill="#c4a84a" stroke="#a99a40" stroke-width="0.5" fill-opacity="0.44" stroke-opacity="0.7"/>
<polygon points="152.10,7.22 163.10,7.72 163.10,18.60 152.10,18.90" fill="#c4a84a" stroke="#a99a40" stroke-width="0.5" fill-opacity="0.28" stroke-opacity="0.7"/>
<polygon points="162.30,5.75 175.00,6.25 175.00,19.80 162.30,20.10" fill="#c4a84a" stroke="#a99a40" stroke-width="0.5" fill-opacity="0.44" stroke-opacity="0.7"/>
<polygon points="164.80,7.75 175.80,8.25 175.80,18.30 164.80,18.60" fill="#c4a84a" stroke="#a99a40" stroke-width="0.5" fill-opacity="0.28" stroke-opacity="0.7"/>
<polygon points="175.00,5.88 187.70,6.38 187.70,19.50 175.00,19.80" fill="#c4a84a" stroke="#a99a40" stroke-width="0.5" fill-opacity="0.44" stroke-opacity="0.7"/>
<polygon points="177.50,7.88 188.50,8.38 188.50,18.00 177.50,18.30" fill="#c4a84a" stroke="#a99a40" stroke-width="0.5" fill-opacity="0.28" stroke-opacity="0.7"/>
<polygon points="176.00,6.00 188.00,6.00 189.00,21.00 177.50,22.50" fill="#c4a84a" stroke="#a99a40" stroke-width="0.5" fill-opacity="0.40" stroke-opacity="0.7"/>
<polygon points="178.00,10.00 191.50,12.00 194.50,17.00 194.20,30.40 180.60,30.40 179.60,25.10 177.50,22.50" fill="#c4a84a" stroke="#a99a40" stroke-width="0.5" fill-opacity="0.44" stroke-opacity="0.7"/>
<polygon points="181.00,14.00 193.00,15.00 193.00,28.00 181.50,28.00" fill="#c4a84a" stroke="#a99a40" stroke-width="0.5" fill-opacity="0.28" stroke-opacity="0.7"/>
<polygon points="172.00,32.00 186.00,32.00 189.00,45.00 176.00,46.00" fill="#c4a84a" stroke="#a99a40" stroke-width="0.5" fill-opacity="0.40" stroke-opacity="0.7"/>
<polygon points="178.00,40.00 190.00,41.00 192.00,55.00 180.00,56.00" fill="#c4a84a" stroke="#a99a40" stroke-width="0.5" fill-opacity="0.40" stroke-opacity="0.7"/>
<polygon points="108.00,33.00 121.00,32.50 122.00,38.00 108.50,39.00" fill="#c4a84a" stroke="#a99a40" stroke-width="0.5" fill-opacity="0.40" stroke-opacity="0.7"/>
<polygon points="111.00,59.50 123.60,57.50 123.60,67.50 111.00,69.50" fill="#c4a84a" stroke="#a99a40" stroke-width="0.5" fill-opacity="0.40" stroke-opacity="0.7"/>
<polygon points="112.00,68.50 123.00,60.50 123.00,67.30" fill="#fff" stroke="none" stroke-width="1.0" fill-opacity="0.18"/>
<polygon points="123.60,59.00 136.20,57.00 136.20,67.00 123.60,69.00" fill="#c4a84a" stroke="#a99a40" stroke-width="0.5" fill-opacity="0.40" stroke-opacity="0.7"/>
<polygon points="124.60,68.00 135.60,60.00 135.60,66.80" fill="#fff" stroke="none" stroke-width="1.0" fill-opacity="0.18"/>
<polygon points="136.20,58.50 148.80,56.50 148.80,66.50 136.20,68.50" fill="#c4a84a" stroke="#a99a40" stroke-width="0.5" fill-opacity="0.40" stroke-opacity="0.7"/>
<polygon points="137.20,67.50 148.20,59.50 148.20,66.30" fill="#fff" stroke="none" stroke-width="1.0" fill-opacity="0.18"/>
<polygon points="148.80,58.00 161.40,56.00 161.40,66.00 148.80,68.00" fill="#c4a84a" stroke="#a99a40" stroke-width="0.5" fill-opacity="0.40" stroke-opacity="0.7"/>
<polygon points="149.80,67.00 160.80,59.00 160.80,65.80" fill="#fff" stroke="none" stroke-width="1.0" fill-opacity="0.18"/>
<polygon points="161.40,57.50 174.00,55.50 174.00,65.50 161.40,67.50" fill="#c4a84a" stroke="#a99a40" stroke-width="0.5" fill-opacity="0.40" stroke-opacity="0.7"/>
<polygon points="162.40,66.50 173.40,58.50 173.40,65.30" fill="#fff" stroke="none" stroke-width="1.0" fill-opacity="0.18"/>
<polygon points="174.00,57.00 186.60,55.00 186.60,65.00 174.00,67.00" fill="#c4a84a" stroke="#a99a40" stroke-width="0.5" fill-opacity="0.40" stroke-opacity="0.7"/>
<polygon points="175.00,66.00 186.00,58.00 186.00,64.80" fill="#fff" stroke="none" stroke-width="1.0" fill-opacity="0.18"/>
<polygon points="108.40,69.10 121.00,67.10 121.00,77.10 108.40,79.10" fill="#c4a84a" stroke="#a99a40" stroke-width="0.5" fill-opacity="0.40" stroke-opacity="0.7"/>
<polygon points="109.40,78.10 120.40,70.10 120.40,76.90" fill="#fff" stroke="none" stroke-width="1.0" fill-opacity="0.18"/>
<polygon points="121.00,68.60 133.60,66.60 133.60,76.60 121.00,78.60" fill="#c4a84a" stroke="#a99a40" stroke-width="0.5" fill-opacity="0.40" stroke-opacity="0.7"/>
<polygon points="122.00,77.60 133.00,69.60 133.00,76.40" fill="#fff" stroke="none" stroke-width="1.0" fill-opacity="0.18"/>
<polygon points="133.60,68.10 146.20,66.10 146.20,76.10 133.60,78.10" fill="#c4a84a" stroke="#a99a40" stroke-width="0.5" fill-opacity="0.40" stroke-opacity="0.7"/>
<polygon points="134.60,77.10 145.60,69.10 145.60,75.90" fill="#fff" stroke="none" stroke-width="1.0" fill-opacity="0.18"/>
<polygon points="146.20,67.60 158.80,65.60 158.80,75.60 146.20,77.60" fill="#c4a84a" stroke="#a99a40" stroke-width="0.5" fill-opacity="0.40" stroke-opacity="0.7"/>
<polygon points="147.20,76.60 158.20,68.60 158.20,75.40" fill="#fff" stroke="none" stroke-width="1.0" fill-opacity="0.18"/>
<polygon points="158.80,67.10 171.40,65.10 171.40,75.10 158.80,77.10" fill="#c4a84a" stroke="#a99a40" stroke-width="0.5" fill-opacity="0.40" stroke-opacity="0.7"/>
<polygon points="159.80,76.10 170.80,68.10 170.80,74.90" fill="#fff" stroke="none" stroke-width="1.0" fill-opacity="0.18"/>
<polygon points="171.40,66.60 184.00,64.60 184.00,74.60 171.40,76.60" fill="#c4a84a" stroke="#a99a40" stroke-width="0.5" fill-opacity="0.40" stroke-opacity="0.7"/>
<polygon points="172.40,75.60 183.40,67.60 183.40,74.40" fill="#fff" stroke="none" stroke-width="1.0" fill-opacity="0.18"/>
<polygon points="184.00,66.10 196.60,64.10 196.60,74.10 184.00,76.10" fill="#c4a84a" stroke="#a99a40" stroke-width="0.5" fill-opacity="0.40" stroke-opacity="0.7"/>
<polygon points="185.00,75.10 196.00,67.10 196.00,73.90" fill="#fff" stroke="none" stroke-width="1.0" fill-opacity="0.18"/>
<polygon points="105.80,78.70 118.40,76.70 118.40,86.70 105.80,88.70" fill="#c4a84a" stroke="#a99a40" stroke-width="0.5" fill-opacity="0.40" stroke-opacity="0.7"/>
<polygon points="106.80,87.70 117.80,79.70 117.80,86.50" fill="#fff" stroke="none" stroke-width="1.0" fill-opacity="0.18"/>
<polygon points="118.40,78.20 131.00,76.20 131.00,86.20 118.40,88.20" fill="#c4a84a" stroke="#a99a40" stroke-width="0.5" fill-opacity="0.40" stroke-opacity="0.7"/>
<polygon points="119.40,87.20 130.40,79.20 130.40,86.00" fill="#fff" stroke="none" stroke-width="1.0" fill-opacity="0.18"/>
<polygon points="131.00,77.70 143.60,75.70 143.60,85.70 131.00,87.70" fill="#c4a84a" stroke="#a99a40" stroke-width="0.5" fill-opacity="0.40" stroke-opacity="0.7"/>
<polygon points="132.00,86.70 143.00,78.70 143.00,85.50" fill="#fff" stroke="none" stroke-width="1.0" fill-opacity="0.18"/>
<polygon points="143.60,77.20 156.20,75.20 156.20,85.20 143.60,87.20" fill="#c4a84a" stroke="#a99a40" stroke-width="0.5" fill-opacity="0.40" stroke-opacity="0.7"/>
<polygon points="144.60,86.20 155.60,78.20 155.60,85.00" fill="#fff" stroke="none" stroke-width="1.0" fill-opacity="0.18"/>
<polygon points="156.20,76.70 168.80,74.70 168.80,84.70 156.20,86.70" fill="#c4a84a" stroke="#a99a40" stroke-width="0.5" fill-opacity="0.40" stroke-opacity="0.7"/>
<polygon points="157.20,85.70 168.20,77.70 168.20,84.50" fill="#fff" stroke="none" stroke-width="1.0" fill-opacity="0.18"/>
<polygon points="168.80,76.20 181.40,74.20 181.40,84.20 168.80,86.20" fill="#c4a84a" stroke="#a99a40" stroke-width="0.5" fill-opacity="0.40" stroke-opacity="0.7"/>
<polygon points="169.80,85.20 180.80,77.20 180.80,84.00" fill="#fff" stroke="none" stroke-width="1.0" fill-opacity="0.18"/>
<polygon points="181.40,75.70 194.00,73.70 194.00,83.70 181.40,85.70" fill="#c4a84a" stroke="#a99a40" stroke-width="0.5" fill-opacity="0.40" stroke-opacity="0.7"/>
<polygon points="182.40,84.70 193.40,76.70 193.40,83.50" fill="#fff" stroke="none" stroke-width="1.0" fill-opacity="0.18"/>
<polygon points="103.20,88.30 115.80,86.30 115.80,96.30 103.20,98.30" fill="#c4a84a" stroke="#a99a40" stroke-width="0.5" fill-opacity="0.40" stroke-opacity="0.7"/>
<polygon points="104.20,97.30 115.20,89.30 115.20,96.10" fill="#fff" stroke="none" stroke-width="1.0" fill-opacity="0.18"/>
<polygon points="115.80,87.80 128.40,85.80 128.40,97.30 115.80,99.30" fill="#c4a84a" stroke="#a99a40" stroke-width="0.5" fill-opacity="0.40" stroke-opacity="0.7"/>
<polygon points="116.80,98.30 127.80,88.80 127.80,97.10" fill="#fff" stroke="none" stroke-width="1.0" fill-opacity="0.18"/>
<polygon points="128.40,87.30 141.00,85.30 141.00,95.30 128.40,97.30" fill="#c4a84a" stroke="#a99a40" stroke-width="0.5" fill-opacity="0.40" stroke-opacity="0.7"/>
<polygon points="129.40,96.30 140.40,88.30 140.40,95.10" fill="#fff" stroke="none" stroke-width="1.0" fill-opacity="0.18"/>
<polygon points="141.00,86.80 153.60,84.80 153.60,96.30 141.00,98.30" fill="#c4a84a" stroke="#a99a40" stroke-width="0.5" fill-opacity="0.40" stroke-opacity="0.7"/>
<polygon points="142.00,97.30 153.00,87.80 153.00,96.10" fill="#fff" stroke="none" stroke-width="1.0" fill-opacity="0.18"/>
<polygon points="153.60,86.30 166.20,84.30 166.20,94.30 153.60,96.30" fill="#c4a84a" stroke="#a99a40" stroke-width="0.5" fill-opacity="0.40" stroke-opacity="0.7"/>
<polygon points="154.60,95.30 165.60,87.30 165.60,94.10" fill="#fff" stroke="none" stroke-width="1.0" fill-opacity="0.18"/>
<polygon points="166.20,85.80 178.80,83.80 178.80,95.30 166.20,97.30" fill="#c4a84a" stroke="#a99a40" stroke-width="0.5" fill-opacity="0.40" stroke-opacity="0.7"/>
<polygon points="167.20,96.30 178.20,86.80 178.20,95.10" fill="#fff" stroke="none" stroke-width="1.0" fill-opacity="0.18"/>
<polygon points="178.80,85.30 191.40,83.30 191.40,93.30 178.80,95.30" fill="#c4a84a" stroke="#a99a40" stroke-width="0.5" fill-opacity="0.40" stroke-opacity="0.7"/>
<polygon points="179.80,94.30 190.80,86.30 190.80,93.10" fill="#fff" stroke="none" stroke-width="1.0" fill-opacity="0.18"/>
<polygon points="183.00,50.00 191.00,55.00 192.00,62.00 190.60,87.70 183.00,90.00" fill="#c4a84a" stroke="#a99a40" stroke-width="0.5" fill-opacity="0.32" stroke-opacity="0.7"/>
<circle cx="116" cy="9" r="1.0" fill="#a08a5a" opacity="0.8"/>
<circle cx="118" cy="14" r="1.0" fill="#a08a5a" opacity="0.8"/>
<circle cx="129" cy="8" r="1.0" fill="#a08a5a" opacity="0.8"/>
<circle cx="129" cy="13" r="1.0" fill="#a08a5a" opacity="0.8"/>
<circle cx="141" cy="8" r="1.0" fill="#a08a5a" opacity="0.8"/>
<circle cx="141" cy="13" r="1.0" fill="#a08a5a" opacity="0.8"/>
<circle cx="153" cy="11" r="1.0" fill="#a08a5a" opacity="0.8"/>
<circle cx="153" cy="15" r="1.0" fill="#a08a5a" opacity="0.8"/>
<circle cx="165" cy="10" r="1.0" fill="#a08a5a" opacity="0.8"/>
<circle cx="180" cy="14" r="1.0" fill="#a08a5a" opacity="0.8"/>
<circle cx="184" cy="22" r="1.0" fill="#a08a5a" opacity="0.8"/>
<circle cx="117" cy="66" r="1.0" fill="#a08a5a" opacity="0.8"/>
<circle cx="117" cy="77" r="1.0" fill="#a08a5a" opacity="0.8"/>
<circle cx="130" cy="64" r="1.0" fill="#a08a5a" opacity="0.8"/>
<circle cx="131" cy="78" r="1.0" fill="#a08a5a" opacity="0.8"/>
<circle cx="156" cy="76" r="1.0" fill="#a08a5a" opacity="0.8"/>
<circle cx="166" cy="84" r="1.0" fill="#a08a5a" opacity="0.8"/>
<circle cx="178" cy="80" r="1.0" fill="#a08a5a" opacity="0.8"/>
<circle cx="146" cy="86" r="1.0" fill="#a08a5a" opacity="0.8"/>
<circle cx="121" cy="85" r="1.0" fill="#a08a5a" opacity="0.8"/>
<circle cx="183" cy="62" r="1.0" fill="#a08a5a" opacity="0.8"/>
<circle cx="142" cy="70" r="1.0" fill="#a08a5a" opacity="0.8"/>
<circle cx="123.8" cy="91.4" r="1.2" fill="#8a8a8a"/>
<circle cx="153.4" cy="91.9" r="1.2" fill="#8a8a8a"/>
<circle cx="182.7" cy="91.9" r="1.2" fill="#8a8a8a"/>
<circle cx="187.1" cy="19.8" r="1.2" fill="#8a8a8a"/>
<line x1="123.70" y1="39.40" x2="126.30" y2="62.30" stroke="#2b9c8e" stroke-width="1.7" />
<line x1="123.70" y1="39.40" x2="138.40" y2="73.20" stroke="#2b9c8e" stroke-width="1.7" />
<line x1="112.70" y1="31.20" x2="126.30" y2="62.30" stroke="#2b9c8e" stroke-width="1.7" />
<line x1="140.10" y1="31.60" x2="138.40" y2="73.20" stroke="#2b9c8e" stroke-width="1.7" />
<line x1="140.10" y1="31.60" x2="153.20" y2="62.30" stroke="#2b9c8e" stroke-width="1.7" />
<line x1="153.20" y1="39.40" x2="153.20" y2="62.30" stroke="#2b9c8e" stroke-width="1.7" />
<line x1="153.20" y1="39.40" x2="168.00" y2="73.20" stroke="#2b9c8e" stroke-width="1.7" />
<line x1="167.30" y1="31.60" x2="180.10" y2="62.70" stroke="#2b9c8e" stroke-width="1.7" />
<line x1="167.30" y1="31.60" x2="153.20" y2="62.30" stroke="#2b9c8e" stroke-width="1.7" />
<line x1="153.20" y1="39.40" x2="138.40" y2="73.20" stroke="#2b9c8e" stroke-width="1.7" />
<line x1="140.10" y1="31.60" x2="126.30" y2="62.30" stroke="#2b9c8e" stroke-width="1.7" />
<line x1="167.30" y1="31.60" x2="168.00" y2="73.20" stroke="#2b9c8e" stroke-width="1.7" />
<line x1="153.20" y1="25.00" x2="141.00" y2="53.10" stroke="#2b9c8e" stroke-width="1.7" />
<line x1="128.60" y1="24.60" x2="141.00" y2="53.10" stroke="#2b9c8e" stroke-width="1.7" />
<line x1="153.20" y1="25.00" x2="165.70" y2="53.50" stroke="#2b9c8e" stroke-width="1.7" />
<line x1="112.70" y1="31.20" x2="128.60" y2="24.60" stroke="#0e4a3c" stroke-width="1.8" />
<line x1="128.60" y1="24.60" x2="153.20" y2="25.00" stroke="#0e4a3c" stroke-width="1.8" />
<line x1="112.70" y1="31.20" x2="140.10" y2="31.60" stroke="#0e4a3c" stroke-width="1.8" />
<line x1="140.10" y1="31.60" x2="167.30" y2="31.60" stroke="#0e4a3c" stroke-width="1.8" />
<line x1="128.60" y1="24.60" x2="140.10" y2="31.60" stroke="#0e4a3c" stroke-width="1.8" />
<line x1="153.20" y1="25.00" x2="140.10" y2="31.60" stroke="#0e4a3c" stroke-width="1.8" />
<line x1="153.20" y1="25.00" x2="167.30" y2="31.60" stroke="#0e4a3c" stroke-width="1.8" />
<line x1="112.70" y1="31.20" x2="123.70" y2="39.40" stroke="#0e4a3c" stroke-width="1.8" />
<line x1="123.70" y1="39.40" x2="140.10" y2="31.60" stroke="#0e4a3c" stroke-width="1.8" />
<line x1="140.10" y1="31.60" x2="153.20" y2="39.40" stroke="#0e4a3c" stroke-width="1.8" />
<line x1="123.70" y1="39.40" x2="153.20" y2="39.40" stroke="#0e4a3c" stroke-width="1.8" />
<line x1="153.20" y1="39.40" x2="167.30" y2="31.60" stroke="#0e4a3c" stroke-width="1.8" />
<line x1="141.00" y1="53.10" x2="165.70" y2="53.50" stroke="#0e4a3c" stroke-width="1.8" />
<line x1="126.30" y1="62.30" x2="153.20" y2="62.30" stroke="#0e4a3c" stroke-width="1.8" />
<line x1="153.20" y1="62.30" x2="180.10" y2="62.70" stroke="#0e4a3c" stroke-width="1.8" />
<line x1="141.00" y1="53.10" x2="126.30" y2="62.30" stroke="#0e4a3c" stroke-width="1.8" />
<line x1="141.00" y1="53.10" x2="153.20" y2="62.30" stroke="#0e4a3c" stroke-width="1.8" />
<line x1="165.70" y1="53.50" x2="153.20" y2="62.30" stroke="#0e4a3c" stroke-width="1.8" />
<line x1="165.70" y1="53.50" x2="180.10" y2="62.70" stroke="#0e4a3c" stroke-width="1.8" />
<line x1="126.30" y1="62.30" x2="138.40" y2="73.20" stroke="#0e4a3c" stroke-width="1.8" />
<line x1="138.40" y1="73.20" x2="153.20" y2="62.30" stroke="#0e4a3c" stroke-width="1.8" />
<line x1="153.20" y1="62.30" x2="168.00" y2="73.20" stroke="#0e4a3c" stroke-width="1.8" />
<line x1="168.00" y1="73.20" x2="180.10" y2="62.70" stroke="#0e4a3c" stroke-width="1.8" />
<line x1="138.40" y1="73.20" x2="168.00" y2="73.20" stroke="#0e4a3c" stroke-width="1.8" />
<circle cx="112.7" cy="31.2" r="3.1" fill="#1630aa"/>
<circle cx="128.6" cy="24.6" r="2.6" fill="#1630aa"/>
<circle cx="153.2" cy="25.0" r="2.6" fill="#1630aa"/>
<circle cx="140.1" cy="31.6" r="3.1" fill="#1630aa"/>
<circle cx="167.3" cy="31.6" r="3.1" fill="#1630aa"/>
<circle cx="123.7" cy="39.4" r="3.1" fill="#1630aa"/>
<circle cx="153.2" cy="39.4" r="3.1" fill="#1630aa"/>
<circle cx="141.0" cy="53.1" r="2.3" fill="#1630aa"/>
<circle cx="165.7" cy="53.5" r="2.3" fill="#1630aa"/>
<circle cx="126.3" cy="62.3" r="3.1" fill="#1630aa"/>
<circle cx="153.2" cy="62.3" r="3.1" fill="#1630aa"/>
<circle cx="180.1" cy="62.7" r="3.1" fill="#1630aa"/>
<circle cx="138.4" cy="73.2" r="3.1" fill="#1630aa"/>
<circle cx="168.0" cy="73.2" r="3.1" fill="#1630aa"/>
<text x="109.80" y="25.00" font-size="11.5" text-anchor="start" font-weight="bold" font-style="italic" fill="#111" stroke="#111" stroke-width="0.25" >J</text>
<text x="117.40" y="28.00" font-size="8.0" text-anchor="start" font-weight="bold" font-style="italic" fill="#111" stroke="#111" stroke-width="0.25" >1</text>
<text x="105.60" y="52.90" font-size="10.5" text-anchor="start" font-weight="bold" font-style="italic" fill="#2d7a45" stroke="#2d7a45" stroke-width="0.25" >J</text>
<text x="111.80" y="55.50" font-size="7.5" text-anchor="start" font-weight="bold" font-style="italic" fill="#2d7a45" stroke="#2d7a45" stroke-width="0.25" >c1</text>
<line x1="93.90" y1="102.40" x2="93.90" y2="84.00" stroke="#111" stroke-width="1.5" />
<polygon points="93.90,79.30 91.10,85.00 96.70,85.00" fill="#111" stroke="none" stroke-width="1.0" />
<line x1="93.20" y1="102.40" x2="111.00" y2="102.40" stroke="#111" stroke-width="1.5" />
<polygon points="116.00,102.40 110.30,99.60 110.30,105.20" fill="#111" stroke="none" stroke-width="1.0" />
<text x="85.60" y="82.40" font-size="10.5" text-anchor="start" font-weight="normal" font-style="italic" fill="#1a1a1a" stroke="#1a1a1a" stroke-width="0.25" >c</text>
<text x="118.30" y="105.50" font-size="10.5" text-anchor="start" font-weight="normal" font-style="italic" fill="#1a1a1a" stroke="#1a1a1a" stroke-width="0.25" >a</text>
<line x1="254.70" y1="19.90" x2="295.00" y2="19.90" stroke="#a9c9ec" stroke-width="0.9" stroke-dasharray="2.2,1.6"/>
<line x1="295.00" y1="19.90" x2="315.20" y2="54.90" stroke="#a9c9ec" stroke-width="0.9" stroke-dasharray="2.2,1.6"/>
<line x1="315.20" y1="54.90" x2="295.00" y2="90.00" stroke="#a9c9ec" stroke-width="0.9" stroke-dasharray="2.2,1.6"/>
<line x1="295.00" y1="90.00" x2="254.80" y2="90.00" stroke="#a9c9ec" stroke-width="0.9" stroke-dasharray="2.2,1.6"/>
<line x1="254.80" y1="90.00" x2="234.60" y2="54.90" stroke="#a9c9ec" stroke-width="0.9" stroke-dasharray="2.2,1.6"/>
<line x1="234.60" y1="54.90" x2="254.70" y2="19.90" stroke="#a9c9ec" stroke-width="0.9" stroke-dasharray="2.2,1.6"/>
<line x1="254.70" y1="19.90" x2="295.00" y2="90.00" stroke="#a9c9ec" stroke-width="0.9" stroke-dasharray="2.2,1.6"/>
<line x1="295.00" y1="19.90" x2="254.80" y2="90.00" stroke="#a9c9ec" stroke-width="0.9" stroke-dasharray="2.2,1.6"/>
<line x1="234.60" y1="54.90" x2="315.20" y2="54.90" stroke="#a9c9ec" stroke-width="0.9" stroke-dasharray="2.2,1.6"/>
<circle cx="254.70" cy="19.90" r="3.1" fill="#a6c8ea"/>
<circle cx="295.00" cy="19.90" r="3.1" fill="#a6c8ea"/>
<circle cx="234.60" cy="54.90" r="3.1" fill="#a6c8ea"/>
<circle cx="274.70" cy="54.90" r="3.1" fill="#a6c8ea"/>
<circle cx="315.20" cy="54.90" r="3.1" fill="#a6c8ea"/>
<circle cx="254.80" cy="90.00" r="3.1" fill="#a6c8ea"/>
<circle cx="295.00" cy="90.00" r="3.1" fill="#a6c8ea"/>
<line x1="234.50" y1="8.10" x2="274.80" y2="8.10" stroke="#3a3ae6" stroke-width="1.3" />
<line x1="274.80" y1="8.10" x2="295.00" y2="43.10" stroke="#3a3ae6" stroke-width="1.3" />
<line x1="295.00" y1="43.10" x2="274.80" y2="78.20" stroke="#3a3ae6" stroke-width="1.3" />
<line x1="274.80" y1="78.20" x2="234.60" y2="78.20" stroke="#3a3ae6" stroke-width="1.3" />
<line x1="234.60" y1="78.20" x2="214.40" y2="43.10" stroke="#3a3ae6" stroke-width="1.3" />
<line x1="214.40" y1="43.10" x2="234.50" y2="8.10" stroke="#3a3ae6" stroke-width="1.3" />
<line x1="234.50" y1="8.10" x2="274.80" y2="78.20" stroke="#3a3ae6" stroke-width="1.3" />
<line x1="274.80" y1="8.10" x2="234.60" y2="78.20" stroke="#3a3ae6" stroke-width="1.3" />
<line x1="214.40" y1="43.10" x2="295.00" y2="43.10" stroke="#3a3ae6" stroke-width="1.3" />
<circle cx="234.50" cy="8.10" r="3.4" fill="#0a0ad0"/>
<circle cx="274.80" cy="8.10" r="3.4" fill="#0a0ad0"/>
<circle cx="214.40" cy="43.10" r="3.4" fill="#0a0ad0"/>
<circle cx="254.50" cy="43.10" r="3.4" fill="#0a0ad0"/>
<circle cx="295.00" cy="43.10" r="3.4" fill="#0a0ad0"/>
<circle cx="234.60" cy="78.20" r="3.4" fill="#0a0ad0"/>
<circle cx="274.80" cy="78.20" r="3.4" fill="#0a0ad0"/>
<text x="213.00" y="14.80" font-size="10.6" text-anchor="start" font-weight="bold" font-style="normal" fill="#1010c8" stroke="#1010c8" stroke-width="0.25" >Co</text>
<circle cx="234.0" cy="98.6" r="2.9" fill="#111"/>
<line x1="234.00" y1="98.60" x2="224.00" y2="80.80" stroke="#111" stroke-width="1.6" />
<polygon points="221.30,76.00 220.90,82.60 226.10,79.70" fill="#111" stroke="none" stroke-width="1.0" />
<line x1="234.00" y1="98.60" x2="251.00" y2="98.60" stroke="#111" stroke-width="1.6" />
<polygon points="256.20,98.60 250.40,95.60 250.40,101.60" fill="#111" stroke="none" stroke-width="1.0" />
<text x="212.80" y="81.80" font-size="10.5" text-anchor="start" font-weight="normal" font-style="italic" fill="#1a1a1a" stroke="#1a1a1a" stroke-width="0.25" >b</text>
<text x="224.80" y="106.60" font-size="10.5" text-anchor="start" font-weight="normal" font-style="italic" fill="#1a1a1a" stroke="#1a1a1a" stroke-width="0.25" >c</text>
<text x="256.40" y="105.60" font-size="10.5" text-anchor="start" font-weight="normal" font-style="italic" fill="#1a1a1a" stroke="#1a1a1a" stroke-width="0.25" >a</text>
</svg>
</body></html>
